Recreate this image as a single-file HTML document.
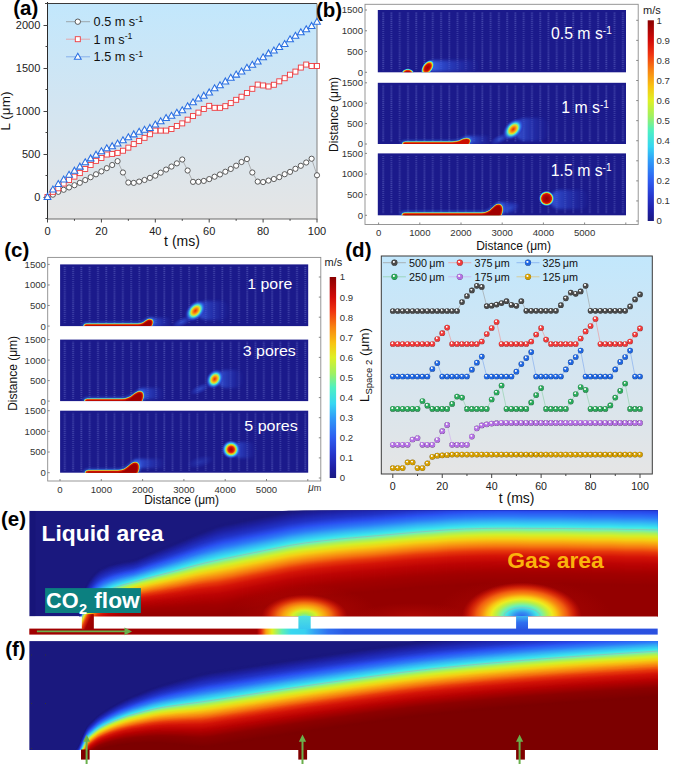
<!DOCTYPE html>
<html><head><meta charset="utf-8"><style>
html,body{margin:0;padding:0;background:#fff;width:685px;height:764px;overflow:hidden}
svg{display:block;font-family:"Liberation Sans",sans-serif}
</style></head><body>
<svg width="685" height="764" viewBox="0 0 685 764">
<defs><linearGradient id="bgA" x1="0" y1="0" x2="0" y2="1">
<stop offset="0" stop-color="#c2e7fc"/><stop offset="0.45" stop-color="#d2e5f2"/><stop offset="1" stop-color="#e5e5e5"/></linearGradient><linearGradient id="cbar" x1="0" y1="1" x2="0" y2="0"><stop offset="0" stop-color="#1a1a80"/><stop offset="0.05" stop-color="#1e1ea4"/><stop offset="0.12" stop-color="#2636cc"/><stop offset="0.2" stop-color="#2e5cf0"/><stop offset="0.3" stop-color="#2f9cf8"/><stop offset="0.37" stop-color="#36d6f2"/><stop offset="0.45" stop-color="#4ef0c2"/><stop offset="0.52" stop-color="#9ef062"/><stop offset="0.6" stop-color="#def024"/><stop offset="0.67" stop-color="#f8c412"/><stop offset="0.75" stop-color="#f88412"/><stop offset="0.83" stop-color="#f03410"/><stop offset="0.9" stop-color="#d20a08"/><stop offset="1.0" stop-color="#8a0000"/></linearGradient><radialGradient id="blobR3"><stop offset="0" stop-color="#a80000"/><stop offset="0.22" stop-color="#d00c06"/><stop offset="0.35" stop-color="#e83a0a"/><stop offset="0.45" stop-color="#f8b010"/><stop offset="0.55" stop-color="#b8f040"/><stop offset="0.65" stop-color="#40d8f0"/><stop offset="0.78" stop-color="#3a80f0" stop-opacity="0.8"/><stop offset="0.9" stop-color="#2a50d8" stop-opacity="0.35"/><stop offset="1" stop-color="#2a40d0" stop-opacity="0"/></radialGradient><radialGradient id="blobR"><stop offset="0" stop-color="#a00000"/><stop offset="0.3" stop-color="#c80804"/><stop offset="0.42" stop-color="#e83a0a"/><stop offset="0.5" stop-color="#f8b010"/><stop offset="0.58" stop-color="#b8f040"/><stop offset="0.66" stop-color="#40e0e8"/><stop offset="0.78" stop-color="#3a80f0" stop-opacity="0.8"/><stop offset="0.9" stop-color="#2a50d8" stop-opacity="0.35"/><stop offset="1" stop-color="#2a40d0" stop-opacity="0"/></radialGradient><radialGradient id="blobO"><stop offset="0" stop-color="#e83000"/><stop offset="0.2" stop-color="#f88010"/><stop offset="0.38" stop-color="#e8e020"/><stop offset="0.52" stop-color="#50e8d0"/><stop offset="0.68" stop-color="#3080f0" stop-opacity="0.8"/><stop offset="0.85" stop-color="#2a40d0" stop-opacity="0.35"/><stop offset="1" stop-color="#1c1a88" stop-opacity="0"/></radialGradient><radialGradient id="blobR2"><stop offset="0" stop-color="#a00000"/><stop offset="0.42" stop-color="#c80a04"/><stop offset="0.58" stop-color="#ec4a0a"/><stop offset="0.66" stop-color="#f8b010"/><stop offset="0.73" stop-color="#b8f040"/><stop offset="0.8" stop-color="#40e0e8"/><stop offset="0.9" stop-color="#3070f0" stop-opacity="0.6"/><stop offset="1" stop-color="#2a40d0" stop-opacity="0"/></radialGradient><radialGradient id="blobC"><stop offset="0" stop-color="#900000"/><stop offset="0.45" stop-color="#b80404"/><stop offset="0.64" stop-color="#e02008"/><stop offset="0.71" stop-color="#f8b010"/><stop offset="0.77" stop-color="#a0f060"/><stop offset="0.83" stop-color="#40d8f0"/><stop offset="0.92" stop-color="#3070f0" stop-opacity="0.5"/><stop offset="1" stop-color="#2a40d0" stop-opacity="0"/></radialGradient><radialGradient id="plume"><stop offset="0" stop-color="#3a60e0" stop-opacity="0.75"/><stop offset="0.6" stop-color="#3050d8" stop-opacity="0.35"/><stop offset="1" stop-color="#2a3ad0" stop-opacity="0"/></radialGradient><filter id="blur06" x="-20%" y="-50%" width="140%" height="200%"><feGaussianBlur stdDeviation="0.6"/></filter><filter id="blur05" x="-20%" y="-50%" width="140%" height="200%"><feGaussianBlur stdDeviation="0.5"/></filter><filter id="blur04" x="-20%" y="-50%" width="140%" height="200%"><feGaussianBlur stdDeviation="0.4"/></filter><filter id="blur1" x="-30%" y="-50%" width="160%" height="200%"><feGaussianBlur stdDeviation="1.1"/></filter><filter id="blur2" x="-30%" y="-60%" width="160%" height="220%"><feGaussianBlur stdDeviation="1.8"/></filter><linearGradient id="wakeG" x1="0" y1="0" x2="1" y2="0"><stop offset="0" stop-color="#3e6af0" stop-opacity="0.95"/><stop offset="0.35" stop-color="#3458e0" stop-opacity="0.6"/><stop offset="1" stop-color="#2a40d0" stop-opacity="0"/></linearGradient><pattern id="pb" x="382" y="0" width="8.265" height="2.05" patternUnits="userSpaceOnUse"><rect x="0.3" y="0.3" width="1.8" height="1" fill="#8890e0" fill-opacity="0.4"/></pattern><clipPath id="pbc10"><rect x="377.8" y="10.0" width="248.2" height="62.3"/></clipPath><clipPath id="pbc82"><rect x="377.8" y="82.8" width="248.2" height="61.2"/></clipPath><clipPath id="pbc153"><rect x="377.8" y="153.4" width="248.2" height="61.9"/></clipPath><pattern id="pc" x="63.6" y="0" width="8.293" height="2.05" patternUnits="userSpaceOnUse"><rect x="0.3" y="0.3" width="1.8" height="1" fill="#8890e0" fill-opacity="0.4"/></pattern><clipPath id="pcc264"><rect x="60.1" y="264.4" width="248.1" height="61.7"/></clipPath><clipPath id="pcc339"><rect x="60.1" y="339.6" width="248.1" height="61.5"/></clipPath><clipPath id="pcc410"><rect x="60.1" y="410.7" width="248.1" height="62"/></clipPath><linearGradient id="bgD" x1="0" y1="0" x2="0" y2="1"><stop offset="0" stop-color="#c2e7fc"/><stop offset="0.45" stop-color="#d2e5f2"/><stop offset="1" stop-color="#e5e5e5"/></linearGradient><radialGradient id="ballg" cx="0.5" cy="0.5" r="0.5" fx="0.36" fy="0.3"><stop offset="0" stop-color="#ffffff"/><stop offset="0.22" stop-color="#f4f4f4" stop-opacity="1"/><stop offset="0.45" stop-color="#4a4a4a"/><stop offset="0.85" stop-color="#4a4a4a"/><stop offset="1" stop-color="#2c2c2c"/></radialGradient><radialGradient id="ballr" cx="0.5" cy="0.5" r="0.5" fx="0.36" fy="0.3"><stop offset="0" stop-color="#ffffff"/><stop offset="0.22" stop-color="#f4f4f4" stop-opacity="1"/><stop offset="0.45" stop-color="#f03a3a"/><stop offset="0.85" stop-color="#f03a3a"/><stop offset="1" stop-color="#902222"/></radialGradient><radialGradient id="ballb" cx="0.5" cy="0.5" r="0.5" fx="0.36" fy="0.3"><stop offset="0" stop-color="#ffffff"/><stop offset="0.22" stop-color="#f4f4f4" stop-opacity="1"/><stop offset="0.45" stop-color="#1f66e0"/><stop offset="0.85" stop-color="#1f66e0"/><stop offset="1" stop-color="#123d86"/></radialGradient><radialGradient id="balln" cx="0.5" cy="0.5" r="0.5" fx="0.36" fy="0.3"><stop offset="0" stop-color="#ffffff"/><stop offset="0.22" stop-color="#f4f4f4" stop-opacity="1"/><stop offset="0.45" stop-color="#2aa85a"/><stop offset="0.85" stop-color="#2aa85a"/><stop offset="1" stop-color="#196436"/></radialGradient><radialGradient id="ballp" cx="0.5" cy="0.5" r="0.5" fx="0.36" fy="0.3"><stop offset="0" stop-color="#ffffff"/><stop offset="0.22" stop-color="#f4f4f4" stop-opacity="1"/><stop offset="0.45" stop-color="#b470e4"/><stop offset="0.85" stop-color="#b470e4"/><stop offset="1" stop-color="#6c4388"/></radialGradient><radialGradient id="ballo" cx="0.5" cy="0.5" r="0.5" fx="0.36" fy="0.3"><stop offset="0" stop-color="#ffffff"/><stop offset="0.22" stop-color="#f4f4f4" stop-opacity="1"/><stop offset="0.45" stop-color="#d49e00"/><stop offset="0.85" stop-color="#d49e00"/><stop offset="1" stop-color="#7f5e00"/></radialGradient><clipPath id="clipE"><rect x="29.3" y="510.8" width="628.4" height="105.7"/></clipPath><radialGradient id="poreGlow2"><stop offset="0" stop-color="#60e8d0"/><stop offset="0.14" stop-color="#a0f050"/><stop offset="0.28" stop-color="#d8f028"/><stop offset="0.36" stop-color="#f0d018"/><stop offset="0.5" stop-color="#f8a010"/><stop offset="0.64" stop-color="#f06810"/><stop offset="0.8" stop-color="#e03008" stop-opacity="0.8"/><stop offset="1" stop-color="#d01008" stop-opacity="0"/></radialGradient><radialGradient id="poreGlow3"><stop offset="0" stop-color="#2e64f0"/><stop offset="0.12" stop-color="#3490f0"/><stop offset="0.25" stop-color="#40e0e8"/><stop offset="0.33" stop-color="#70f0b0"/><stop offset="0.43" stop-color="#b8f048"/><stop offset="0.51" stop-color="#ecec20"/><stop offset="0.58" stop-color="#f8c814"/><stop offset="0.66" stop-color="#f89010"/><stop offset="0.76" stop-color="#f05a10"/><stop offset="0.88" stop-color="#e02808" stop-opacity="0.7"/><stop offset="1" stop-color="#d01008" stop-opacity="0"/></radialGradient><radialGradient id="bottomRed"><stop offset="0" stop-color="#d81408" stop-opacity="0.8"/><stop offset="1" stop-color="#d01008" stop-opacity="0"/></radialGradient><linearGradient id="stripE" x1="29.3" y1="0" x2="657.7" y2="0" gradientUnits="userSpaceOnUse"><stop offset="0" stop-color="#a00000"/><stop offset="0.3623" stop-color="#a00000"/><stop offset="0.3687" stop-color="#e02010"/><stop offset="0.3767" stop-color="#f8a010"/><stop offset="0.3862" stop-color="#e0f020"/><stop offset="0.4021" stop-color="#60f0b0"/><stop offset="0.4165" stop-color="#38d8f0"/><stop offset="0.4387" stop-color="#38d0f0"/><stop offset="0.4546" stop-color="#34a0f4"/><stop offset="0.4753" stop-color="#3070f0"/><stop offset="0.5024" stop-color="#2a58e4"/><stop offset="1" stop-color="#2a50e0"/></linearGradient><linearGradient id="plugG" x1="0" y1="0" x2="1" y2="0.6"><stop offset="0" stop-color="#40d0f0"/><stop offset="0.2" stop-color="#f0e020"/><stop offset="0.4" stop-color="#e83a0c"/><stop offset="0.65" stop-color="#a80000"/><stop offset="1" stop-color="#980000"/></linearGradient><linearGradient id="pore2G" x1="0" y1="0" x2="0" y2="1"><stop offset="0" stop-color="#50e0e0"/><stop offset="1" stop-color="#38c8f0"/></linearGradient><linearGradient id="pore3G" x1="0" y1="0" x2="0" y2="1"><stop offset="0" stop-color="#40b8f0"/><stop offset="0.5" stop-color="#3070f0"/><stop offset="1" stop-color="#2a58e4"/></linearGradient><clipPath id="clipF"><rect x="29.2" y="641.1" width="628.5" height="108.9"/></clipPath><radialGradient id="pore1F" cx="0.5" cy="1" r="1"><stop offset="0" stop-color="#40d8f0" stop-opacity="0.9"/><stop offset="0.5" stop-color="#3a90f0" stop-opacity="0.6"/><stop offset="1" stop-color="#2a40d0" stop-opacity="0"/></radialGradient></defs>
<rect x="47.5" y="3.5" width="269.5" height="215.5" fill="url(#bgA)"/><path d="M45 3.5H317.0" stroke="#3a3a3a" stroke-width="1"/><path d="M47.5 2V219.5" stroke="#2a2a2a" stroke-width="1"/><path d="M47.5 219.0H317.5" stroke="#6a6a6a" stroke-width="1.1"/><path d="M317.0 3.5V219.0" stroke="#8a8a8a" stroke-width="1.1"/><path d="M45.5 218.5H47.5M43.5 197.5H47.5M45.5 175.5H47.5M43.5 154.5H47.5M45.5 132.5H47.5M43.5 111.5H47.5M45.5 89.5H47.5M43.5 68.5H47.5M45.5 46.5H47.5M43.5 25.5H47.5M45.5 3.5H47.5M47.5 219.0V222.5M74.45 219.0V220.8M101.4 219.0V222.5M128.35 219.0V220.8M155.3 219.0V222.5M182.25 219.0V220.8M209.2 219.0V222.5M236.15 219.0V220.8M263.1 219.0V222.5M290.05 219.0V220.8M317 219.0V222.5" stroke="#444" stroke-width="1"/><polyline points="47.5,197 52.89,194.68 58.28,191.84 63.67,189.78 69.06,187.45 74.45,185.22 79.84,182.81 85.23,180.06 90.62,177.22 96.01,174.3 101.4,171.37 106.79,168.19 112.18,165.01 117.57,161.14 122.96,172.49 128.35,182.55 133.74,182.9 139.13,181.61 144.52,179.97 149.91,177.91 155.3,175.67 160.69,172.66 166.08,169.57 171.47,166.56 176.86,163.37 182.25,159.5 187.64,170.51 193.03,181.86 198.42,181.78 203.81,180.92 209.2,179.11 214.59,176.7 219.98,174.47 225.37,171.72 230.76,168.96 236.15,165.7 241.54,162 246.93,159.07 252.32,172.49 257.71,181.61 263.1,182.04 268.49,180.57 273.88,179.03 279.27,177.13 284.66,174.21 290.05,171.89 295.44,168.79 300.83,165.78 306.22,162.51 311.61,158.73 317,175.24" fill="none" stroke="#8a8a8a" stroke-width="0.6"/><polyline points="47.5,197 52.89,191.84 58.28,188.31 63.67,183.58 69.06,180.06 74.45,176.62 79.84,173.09 85.23,168.96 90.62,165.01 96.01,160.88 101.4,158.04 106.79,154.52 112.18,153.91 117.57,152.88 122.96,150.73 128.35,147.64 133.74,144.11 139.13,141.01 144.52,137.83 149.91,134.22 155.3,130.61 160.69,130.61 166.08,130.61 171.47,128.97 176.86,125.96 182.25,123.38 187.64,119.69 193.03,116.07 198.42,112.63 203.81,108.94 209.2,105.84 214.59,107.82 219.98,107.82 225.37,106.18 230.76,103.09 236.15,99.82 241.54,96.72 246.93,93.03 252.32,88.81 257.71,84.6 263.1,85.46 268.49,86.49 273.88,84.77 279.27,81.33 284.66,78.23 290.05,74.71 295.44,71.61 300.83,67.57 306.22,64.56 311.61,66.02 317,66.02" fill="none" stroke="#f08a8a" stroke-width="0.6"/><polyline points="47.5,197 52.89,189.69 58.28,184.19 63.67,179.63 69.06,174.9 74.45,170.77 79.84,166.73 85.23,162.34 90.62,158.47 96.01,154.77 101.4,151.33 106.79,148.41 112.18,146.26 117.57,143.68 122.96,140.41 128.35,137.4 133.74,134.48 139.13,131.9 144.52,129.92 149.91,128.03 155.3,124.67 160.69,121.41 166.08,118.14 171.47,115.9 176.86,112.89 182.25,110.31 187.64,106.44 193.03,102.31 198.42,98.53 203.81,95.78 209.2,92.51 214.59,88.38 219.98,85.29 225.37,81.5 230.76,77.8 236.15,74.71 241.54,71.61 246.93,67.91 252.32,64.9 257.71,61.55 263.1,57.42 268.49,53.47 273.88,50.54 279.27,47.19 284.66,44.09 290.05,39.36 295.44,35.92 300.83,32.4 306.22,29.3 311.61,26.03 317,21.82" fill="none" stroke="#6a9ae8" stroke-width="0.6"/><g fill="#fff" stroke="#4a4a4a" stroke-width="0.9"><circle cx="47.5" cy="197" r="2.6"/><circle cx="52.89" cy="194.68" r="2.6"/><circle cx="58.28" cy="191.84" r="2.6"/><circle cx="63.67" cy="189.78" r="2.6"/><circle cx="69.06" cy="187.45" r="2.6"/><circle cx="74.45" cy="185.22" r="2.6"/><circle cx="79.84" cy="182.81" r="2.6"/><circle cx="85.23" cy="180.06" r="2.6"/><circle cx="90.62" cy="177.22" r="2.6"/><circle cx="96.01" cy="174.3" r="2.6"/><circle cx="101.4" cy="171.37" r="2.6"/><circle cx="106.79" cy="168.19" r="2.6"/><circle cx="112.18" cy="165.01" r="2.6"/><circle cx="117.57" cy="161.14" r="2.6"/><circle cx="122.96" cy="172.49" r="2.6"/><circle cx="128.35" cy="182.55" r="2.6"/><circle cx="133.74" cy="182.9" r="2.6"/><circle cx="139.13" cy="181.61" r="2.6"/><circle cx="144.52" cy="179.97" r="2.6"/><circle cx="149.91" cy="177.91" r="2.6"/><circle cx="155.3" cy="175.67" r="2.6"/><circle cx="160.69" cy="172.66" r="2.6"/><circle cx="166.08" cy="169.57" r="2.6"/><circle cx="171.47" cy="166.56" r="2.6"/><circle cx="176.86" cy="163.37" r="2.6"/><circle cx="182.25" cy="159.5" r="2.6"/><circle cx="187.64" cy="170.51" r="2.6"/><circle cx="193.03" cy="181.86" r="2.6"/><circle cx="198.42" cy="181.78" r="2.6"/><circle cx="203.81" cy="180.92" r="2.6"/><circle cx="209.2" cy="179.11" r="2.6"/><circle cx="214.59" cy="176.7" r="2.6"/><circle cx="219.98" cy="174.47" r="2.6"/><circle cx="225.37" cy="171.72" r="2.6"/><circle cx="230.76" cy="168.96" r="2.6"/><circle cx="236.15" cy="165.7" r="2.6"/><circle cx="241.54" cy="162" r="2.6"/><circle cx="246.93" cy="159.07" r="2.6"/><circle cx="252.32" cy="172.49" r="2.6"/><circle cx="257.71" cy="181.61" r="2.6"/><circle cx="263.1" cy="182.04" r="2.6"/><circle cx="268.49" cy="180.57" r="2.6"/><circle cx="273.88" cy="179.03" r="2.6"/><circle cx="279.27" cy="177.13" r="2.6"/><circle cx="284.66" cy="174.21" r="2.6"/><circle cx="290.05" cy="171.89" r="2.6"/><circle cx="295.44" cy="168.79" r="2.6"/><circle cx="300.83" cy="165.78" r="2.6"/><circle cx="306.22" cy="162.51" r="2.6"/><circle cx="311.61" cy="158.73" r="2.6"/><circle cx="317" cy="175.24" r="2.6"/></g><g fill="#fff" stroke="#ee3b3f" stroke-width="0.9"><rect x="45" y="194.5" width="5" height="5"/><rect x="50.39" y="189.34" width="5" height="5"/><rect x="55.78" y="185.81" width="5" height="5"/><rect x="61.17" y="181.08" width="5" height="5"/><rect x="66.56" y="177.56" width="5" height="5"/><rect x="71.95" y="174.12" width="5" height="5"/><rect x="77.34" y="170.59" width="5" height="5"/><rect x="82.73" y="166.46" width="5" height="5"/><rect x="88.12" y="162.51" width="5" height="5"/><rect x="93.51" y="158.38" width="5" height="5"/><rect x="98.9" y="155.54" width="5" height="5"/><rect x="104.29" y="152.02" width="5" height="5"/><rect x="109.68" y="151.41" width="5" height="5"/><rect x="115.07" y="150.38" width="5" height="5"/><rect x="120.46" y="148.23" width="5" height="5"/><rect x="125.85" y="145.14" width="5" height="5"/><rect x="131.24" y="141.61" width="5" height="5"/><rect x="136.63" y="138.51" width="5" height="5"/><rect x="142.02" y="135.33" width="5" height="5"/><rect x="147.41" y="131.72" width="5" height="5"/><rect x="152.8" y="128.11" width="5" height="5"/><rect x="158.19" y="128.11" width="5" height="5"/><rect x="163.58" y="128.11" width="5" height="5"/><rect x="168.97" y="126.47" width="5" height="5"/><rect x="174.36" y="123.46" width="5" height="5"/><rect x="179.75" y="120.88" width="5" height="5"/><rect x="185.14" y="117.19" width="5" height="5"/><rect x="190.53" y="113.57" width="5" height="5"/><rect x="195.92" y="110.13" width="5" height="5"/><rect x="201.31" y="106.44" width="5" height="5"/><rect x="206.7" y="103.34" width="5" height="5"/><rect x="212.09" y="105.32" width="5" height="5"/><rect x="217.48" y="105.32" width="5" height="5"/><rect x="222.87" y="103.68" width="5" height="5"/><rect x="228.26" y="100.59" width="5" height="5"/><rect x="233.65" y="97.32" width="5" height="5"/><rect x="239.04" y="94.22" width="5" height="5"/><rect x="244.43" y="90.53" width="5" height="5"/><rect x="249.82" y="86.31" width="5" height="5"/><rect x="255.21" y="82.1" width="5" height="5"/><rect x="260.6" y="82.96" width="5" height="5"/><rect x="265.99" y="83.99" width="5" height="5"/><rect x="271.38" y="82.27" width="5" height="5"/><rect x="276.77" y="78.83" width="5" height="5"/><rect x="282.16" y="75.73" width="5" height="5"/><rect x="287.55" y="72.21" width="5" height="5"/><rect x="292.94" y="69.11" width="5" height="5"/><rect x="298.33" y="65.07" width="5" height="5"/><rect x="303.72" y="62.06" width="5" height="5"/><rect x="309.11" y="63.52" width="5" height="5"/><rect x="314.5" y="63.52" width="5" height="5"/></g><g fill="#fff" stroke="#2a6fe2" stroke-width="1.05" stroke-linejoin="miter"><path d="M47.5 193.4L50.9 199.4L44.1 199.4Z"/><path d="M52.89 186.09L56.29 192.09L49.49 192.09Z"/><path d="M58.28 180.59L61.68 186.59L54.88 186.59Z"/><path d="M63.67 176.03L67.07 182.03L60.27 182.03Z"/><path d="M69.06 171.3L72.46 177.3L65.66 177.3Z"/><path d="M74.45 167.17L77.85 173.17L71.05 173.17Z"/><path d="M79.84 163.13L83.24 169.13L76.44 169.13Z"/><path d="M85.23 158.74L88.63 164.74L81.83 164.74Z"/><path d="M90.62 154.87L94.02 160.87L87.22 160.87Z"/><path d="M96.01 151.17L99.41 157.17L92.61 157.17Z"/><path d="M101.4 147.73L104.8 153.73L98 153.73Z"/><path d="M106.79 144.81L110.19 150.81L103.39 150.81Z"/><path d="M112.18 142.66L115.58 148.66L108.78 148.66Z"/><path d="M117.57 140.08L120.97 146.08L114.17 146.08Z"/><path d="M122.96 136.81L126.36 142.81L119.56 142.81Z"/><path d="M128.35 133.8L131.75 139.8L124.95 139.8Z"/><path d="M133.74 130.88L137.14 136.88L130.34 136.88Z"/><path d="M139.13 128.3L142.53 134.3L135.73 134.3Z"/><path d="M144.52 126.32L147.92 132.32L141.12 132.32Z"/><path d="M149.91 124.43L153.31 130.43L146.51 130.43Z"/><path d="M155.3 121.07L158.7 127.07L151.9 127.07Z"/><path d="M160.69 117.81L164.09 123.81L157.29 123.81Z"/><path d="M166.08 114.54L169.48 120.54L162.68 120.54Z"/><path d="M171.47 112.3L174.87 118.3L168.07 118.3Z"/><path d="M176.86 109.29L180.26 115.29L173.46 115.29Z"/><path d="M182.25 106.71L185.65 112.71L178.85 112.71Z"/><path d="M187.64 102.84L191.04 108.84L184.24 108.84Z"/><path d="M193.03 98.71L196.43 104.71L189.63 104.71Z"/><path d="M198.42 94.93L201.82 100.93L195.02 100.93Z"/><path d="M203.81 92.18L207.21 98.18L200.41 98.18Z"/><path d="M209.2 88.91L212.6 94.91L205.8 94.91Z"/><path d="M214.59 84.78L217.99 90.78L211.19 90.78Z"/><path d="M219.98 81.69L223.38 87.69L216.58 87.69Z"/><path d="M225.37 77.9L228.77 83.9L221.97 83.9Z"/><path d="M230.76 74.2L234.16 80.2L227.36 80.2Z"/><path d="M236.15 71.11L239.55 77.11L232.75 77.11Z"/><path d="M241.54 68.01L244.94 74.01L238.14 74.01Z"/><path d="M246.93 64.31L250.33 70.31L243.53 70.31Z"/><path d="M252.32 61.3L255.72 67.3L248.92 67.3Z"/><path d="M257.71 57.95L261.11 63.95L254.31 63.95Z"/><path d="M263.1 53.82L266.5 59.82L259.7 59.82Z"/><path d="M268.49 49.87L271.89 55.87L265.09 55.87Z"/><path d="M273.88 46.94L277.28 52.94L270.48 52.94Z"/><path d="M279.27 43.59L282.67 49.59L275.87 49.59Z"/><path d="M284.66 40.49L288.06 46.49L281.26 46.49Z"/><path d="M290.05 35.76L293.45 41.76L286.65 41.76Z"/><path d="M295.44 32.32L298.84 38.32L292.04 38.32Z"/><path d="M300.83 28.8L304.23 34.8L297.43 34.8Z"/><path d="M306.22 25.7L309.62 31.7L302.82 31.7Z"/><path d="M311.61 22.43L315.01 28.43L308.21 28.43Z"/><path d="M317 18.22L320.4 24.22L313.6 24.22Z"/></g><g font-size="11" fill="#222"><text x="40.3" y="201" text-anchor="end">0</text><text x="40.3" y="158" text-anchor="end">500</text><text x="40.3" y="115" text-anchor="end">1000</text><text x="40.3" y="72" text-anchor="end">1500</text><text x="40.3" y="29" text-anchor="end">2000</text><text x="47.5" y="235" text-anchor="middle">0</text><text x="101.4" y="235" text-anchor="middle">20</text><text x="155.3" y="235" text-anchor="middle">40</text><text x="209.2" y="235" text-anchor="middle">60</text><text x="263.1" y="235" text-anchor="middle">80</text><text x="317" y="235" text-anchor="middle">100</text></g><text x="182" y="246.3" font-size="14" text-anchor="middle" fill="#111">t (ms)</text><text transform="translate(9.6 111) rotate(-90)" font-size="13.5" text-anchor="middle" fill="#111">L (μm)</text><text x="13.2" y="14.6" font-size="20.5" font-weight="bold" fill="#000">(a)</text><path d="M66 21.7H90" stroke="#8a8a8a" stroke-width="0.7"/><circle cx="77.8" cy="21.7" r="2.7" fill="#fff" stroke="#4a4a4a" stroke-width="0.9"/><text x="93.6" y="26" font-size="12.7" fill="#111">0.5 m s<tspan font-size="8.8" dy="-4.4">-1</tspan></text><path d="M66 39.2H90" stroke="#f08a8a" stroke-width="0.7"/><rect x="75.3" y="36.7" width="5" height="5" fill="#fff" stroke="#ee3b3f" stroke-width="0.9"/><text x="93.6" y="43.5" font-size="12.7" fill="#111">1 m s<tspan font-size="8.8" dy="-4.4">-1</tspan></text><path d="M66 56.8H90" stroke="#6a9ae8" stroke-width="0.7"/><path d="M77.8 53.199999999999996L81.2 59.199999999999996L74.39999999999999 59.199999999999996Z" fill="#fff" stroke="#2a6fe2" stroke-width="1.05"/><text x="93.6" y="61.1" font-size="12.7" fill="#111">1.5 m s<tspan font-size="8.8" dy="-4.4">-1</tspan></text><rect x="365.0" y="4.3" width="273.2" height="220.2" fill="none" stroke="#8c8c8c" stroke-width="0.9"/><rect x="377.8" y="10.0" width="248.2" height="62.3" fill="#1b1a8b"/><rect x="377.8" y="12" width="248.2" height="58.3" fill="url(#pb)"/><rect x="377.8" y="82.8" width="248.2" height="61.2" fill="#1b1a8b"/><rect x="377.8" y="84.8" width="248.2" height="57.2" fill="url(#pb)"/><rect x="377.8" y="153.4" width="248.2" height="61.9" fill="#1b1a8b"/><rect x="377.8" y="155.4" width="248.2" height="57.9" fill="url(#pb)"/><g clip-path="url(#pbc10)"><rect x="428" y="60.5" width="52" height="11" rx="5.5" fill="url(#wakeG)" opacity="1.0" filter="url(#blur2)"/><ellipse cx="407.8" cy="72.6" rx="6.4" ry="4" transform="rotate(0 407.8 72.6)" fill="url(#blobR2)"/><ellipse cx="427.6" cy="67.6" rx="5.4" ry="8.8" transform="rotate(36 427.6 67.6)" fill="url(#blobR2)"/></g><g clip-path="url(#pbc82)"><rect x="514" y="118" width="36" height="23" rx="11.5" fill="url(#wakeG)" opacity="0.8" filter="url(#blur2)"/><rect x="464" y="136" width="28" height="8.5" rx="4.25" fill="url(#wakeG)" opacity="1.0" filter="url(#blur2)"/><ellipse cx="500" cy="139" rx="11" ry="4.5" transform="rotate(-25 500 139)" fill="url(#plume)" opacity="1.0"/><path d="M400.18 144.5C400.18 139.9 404.8 139.9 407.3 139.9L452 139.9C459.98 139.9 462.15 136.4 466.5 136.4C473.56 136.4 473.22 141.34 470.08 144.5Z" fill="#3a78f0" opacity="0.5" filter="url(#blur1)"/><path d="M401.92 144.5C401.92 141.35 404.8 141.35 407.3 141.35L452 141.35C459.98 141.35 462.15 137.85 466.5 137.85C471.96 137.85 471.48 141.85 468.92 144.5Z" fill="#48d8e8" filter="url(#blur05)"/><path d="M402.4 144.5C402.4 141.75 404.8 141.75 407.3 141.75L452 141.75C459.98 141.75 462.15 138.25 466.5 138.25C471.52 138.25 471 141.99 468.6 144.5Z" fill="#d8e830" filter="url(#blur05)"/><path d="M402.82 144.5C402.82 142.1 404.8 142.1 407.3 142.1L452 142.1C459.98 142.1 462.15 138.6 466.5 138.6C471.14 138.6 470.58 142.11 468.32 144.5Z" fill="#f48a10" filter="url(#blur04)"/><path d="M403.3 144.5C403.3 142.5 404.8 142.5 407.3 142.5L452 142.5C459.98 142.5 462.15 139 466.5 139C470.7 139 470.1 142.25 468 144.5Z" fill="#cc0e06" filter="url(#blur04)"/><ellipse cx="513.2" cy="129.3" rx="8.8" ry="13.2" transform="rotate(42 513.2 129.3)" fill="url(#blobO)"/></g><g clip-path="url(#pbc153)"><rect x="550" y="190" width="40" height="19" rx="9.5" fill="url(#wakeG)" opacity="0.8" filter="url(#blur2)"/><rect x="497" y="202" width="23" height="11" rx="5.5" fill="url(#wakeG)" opacity="1.0" filter="url(#blur2)"/><ellipse cx="510" cy="208" rx="10" ry="5" transform="rotate(-20 510 208)" fill="url(#plume)" opacity="0.7"/><path d="M399.58 215.8C399.58 210.8 404.2 210.8 406.7 210.8L482 210.8C491.02 210.8 493.48 202.2 498.4 202.2C506.06 202.2 505.72 210.72 502.58 215.8Z" fill="#3a78f0" opacity="0.5" filter="url(#blur1)"/><path d="M401.32 215.8C401.32 212.25 404.2 212.25 406.7 212.25L482 212.25C491.02 212.25 493.48 203.65 498.4 203.65C504.46 203.65 503.98 211.22 501.42 215.8Z" fill="#48d8e8" filter="url(#blur05)"/><path d="M401.8 215.8C401.8 212.65 404.2 212.65 406.7 212.65L482 212.65C491.02 212.65 493.48 204.05 498.4 204.05C504.02 204.05 503.5 211.36 501.1 215.8Z" fill="#d8e830" filter="url(#blur05)"/><path d="M402.22 215.8C402.22 213 404.2 213 406.7 213L482 213C491.02 213 493.48 204.4 498.4 204.4C503.64 204.4 503.08 211.49 500.82 215.8Z" fill="#f48a10" filter="url(#blur04)"/><path d="M402.7 215.8C402.7 213.4 404.2 213.4 406.7 213.4L482 213.4C491.02 213.4 493.48 204.8 498.4 204.8C503.2 204.8 502.6 211.62 500.5 215.8Z" fill="#cc0e06" filter="url(#blur04)"/><path d="M404.26 215.8C404.26 214.7 404.2 214.7 406.7 214.7L482 214.7C491.02 214.7 493.48 206.1 498.4 206.1C501.77 206.1 501.04 212.08 499.46 215.8Z" fill="#a00000" filter="url(#blur05)"/><ellipse cx="546.6" cy="198.5" rx="7.8" ry="7.8" transform="rotate(0 546.6 198.5)" fill="url(#blobC)"/></g><path d="M365.0 72.3h2M365.0 51.53h2M365.0 30.77h2M365.0 10h2M365.0 144h2M365.0 123.6h2M365.0 103.2h2M365.0 82.8h2M365.0 215.3h2M365.0 194.67h2M365.0 174.03h2M365.0 153.4h2M378.6 224.5v-2M419.8 224.5v-2M461 224.5v-2M502.2 224.5v-2M543.4 224.5v-2M584.6 224.5v-2M625.8 224.5v-2M638.2 20.3h-2M638.2 40.37h-2M638.2 60.44h-2M638.2 80.51h-2M638.2 100.58h-2M638.2 120.65h-2M638.2 140.72h-2M638.2 160.79h-2M638.2 180.86h-2M638.2 200.93h-2M638.2 221h-2" stroke="#7a7a7a" stroke-width="0.9"/><rect x="647.7" y="20.3" width="6.2" height="200.7" fill="url(#cbar)"/><g font-size="9.6" fill="#333"><text x="363.0" y="75.7" text-anchor="end">0</text><text x="363.0" y="54.93" text-anchor="end">500</text><text x="363.0" y="34.17" text-anchor="end">1000</text><text x="363.0" y="13.4" text-anchor="end">1500</text><text x="363.0" y="147.4" text-anchor="end">0</text><text x="363.0" y="127" text-anchor="end">500</text><text x="363.0" y="106.6" text-anchor="end">1000</text><text x="363.0" y="86.2" text-anchor="end">1500</text><text x="363.0" y="218.7" text-anchor="end">0</text><text x="363.0" y="198.07" text-anchor="end">500</text><text x="363.0" y="177.43" text-anchor="end">1000</text><text x="363.0" y="156.8" text-anchor="end">1500</text><text x="378.6" y="236.3" text-anchor="middle">0</text><text x="419.8" y="236.3" text-anchor="middle">1000</text><text x="461" y="236.3" text-anchor="middle">2000</text><text x="502.2" y="236.3" text-anchor="middle">3000</text><text x="543.4" y="236.3" text-anchor="middle">4000</text><text x="584.6" y="236.3" text-anchor="middle">5000</text><text x="656.5" y="23.7">1</text><text x="656.5" y="43.77">0.9</text><text x="656.5" y="63.84">0.8</text><text x="656.5" y="83.91">0.7</text><text x="656.5" y="103.98">0.6</text><text x="656.5" y="124.05">0.5</text><text x="656.5" y="144.12">0.4</text><text x="656.5" y="164.19">0.3</text><text x="656.5" y="184.26">0.2</text><text x="656.5" y="204.33">0.1</text><text x="656.5" y="224.4">0</text></g><text x="643" y="13.5" font-size="11" fill="#222">m/s</text><text x="551" y="38.9" font-size="15.8" fill="#fff">0.5 m s<tspan font-size="10" dy="-4.6">-1</tspan></text><text x="561.3" y="112.9" font-size="15.8" fill="#fff">1 m s<tspan font-size="10" dy="-4.6">-1</tspan></text><text x="550.8" y="175.8" font-size="15.8" fill="#fff">1.5 m s<tspan font-size="10" dy="-4.6">-1</tspan></text><text transform="translate(338.3 114.5) rotate(-90)" font-size="12" text-anchor="middle" fill="#111">Distance (μm)</text><text x="476.2" y="250" font-size="12" fill="#111">Distance (μm)</text><text x="315.9" y="17.2" font-size="20.5" font-weight="bold" fill="#000">(b)</text><rect x="47.7" y="257.4" width="273.1" height="223.6" fill="none" stroke="#8c8c8c" stroke-width="0.9"/><rect x="60.1" y="264.4" width="248.1" height="61.7" fill="#1b1a8b"/><rect x="60.1" y="266.4" width="248.1" height="57.7" fill="url(#pc)"/><rect x="60.1" y="339.6" width="248.1" height="61.5" fill="#1b1a8b"/><rect x="60.1" y="341.6" width="248.1" height="57.5" fill="url(#pc)"/><rect x="60.1" y="410.7" width="248.1" height="62" fill="#1b1a8b"/><rect x="60.1" y="412.7" width="248.1" height="58" fill="url(#pc)"/><g clip-path="url(#pcc264)"><rect x="197" y="301" width="33" height="19" rx="9.5" fill="url(#wakeG)" opacity="0.8" filter="url(#blur2)"/><rect x="148" y="318" width="24" height="8.5" rx="4.25" fill="url(#wakeG)" opacity="1.0" filter="url(#blur2)"/><ellipse cx="182" cy="322" rx="11" ry="4.5" transform="rotate(-25 182 322)" fill="url(#plume)" opacity="1.0"/><path d="M81.38 326.6C81.38 321.8 86 321.8 88.5 321.8L138 321.8C144.32 321.8 146.05 317.1 149.5 317.1C156.36 317.1 156.02 322.95 152.88 326.6Z" fill="#3a78f0" opacity="0.5" filter="url(#blur1)"/><path d="M83.12 326.6C83.12 323.25 86 323.25 88.5 323.25L138 323.25C144.32 323.25 146.05 318.55 149.5 318.55C154.76 318.55 154.28 323.46 151.72 326.6Z" fill="#48d8e8" filter="url(#blur05)"/><path d="M83.6 326.6C83.6 323.65 86 323.65 88.5 323.65L138 323.65C144.32 323.65 146.05 318.95 149.5 318.95C154.32 318.95 153.8 323.6 151.4 326.6Z" fill="#d8e830" filter="url(#blur05)"/><path d="M84.02 326.6C84.02 324 86 324 88.5 324L138 324C144.32 324 146.05 319.3 149.5 319.3C153.94 319.3 153.38 323.72 151.12 326.6Z" fill="#f48a10" filter="url(#blur04)"/><path d="M84.5 326.6C84.5 324.4 86 324.4 88.5 324.4L138 324.4C144.32 324.4 146.05 319.7 149.5 319.7C153.5 319.7 152.9 323.86 150.8 326.6Z" fill="#cc0e06" filter="url(#blur04)"/><path d="M86.06 326.6C86.06 325.7 86 325.7 88.5 325.7L138 325.7C144.32 325.7 146.05 321 149.5 321C152.07 321 151.34 324.31 149.76 326.6Z" fill="#a00000" filter="url(#blur05)"/><ellipse cx="195.4" cy="310.8" rx="8.8" ry="13.2" transform="rotate(42 195.4 310.8)" fill="url(#blobO)"/></g><g clip-path="url(#pcc339)"><rect x="217" y="370" width="27" height="18" rx="9" fill="url(#wakeG)" opacity="0.8" filter="url(#blur2)"/><rect x="138" y="388" width="26" height="11" rx="5.5" fill="url(#wakeG)" opacity="1.0" filter="url(#blur2)"/><ellipse cx="200" cy="389" rx="11" ry="4.5" transform="rotate(-25 200 389)" fill="url(#plume)" opacity="0.9"/><path d="M82.18 401.6C82.18 396.9 86.8 396.9 89.3 396.9L122 396.9C131.79 396.9 134.46 389.4 139.8 389.4C146.86 389.4 146.52 397 143.38 401.6Z" fill="#3a78f0" opacity="0.5" filter="url(#blur1)"/><path d="M83.92 401.6C83.92 398.35 86.8 398.35 89.3 398.35L122 398.35C131.79 398.35 134.46 390.85 139.8 390.85C145.26 390.85 144.78 397.51 142.22 401.6Z" fill="#48d8e8" filter="url(#blur05)"/><path d="M84.4 401.6C84.4 398.75 86.8 398.75 89.3 398.75L122 398.75C131.79 398.75 134.46 391.25 139.8 391.25C144.82 391.25 144.3 397.65 141.9 401.6Z" fill="#d8e830" filter="url(#blur05)"/><path d="M84.82 401.6C84.82 399.1 86.8 399.1 89.3 399.1L122 399.1C131.79 399.1 134.46 391.6 139.8 391.6C144.44 391.6 143.88 397.78 141.62 401.6Z" fill="#f48a10" filter="url(#blur04)"/><path d="M85.3 401.6C85.3 399.5 86.8 399.5 89.3 399.5L122 399.5C131.79 399.5 134.46 392 139.8 392C144 392 143.4 397.92 141.3 401.6Z" fill="#cc0e06" filter="url(#blur04)"/><path d="M86.86 401.6C86.86 400.8 86.8 400.8 89.3 400.8L122 400.8C131.79 400.8 134.46 393.3 139.8 393.3C142.57 393.3 141.84 398.37 140.26 401.6Z" fill="#a00000" filter="url(#blur05)"/><ellipse cx="214.7" cy="379" rx="8.6" ry="11.2" transform="rotate(32 214.7 379)" fill="url(#blobO)"/></g><g clip-path="url(#pcc410)"><rect x="233" y="442" width="23" height="16" rx="8" fill="url(#wakeG)" opacity="0.8" filter="url(#blur2)"/><rect x="133" y="459" width="33" height="9" rx="4.5" fill="url(#wakeG)" opacity="1.0" filter="url(#blur2)"/><ellipse cx="200" cy="462" rx="14" ry="6" transform="rotate(-15 200 462)" fill="url(#plume)" opacity="0.5"/><path d="M82.78 473.5C82.78 468.4 87.4 468.4 89.9 468.4L118 468.4C127.46 468.4 130.04 460.2 135.2 460.2C142.56 460.2 142.22 468.52 139.08 473.5Z" fill="#3a78f0" opacity="0.5" filter="url(#blur1)"/><path d="M84.52 473.5C84.52 469.85 87.4 469.85 89.9 469.85L118 469.85C127.46 469.85 130.04 461.65 135.2 461.65C140.96 461.65 140.48 469.03 137.92 473.5Z" fill="#48d8e8" filter="url(#blur05)"/><path d="M85 473.5C85 470.25 87.4 470.25 89.9 470.25L118 470.25C127.46 470.25 130.04 462.05 135.2 462.05C140.52 462.05 140 469.17 137.6 473.5Z" fill="#d8e830" filter="url(#blur05)"/><path d="M85.42 473.5C85.42 470.6 87.4 470.6 89.9 470.6L118 470.6C127.46 470.6 130.04 462.4 135.2 462.4C140.14 462.4 139.58 469.29 137.32 473.5Z" fill="#f48a10" filter="url(#blur04)"/><path d="M85.9 473.5C85.9 471 87.4 471 89.9 471L118 471C127.46 471 130.04 462.8 135.2 462.8C139.7 462.8 139.1 469.43 137 473.5Z" fill="#cc0e06" filter="url(#blur04)"/><path d="M87.46 473.5C87.46 472.3 87.4 472.3 89.9 472.3L118 472.3C127.46 472.3 130.04 464.1 135.2 464.1C138.27 464.1 137.54 469.88 135.96 473.5Z" fill="#a00000" filter="url(#blur05)"/><ellipse cx="231.1" cy="449.5" rx="9.5" ry="9.5" transform="rotate(0 231.1 449.5)" fill="url(#blobR3)"/></g><path d="M47.7 326.1h2M47.7 305.53h2M47.7 284.97h2M47.7 264.4h2M47.7 401.1h2M47.7 380.6h2M47.7 360.1h2M47.7 339.6h2M47.7 472.7h2M47.7 452.03h2M47.7 431.37h2M47.7 410.7h2M60 481.0v-2M101.3 481.0v-2M142.6 481.0v-2M183.9 481.0v-2M225.2 481.0v-2M266.5 481.0v-2M307.8 481.0v-2M320.8 277h-2M320.8 297.1h-2M320.8 317.2h-2M320.8 337.3h-2M320.8 357.4h-2M320.8 377.5h-2M320.8 397.6h-2M320.8 417.7h-2M320.8 437.8h-2M320.8 457.9h-2M320.8 478h-2" stroke="#7a7a7a" stroke-width="0.9"/><rect x="329.7" y="277.0" width="6.4" height="201" fill="url(#cbar)"/><g font-size="9.6" fill="#333"><text x="45.9" y="329.5" text-anchor="end">0</text><text x="45.9" y="308.93" text-anchor="end">500</text><text x="45.9" y="288.37" text-anchor="end">1000</text><text x="45.9" y="267.8" text-anchor="end">1500</text><text x="45.9" y="404.5" text-anchor="end">0</text><text x="45.9" y="384" text-anchor="end">500</text><text x="45.9" y="363.5" text-anchor="end">1000</text><text x="45.9" y="343" text-anchor="end">1500</text><text x="45.9" y="476.1" text-anchor="end">0</text><text x="45.9" y="455.43" text-anchor="end">500</text><text x="45.9" y="434.77" text-anchor="end">1000</text><text x="45.9" y="414.1" text-anchor="end">1500</text><text x="60" y="492.8" text-anchor="middle">0</text><text x="101.3" y="492.8" text-anchor="middle">1000</text><text x="142.6" y="492.8" text-anchor="middle">2000</text><text x="183.9" y="492.8" text-anchor="middle">3000</text><text x="225.2" y="492.8" text-anchor="middle">4000</text><text x="266.5" y="492.8" text-anchor="middle">5000</text><text x="339.8" y="280.4">1</text><text x="339.8" y="300.5">0.9</text><text x="339.8" y="320.6">0.8</text><text x="339.8" y="340.7">0.7</text><text x="339.8" y="360.8">0.6</text><text x="339.8" y="380.9">0.5</text><text x="339.8" y="401">0.4</text><text x="339.8" y="421.1">0.3</text><text x="339.8" y="441.2">0.2</text><text x="339.8" y="461.3">0.1</text><text x="339.8" y="481.4">0</text></g><text x="324.6" y="266.3" font-size="11" fill="#222">m/s</text><text x="247.3" y="288.5" font-size="14.6" fill="#fff" textLength="45" lengthAdjust="spacingAndGlyphs">1 pore</text><text x="242.8" y="356.3" font-size="14.6" fill="#fff" textLength="53" lengthAdjust="spacingAndGlyphs">3 pores</text><text x="244.3" y="430.5" font-size="14.6" fill="#fff" textLength="53.5" lengthAdjust="spacingAndGlyphs">5 pores</text><text transform="translate(16.6 373.4) rotate(-90)" font-size="12" text-anchor="middle" fill="#111">Distance (μm)</text><text x="144.2" y="504.3" font-size="12" fill="#111">Distance (μm)</text><text x="308.2" y="490.5" font-size="10" fill="#333" font-style="italic">μ<tspan font-style="normal" font-size="9">m</tspan></text><text x="4.3" y="257.1" font-size="20.5" font-weight="bold" fill="#000">(c)</text><rect x="381.3" y="256.0" width="271" height="218" fill="url(#bgD)"/><polyline points="392.8,311 397.74,311 402.69,311 407.63,311 412.58,311 417.52,311 422.46,311 427.41,311 432.35,311 437.3,311 442.24,311 447.18,311 452.13,311 457.07,311 462.02,302.1 466.96,296 471.9,290.4 476.85,285.8 481.79,286.9 486.74,306.1 491.68,305.7 496.62,304.6 501.57,303.1 506.51,301.2 511.46,304.9 516.4,305.8 521.34,301.2 526.29,310.8 531.23,310.8 536.18,310.8 541.12,310.8 546.06,310.8 551.01,310.8 555.95,310.8 560.9,305.2 565.84,298.3 570.78,292.6 575.73,293.8 580.67,291.4 585.62,285.8 590.56,310.8 595.5,310.8 600.45,310.8 605.39,310.8 610.34,310.8 615.28,310.8 620.22,310.8 625.17,310.8 630.11,306.4 635.06,299.4 640,294.4" fill="none" stroke="#9a9a9a" stroke-width="0.6"/><polyline points="392.8,344 397.74,344 402.69,344 407.63,344 412.58,344 417.52,344 422.46,344 427.41,344 432.35,344 437.3,339 442.24,333.2 447.18,327.6 452.13,344 457.07,344 462.02,344 466.96,344 471.9,344 476.85,344 481.79,341.5 486.74,334 491.68,328 496.62,322 501.57,344 506.51,344 511.46,344 516.4,344 521.34,344 526.29,344 531.23,341.5 536.18,334.5 541.12,328 546.06,339.6 551.01,344 555.95,344 560.9,344 565.84,344 570.78,344 575.73,344 580.67,338.5 585.62,331.4 590.56,326 595.5,319 600.45,344 605.39,344 610.34,344 615.28,344 620.22,344 625.17,344 630.11,341.5 635.06,334.5 640,328.4" fill="none" stroke="#f09090" stroke-width="0.6"/><polyline points="392.8,376.5 397.74,376.5 402.69,376.5 407.63,376.5 412.58,376.5 417.52,376.5 422.46,376.5 427.41,376.5 432.35,369 437.3,363.1 442.24,376.5 447.18,376.5 452.13,376.5 457.07,376.5 462.02,376.5 466.96,376.5 471.9,369.7 476.85,362.7 481.79,356.6 486.74,376.5 491.68,376.5 496.62,376.5 501.57,376.5 506.51,376.5 511.46,376.5 516.4,371.7 521.34,364.1 526.29,358.1 531.23,352.1 536.18,376.5 541.12,376.5 546.06,376.5 551.01,376.5 555.95,376.5 560.9,376.5 565.84,369.4 570.78,362.2 575.73,357 580.67,350.6 585.62,376.5 590.56,376.5 595.5,376.5 600.45,376.5 605.39,376.5 610.34,376.5 615.28,369.4 620.22,361.9 625.17,357 630.11,350.6 635.06,376.5 640,376.5" fill="none" stroke="#7aa6ee" stroke-width="0.6"/><polyline points="392.8,408.9 397.74,408.9 402.69,408.9 407.63,408.9 412.58,408.9 417.52,408.9 422.46,401 427.41,405.7 432.35,408.9 437.3,408.9 442.24,408.9 447.18,408.9 452.13,403.9 457.07,396.6 462.02,397.6 466.96,408.9 471.9,408.9 476.85,408.9 481.79,408.9 486.74,408.9 491.68,399.5 496.62,392.5 501.57,385.5 506.51,408.9 511.46,408.9 516.4,408.9 521.34,408.9 526.29,408.9 531.23,402.4 536.18,395.1 541.12,388.1 546.06,408.9 551.01,408.9 555.95,408.9 560.9,408.9 565.84,408.9 570.78,401.6 575.73,394 580.67,387 585.62,389.9 590.56,408.9 595.5,408.9 600.45,408.9 605.39,408.9 610.34,405.4 615.28,397.6 620.22,390.8 625.17,383.5 630.11,408.9 635.06,408.9 640,408.9" fill="none" stroke="#8ad0a4" stroke-width="0.6"/><polyline points="392.8,444.8 397.74,444.8 402.69,444.8 407.63,444.8 412.58,439.5 417.52,438.1 422.46,444.8 427.41,444.8 432.35,444.8 437.3,440 442.24,431.2 447.18,424.9 452.13,444.8 457.07,444.8 462.02,444.8 466.96,444.8 471.9,436.6 476.85,428.3 481.79,425.4 486.74,424.3 491.68,423.6 496.62,423.2 501.57,422.9 506.51,422.9 511.46,422.9 516.4,422.9 521.34,422.9 526.29,422.9 531.23,422.9 536.18,422.9 541.12,422.9 546.06,422.9 551.01,422.9 555.95,422.9 560.9,422.9 565.84,422.9 570.78,422.9 575.73,422.9 580.67,422.9 585.62,422.9 590.56,422.9 595.5,422.9 600.45,422.9 605.39,422.9 610.34,422.9 615.28,422.9 620.22,422.9 625.17,422.9 630.11,422.9 635.06,422.9 640,422.9" fill="none" stroke="#d0a8f0" stroke-width="0.6"/><polyline points="392.8,468.1 397.74,468.1 402.69,468.1 407.63,462.3 412.58,462.3 417.52,468.1 422.46,468.1 427.41,463.3 432.35,456.8 437.3,455.7 442.24,455.3 447.18,455 452.13,454.6 457.07,454.6 462.02,454.6 466.96,454.6 471.9,454.6 476.85,454.6 481.79,454.6 486.74,454.6 491.68,454.6 496.62,454.6 501.57,454.6 506.51,454.6 511.46,454.6 516.4,454.6 521.34,454.6 526.29,454.6 531.23,454.6 536.18,454.6 541.12,454.6 546.06,454.6 551.01,454.6 555.95,454.6 560.9,454.6 565.84,454.6 570.78,454.6 575.73,454.6 580.67,454.6 585.62,454.6 590.56,454.6 595.5,454.6 600.45,454.6 605.39,454.6 610.34,454.6 615.28,454.6 620.22,454.6 625.17,454.6 630.11,454.6 635.06,454.6 640,454.6" fill="none" stroke="#e0c070" stroke-width="0.6"/><g fill="url(#ballg)"><circle cx="392.8" cy="311" r="2.85"/><circle cx="397.74" cy="311" r="2.85"/><circle cx="402.69" cy="311" r="2.85"/><circle cx="407.63" cy="311" r="2.85"/><circle cx="412.58" cy="311" r="2.85"/><circle cx="417.52" cy="311" r="2.85"/><circle cx="422.46" cy="311" r="2.85"/><circle cx="427.41" cy="311" r="2.85"/><circle cx="432.35" cy="311" r="2.85"/><circle cx="437.3" cy="311" r="2.85"/><circle cx="442.24" cy="311" r="2.85"/><circle cx="447.18" cy="311" r="2.85"/><circle cx="452.13" cy="311" r="2.85"/><circle cx="457.07" cy="311" r="2.85"/><circle cx="462.02" cy="302.1" r="2.85"/><circle cx="466.96" cy="296" r="2.85"/><circle cx="471.9" cy="290.4" r="2.85"/><circle cx="476.85" cy="285.8" r="2.85"/><circle cx="481.79" cy="286.9" r="2.85"/><circle cx="486.74" cy="306.1" r="2.85"/><circle cx="491.68" cy="305.7" r="2.85"/><circle cx="496.62" cy="304.6" r="2.85"/><circle cx="501.57" cy="303.1" r="2.85"/><circle cx="506.51" cy="301.2" r="2.85"/><circle cx="511.46" cy="304.9" r="2.85"/><circle cx="516.4" cy="305.8" r="2.85"/><circle cx="521.34" cy="301.2" r="2.85"/><circle cx="526.29" cy="310.8" r="2.85"/><circle cx="531.23" cy="310.8" r="2.85"/><circle cx="536.18" cy="310.8" r="2.85"/><circle cx="541.12" cy="310.8" r="2.85"/><circle cx="546.06" cy="310.8" r="2.85"/><circle cx="551.01" cy="310.8" r="2.85"/><circle cx="555.95" cy="310.8" r="2.85"/><circle cx="560.9" cy="305.2" r="2.85"/><circle cx="565.84" cy="298.3" r="2.85"/><circle cx="570.78" cy="292.6" r="2.85"/><circle cx="575.73" cy="293.8" r="2.85"/><circle cx="580.67" cy="291.4" r="2.85"/><circle cx="585.62" cy="285.8" r="2.85"/><circle cx="590.56" cy="310.8" r="2.85"/><circle cx="595.5" cy="310.8" r="2.85"/><circle cx="600.45" cy="310.8" r="2.85"/><circle cx="605.39" cy="310.8" r="2.85"/><circle cx="610.34" cy="310.8" r="2.85"/><circle cx="615.28" cy="310.8" r="2.85"/><circle cx="620.22" cy="310.8" r="2.85"/><circle cx="625.17" cy="310.8" r="2.85"/><circle cx="630.11" cy="306.4" r="2.85"/><circle cx="635.06" cy="299.4" r="2.85"/><circle cx="640" cy="294.4" r="2.85"/></g><g fill="url(#ballr)"><circle cx="392.8" cy="344" r="2.85"/><circle cx="397.74" cy="344" r="2.85"/><circle cx="402.69" cy="344" r="2.85"/><circle cx="407.63" cy="344" r="2.85"/><circle cx="412.58" cy="344" r="2.85"/><circle cx="417.52" cy="344" r="2.85"/><circle cx="422.46" cy="344" r="2.85"/><circle cx="427.41" cy="344" r="2.85"/><circle cx="432.35" cy="344" r="2.85"/><circle cx="437.3" cy="339" r="2.85"/><circle cx="442.24" cy="333.2" r="2.85"/><circle cx="447.18" cy="327.6" r="2.85"/><circle cx="452.13" cy="344" r="2.85"/><circle cx="457.07" cy="344" r="2.85"/><circle cx="462.02" cy="344" r="2.85"/><circle cx="466.96" cy="344" r="2.85"/><circle cx="471.9" cy="344" r="2.85"/><circle cx="476.85" cy="344" r="2.85"/><circle cx="481.79" cy="341.5" r="2.85"/><circle cx="486.74" cy="334" r="2.85"/><circle cx="491.68" cy="328" r="2.85"/><circle cx="496.62" cy="322" r="2.85"/><circle cx="501.57" cy="344" r="2.85"/><circle cx="506.51" cy="344" r="2.85"/><circle cx="511.46" cy="344" r="2.85"/><circle cx="516.4" cy="344" r="2.85"/><circle cx="521.34" cy="344" r="2.85"/><circle cx="526.29" cy="344" r="2.85"/><circle cx="531.23" cy="341.5" r="2.85"/><circle cx="536.18" cy="334.5" r="2.85"/><circle cx="541.12" cy="328" r="2.85"/><circle cx="546.06" cy="339.6" r="2.85"/><circle cx="551.01" cy="344" r="2.85"/><circle cx="555.95" cy="344" r="2.85"/><circle cx="560.9" cy="344" r="2.85"/><circle cx="565.84" cy="344" r="2.85"/><circle cx="570.78" cy="344" r="2.85"/><circle cx="575.73" cy="344" r="2.85"/><circle cx="580.67" cy="338.5" r="2.85"/><circle cx="585.62" cy="331.4" r="2.85"/><circle cx="590.56" cy="326" r="2.85"/><circle cx="595.5" cy="319" r="2.85"/><circle cx="600.45" cy="344" r="2.85"/><circle cx="605.39" cy="344" r="2.85"/><circle cx="610.34" cy="344" r="2.85"/><circle cx="615.28" cy="344" r="2.85"/><circle cx="620.22" cy="344" r="2.85"/><circle cx="625.17" cy="344" r="2.85"/><circle cx="630.11" cy="341.5" r="2.85"/><circle cx="635.06" cy="334.5" r="2.85"/><circle cx="640" cy="328.4" r="2.85"/></g><g fill="url(#ballb)"><circle cx="392.8" cy="376.5" r="2.85"/><circle cx="397.74" cy="376.5" r="2.85"/><circle cx="402.69" cy="376.5" r="2.85"/><circle cx="407.63" cy="376.5" r="2.85"/><circle cx="412.58" cy="376.5" r="2.85"/><circle cx="417.52" cy="376.5" r="2.85"/><circle cx="422.46" cy="376.5" r="2.85"/><circle cx="427.41" cy="376.5" r="2.85"/><circle cx="432.35" cy="369" r="2.85"/><circle cx="437.3" cy="363.1" r="2.85"/><circle cx="442.24" cy="376.5" r="2.85"/><circle cx="447.18" cy="376.5" r="2.85"/><circle cx="452.13" cy="376.5" r="2.85"/><circle cx="457.07" cy="376.5" r="2.85"/><circle cx="462.02" cy="376.5" r="2.85"/><circle cx="466.96" cy="376.5" r="2.85"/><circle cx="471.9" cy="369.7" r="2.85"/><circle cx="476.85" cy="362.7" r="2.85"/><circle cx="481.79" cy="356.6" r="2.85"/><circle cx="486.74" cy="376.5" r="2.85"/><circle cx="491.68" cy="376.5" r="2.85"/><circle cx="496.62" cy="376.5" r="2.85"/><circle cx="501.57" cy="376.5" r="2.85"/><circle cx="506.51" cy="376.5" r="2.85"/><circle cx="511.46" cy="376.5" r="2.85"/><circle cx="516.4" cy="371.7" r="2.85"/><circle cx="521.34" cy="364.1" r="2.85"/><circle cx="526.29" cy="358.1" r="2.85"/><circle cx="531.23" cy="352.1" r="2.85"/><circle cx="536.18" cy="376.5" r="2.85"/><circle cx="541.12" cy="376.5" r="2.85"/><circle cx="546.06" cy="376.5" r="2.85"/><circle cx="551.01" cy="376.5" r="2.85"/><circle cx="555.95" cy="376.5" r="2.85"/><circle cx="560.9" cy="376.5" r="2.85"/><circle cx="565.84" cy="369.4" r="2.85"/><circle cx="570.78" cy="362.2" r="2.85"/><circle cx="575.73" cy="357" r="2.85"/><circle cx="580.67" cy="350.6" r="2.85"/><circle cx="585.62" cy="376.5" r="2.85"/><circle cx="590.56" cy="376.5" r="2.85"/><circle cx="595.5" cy="376.5" r="2.85"/><circle cx="600.45" cy="376.5" r="2.85"/><circle cx="605.39" cy="376.5" r="2.85"/><circle cx="610.34" cy="376.5" r="2.85"/><circle cx="615.28" cy="369.4" r="2.85"/><circle cx="620.22" cy="361.9" r="2.85"/><circle cx="625.17" cy="357" r="2.85"/><circle cx="630.11" cy="350.6" r="2.85"/><circle cx="635.06" cy="376.5" r="2.85"/><circle cx="640" cy="376.5" r="2.85"/></g><g fill="url(#balln)"><circle cx="392.8" cy="408.9" r="2.85"/><circle cx="397.74" cy="408.9" r="2.85"/><circle cx="402.69" cy="408.9" r="2.85"/><circle cx="407.63" cy="408.9" r="2.85"/><circle cx="412.58" cy="408.9" r="2.85"/><circle cx="417.52" cy="408.9" r="2.85"/><circle cx="422.46" cy="401" r="2.85"/><circle cx="427.41" cy="405.7" r="2.85"/><circle cx="432.35" cy="408.9" r="2.85"/><circle cx="437.3" cy="408.9" r="2.85"/><circle cx="442.24" cy="408.9" r="2.85"/><circle cx="447.18" cy="408.9" r="2.85"/><circle cx="452.13" cy="403.9" r="2.85"/><circle cx="457.07" cy="396.6" r="2.85"/><circle cx="462.02" cy="397.6" r="2.85"/><circle cx="466.96" cy="408.9" r="2.85"/><circle cx="471.9" cy="408.9" r="2.85"/><circle cx="476.85" cy="408.9" r="2.85"/><circle cx="481.79" cy="408.9" r="2.85"/><circle cx="486.74" cy="408.9" r="2.85"/><circle cx="491.68" cy="399.5" r="2.85"/><circle cx="496.62" cy="392.5" r="2.85"/><circle cx="501.57" cy="385.5" r="2.85"/><circle cx="506.51" cy="408.9" r="2.85"/><circle cx="511.46" cy="408.9" r="2.85"/><circle cx="516.4" cy="408.9" r="2.85"/><circle cx="521.34" cy="408.9" r="2.85"/><circle cx="526.29" cy="408.9" r="2.85"/><circle cx="531.23" cy="402.4" r="2.85"/><circle cx="536.18" cy="395.1" r="2.85"/><circle cx="541.12" cy="388.1" r="2.85"/><circle cx="546.06" cy="408.9" r="2.85"/><circle cx="551.01" cy="408.9" r="2.85"/><circle cx="555.95" cy="408.9" r="2.85"/><circle cx="560.9" cy="408.9" r="2.85"/><circle cx="565.84" cy="408.9" r="2.85"/><circle cx="570.78" cy="401.6" r="2.85"/><circle cx="575.73" cy="394" r="2.85"/><circle cx="580.67" cy="387" r="2.85"/><circle cx="585.62" cy="389.9" r="2.85"/><circle cx="590.56" cy="408.9" r="2.85"/><circle cx="595.5" cy="408.9" r="2.85"/><circle cx="600.45" cy="408.9" r="2.85"/><circle cx="605.39" cy="408.9" r="2.85"/><circle cx="610.34" cy="405.4" r="2.85"/><circle cx="615.28" cy="397.6" r="2.85"/><circle cx="620.22" cy="390.8" r="2.85"/><circle cx="625.17" cy="383.5" r="2.85"/><circle cx="630.11" cy="408.9" r="2.85"/><circle cx="635.06" cy="408.9" r="2.85"/><circle cx="640" cy="408.9" r="2.85"/></g><g fill="url(#ballp)"><circle cx="392.8" cy="444.8" r="2.85"/><circle cx="397.74" cy="444.8" r="2.85"/><circle cx="402.69" cy="444.8" r="2.85"/><circle cx="407.63" cy="444.8" r="2.85"/><circle cx="412.58" cy="439.5" r="2.85"/><circle cx="417.52" cy="438.1" r="2.85"/><circle cx="422.46" cy="444.8" r="2.85"/><circle cx="427.41" cy="444.8" r="2.85"/><circle cx="432.35" cy="444.8" r="2.85"/><circle cx="437.3" cy="440" r="2.85"/><circle cx="442.24" cy="431.2" r="2.85"/><circle cx="447.18" cy="424.9" r="2.85"/><circle cx="452.13" cy="444.8" r="2.85"/><circle cx="457.07" cy="444.8" r="2.85"/><circle cx="462.02" cy="444.8" r="2.85"/><circle cx="466.96" cy="444.8" r="2.85"/><circle cx="471.9" cy="436.6" r="2.85"/><circle cx="476.85" cy="428.3" r="2.85"/><circle cx="481.79" cy="425.4" r="2.85"/><circle cx="486.74" cy="424.3" r="2.85"/><circle cx="491.68" cy="423.6" r="2.85"/><circle cx="496.62" cy="423.2" r="2.85"/><circle cx="501.57" cy="422.9" r="2.85"/><circle cx="506.51" cy="422.9" r="2.85"/><circle cx="511.46" cy="422.9" r="2.85"/><circle cx="516.4" cy="422.9" r="2.85"/><circle cx="521.34" cy="422.9" r="2.85"/><circle cx="526.29" cy="422.9" r="2.85"/><circle cx="531.23" cy="422.9" r="2.85"/><circle cx="536.18" cy="422.9" r="2.85"/><circle cx="541.12" cy="422.9" r="2.85"/><circle cx="546.06" cy="422.9" r="2.85"/><circle cx="551.01" cy="422.9" r="2.85"/><circle cx="555.95" cy="422.9" r="2.85"/><circle cx="560.9" cy="422.9" r="2.85"/><circle cx="565.84" cy="422.9" r="2.85"/><circle cx="570.78" cy="422.9" r="2.85"/><circle cx="575.73" cy="422.9" r="2.85"/><circle cx="580.67" cy="422.9" r="2.85"/><circle cx="585.62" cy="422.9" r="2.85"/><circle cx="590.56" cy="422.9" r="2.85"/><circle cx="595.5" cy="422.9" r="2.85"/><circle cx="600.45" cy="422.9" r="2.85"/><circle cx="605.39" cy="422.9" r="2.85"/><circle cx="610.34" cy="422.9" r="2.85"/><circle cx="615.28" cy="422.9" r="2.85"/><circle cx="620.22" cy="422.9" r="2.85"/><circle cx="625.17" cy="422.9" r="2.85"/><circle cx="630.11" cy="422.9" r="2.85"/><circle cx="635.06" cy="422.9" r="2.85"/><circle cx="640" cy="422.9" r="2.85"/></g><g fill="url(#ballo)"><circle cx="392.8" cy="468.1" r="2.85"/><circle cx="397.74" cy="468.1" r="2.85"/><circle cx="402.69" cy="468.1" r="2.85"/><circle cx="407.63" cy="462.3" r="2.85"/><circle cx="412.58" cy="462.3" r="2.85"/><circle cx="417.52" cy="468.1" r="2.85"/><circle cx="422.46" cy="468.1" r="2.85"/><circle cx="427.41" cy="463.3" r="2.85"/><circle cx="432.35" cy="456.8" r="2.85"/><circle cx="437.3" cy="455.7" r="2.85"/><circle cx="442.24" cy="455.3" r="2.85"/><circle cx="447.18" cy="455" r="2.85"/><circle cx="452.13" cy="454.6" r="2.85"/><circle cx="457.07" cy="454.6" r="2.85"/><circle cx="462.02" cy="454.6" r="2.85"/><circle cx="466.96" cy="454.6" r="2.85"/><circle cx="471.9" cy="454.6" r="2.85"/><circle cx="476.85" cy="454.6" r="2.85"/><circle cx="481.79" cy="454.6" r="2.85"/><circle cx="486.74" cy="454.6" r="2.85"/><circle cx="491.68" cy="454.6" r="2.85"/><circle cx="496.62" cy="454.6" r="2.85"/><circle cx="501.57" cy="454.6" r="2.85"/><circle cx="506.51" cy="454.6" r="2.85"/><circle cx="511.46" cy="454.6" r="2.85"/><circle cx="516.4" cy="454.6" r="2.85"/><circle cx="521.34" cy="454.6" r="2.85"/><circle cx="526.29" cy="454.6" r="2.85"/><circle cx="531.23" cy="454.6" r="2.85"/><circle cx="536.18" cy="454.6" r="2.85"/><circle cx="541.12" cy="454.6" r="2.85"/><circle cx="546.06" cy="454.6" r="2.85"/><circle cx="551.01" cy="454.6" r="2.85"/><circle cx="555.95" cy="454.6" r="2.85"/><circle cx="560.9" cy="454.6" r="2.85"/><circle cx="565.84" cy="454.6" r="2.85"/><circle cx="570.78" cy="454.6" r="2.85"/><circle cx="575.73" cy="454.6" r="2.85"/><circle cx="580.67" cy="454.6" r="2.85"/><circle cx="585.62" cy="454.6" r="2.85"/><circle cx="590.56" cy="454.6" r="2.85"/><circle cx="595.5" cy="454.6" r="2.85"/><circle cx="600.45" cy="454.6" r="2.85"/><circle cx="605.39" cy="454.6" r="2.85"/><circle cx="610.34" cy="454.6" r="2.85"/><circle cx="615.28" cy="454.6" r="2.85"/><circle cx="620.22" cy="454.6" r="2.85"/><circle cx="625.17" cy="454.6" r="2.85"/><circle cx="630.11" cy="454.6" r="2.85"/><circle cx="635.06" cy="454.6" r="2.85"/><circle cx="640" cy="454.6" r="2.85"/></g><path d="M382.9 262.7H405.9" stroke="#9a9a9a" stroke-width="0.7"/><circle cx="394.4" cy="262.7" r="3.1" fill="url(#ballg)"/><text x="409" y="266.6" font-size="10.8" fill="#111">500 μm</text><path d="M448.3 262.7H471.3" stroke="#f09090" stroke-width="0.7"/><circle cx="459.8" cy="262.7" r="3.1" fill="url(#ballr)"/><text x="474.4" y="266.6" font-size="10.8" fill="#111">375 μm</text><path d="M516.5 262.7H539.5" stroke="#7aa6ee" stroke-width="0.7"/><circle cx="528.0" cy="262.7" r="3.1" fill="url(#ballb)"/><text x="542.6" y="266.6" font-size="10.8" fill="#111">325 μm</text><path d="M382.9 276.8H405.9" stroke="#8ad0a4" stroke-width="0.7"/><circle cx="394.4" cy="276.8" r="3.1" fill="url(#balln)"/><text x="409" y="280.7" font-size="10.8" fill="#111">250 μm</text><path d="M448.3 276.8H471.3" stroke="#d0a8f0" stroke-width="0.7"/><circle cx="459.8" cy="276.8" r="3.1" fill="url(#ballp)"/><text x="474.4" y="280.7" font-size="10.8" fill="#111">175 μm</text><path d="M516.5 276.8H539.5" stroke="#e0c070" stroke-width="0.7"/><circle cx="528.0" cy="276.8" r="3.1" fill="url(#ballo)"/><text x="542.6" y="280.7" font-size="10.8" fill="#111">125 μm</text><rect x="381.3" y="256.0" width="271" height="218" fill="none" stroke="#3a3a3a" stroke-width="1"/><path d="M392.8 474.0v4M417.52 474.0v2M442.24 474.0v4M466.96 474.0v2M491.68 474.0v4M516.4 474.0v2M541.12 474.0v4M565.84 474.0v2M590.56 474.0v4M615.28 474.0v2M640 474.0v4" stroke="#444" stroke-width="1"/><g font-size="10.6" fill="#222" text-anchor="middle"><text x="392.8" y="489.6">0</text><text x="442.24" y="489.6">20</text><text x="491.68" y="489.6">40</text><text x="541.12" y="489.6">60</text><text x="590.56" y="489.6">80</text><text x="640" y="489.6">100</text></g><text x="516.6" y="503" font-size="14" text-anchor="middle" fill="#111">t (ms)</text><text transform="translate(368.6 365) rotate(-90)" font-size="13.5" text-anchor="middle" fill="#111">L<tspan font-size="9.5" dy="3">Space 2</tspan><tspan dy="-3"> (μm)</tspan></text><text x="345.3" y="256.9" font-size="20.5" font-weight="bold" fill="#000">(d)</text><g clip-path="url(#clipE)"><rect x="29.3" y="510.8" width="628.4" height="105.7" fill="#1a187e"/><path d="M29.3 617.5L79.3 617.5L81.3 605.4L83.3 594.1L85.3 586.8L87.3 582.7L89.3 579.4L91.3 576.7L93.3 574.3L95.3 572.1L97.3 570.1L99.3 568.5L101.3 567.3L103.3 566.3L105.3 565.5L109.3 564.0L113.3 562.8L117.3 561.8L121.3 561.0L125.3 560.4L129.3 559.8L133.3 559.2L137.3 557.9L141.3 556.2L145.3 554.5L149.3 552.8L153.3 551.1L161.3 547.8L169.3 544.4L177.3 541.1L185.3 537.6L193.3 534.2L201.3 530.8L209.3 527.7L217.3 524.7L225.3 522.5L233.3 520.9L241.3 519.2L257.3 516.0L273.3 512.7L289.3 509.8L657.7 509.8 L657.7 617.5 L29.3 617.5Z" fill="#1a187e"/><path d="M29.3 617.5L79.3 617.5L81.3 606.2L83.3 594.9L85.3 587.6L87.3 583.5L89.3 580.1L91.3 577.4L93.3 575.0L95.3 572.8L97.3 570.9L99.3 569.3L101.3 568.0L103.3 567.1L105.3 566.2L109.3 564.7L113.3 563.5L117.3 562.5L121.3 561.7L125.3 561.0L129.3 560.4L133.3 559.8L137.3 558.5L141.3 556.8L145.3 555.1L149.3 553.5L153.3 551.8L161.3 548.5L169.3 545.2L177.3 541.9L185.3 538.5L193.3 535.0L201.3 531.7L209.3 528.6L217.3 525.7L225.3 523.5L233.3 521.9L241.3 520.2L257.3 517.0L273.3 513.7L289.3 510.5L305.3 509.8L657.7 509.8 L657.7 617.5 L29.3 617.5Z" fill="#1a187e"/><path d="M29.3 617.5L79.3 617.5L81.3 606.9L83.3 595.6L85.3 588.3L87.3 584.2L89.3 580.9L91.3 578.2L93.3 575.8L95.3 573.6L97.3 571.6L99.3 570.0L101.3 568.8L103.3 567.8L105.3 566.9L109.3 565.4L113.3 564.2L117.3 563.2L121.3 562.4L125.3 561.7L129.3 561.1L133.3 560.4L137.3 559.2L141.3 557.5L145.3 555.8L149.3 554.1L153.3 552.5L161.3 549.2L169.3 546.0L177.3 542.7L185.3 539.3L193.3 535.9L201.3 532.7L209.3 529.6L217.3 526.6L225.3 524.5L233.3 522.9L241.3 521.2L257.3 518.0L273.3 514.7L289.3 511.5L305.3 509.8L657.7 509.8 L657.7 617.5 L29.3 617.5Z" fill="#1a187e"/><path d="M29.3 617.5L79.3 617.5L81.3 607.7L83.3 596.4L85.3 589.1L87.3 585.0L89.3 581.6L91.3 578.9L93.3 576.5L95.3 574.3L97.3 572.4L99.3 570.8L101.3 569.5L103.3 568.5L105.3 567.7L109.3 566.1L113.3 564.9L117.3 563.9L121.3 563.1L125.3 562.3L129.3 561.7L133.3 561.1L137.3 559.8L141.3 558.2L145.3 556.5L149.3 554.8L153.3 553.2L161.3 550.0L169.3 546.8L177.3 543.5L185.3 540.2L193.3 536.8L201.3 533.6L209.3 530.6L217.3 527.6L225.3 525.5L233.3 523.9L241.3 522.2L257.3 519.0L273.3 515.7L289.3 512.5L305.3 510.0L321.3 509.8L657.7 509.8 L657.7 617.5 L29.3 617.5Z" fill="#1b1a84"/><path d="M29.3 617.5L79.3 617.5L81.3 608.4L83.3 597.1L85.3 589.8L87.3 585.7L89.3 582.4L91.3 579.7L93.3 577.3L95.3 575.1L97.3 573.1L99.3 571.5L101.3 570.3L103.3 569.3L105.3 568.4L109.3 566.8L113.3 565.6L117.3 564.6L121.3 563.7L125.3 563.0L129.3 562.4L133.3 561.7L137.3 560.5L141.3 558.8L145.3 557.2L149.3 555.5L153.3 553.9L161.3 550.7L169.3 547.6L177.3 544.3L185.3 541.0L193.3 537.7L201.3 534.5L209.3 531.5L217.3 528.6L225.3 526.5L233.3 524.9L241.3 523.2L257.3 520.0L273.3 516.7L289.3 513.5L305.3 511.0L321.3 509.8L657.7 509.8 L657.7 617.5 L29.3 617.5Z" fill="#1b1b8b"/><path d="M29.3 617.5L79.3 617.5L81.3 609.2L83.3 597.9L85.3 590.6L87.3 586.5L89.3 583.1L91.3 580.4L93.3 578.0L95.3 575.8L97.3 573.9L99.3 572.3L101.3 571.0L103.3 570.0L105.3 569.1L109.3 567.6L113.3 566.3L117.3 565.3L121.3 564.4L125.3 563.7L129.3 563.0L133.3 562.3L137.3 561.1L141.3 559.5L145.3 557.8L149.3 556.2L153.3 554.6L161.3 551.5L169.3 548.3L177.3 545.1L185.3 541.9L193.3 538.6L201.3 535.4L209.3 532.5L217.3 529.6L225.3 527.5L233.3 525.9L241.3 524.2L257.3 521.0L273.3 517.7L289.3 514.5L305.3 512.0L321.3 510.0L337.3 509.8L657.7 509.8 L657.7 617.5 L29.3 617.5Z" fill="#1c1d91"/><path d="M29.3 617.5L79.3 617.5L81.3 609.9L83.3 598.6L85.3 591.3L87.3 587.2L89.3 583.9L91.3 581.2L93.3 578.8L95.3 576.6L97.3 574.6L99.3 573.0L101.3 571.8L103.3 570.8L105.3 569.9L109.3 568.3L113.3 567.0L117.3 566.0L121.3 565.1L125.3 564.3L129.3 563.7L133.3 563.0L137.3 561.7L141.3 560.1L145.3 558.5L149.3 556.9L153.3 555.3L161.3 552.2L169.3 549.1L177.3 546.0L185.3 542.7L193.3 539.5L201.3 536.3L209.3 533.4L217.3 530.6L225.3 528.5L233.3 526.9L241.3 525.2L257.3 522.0L273.3 518.7L289.3 515.5L305.3 513.0L321.3 511.0L337.3 509.8L657.7 509.8 L657.7 617.5 L29.3 617.5Z" fill="#1d1f97"/><path d="M29.3 617.5L79.3 617.5L81.3 610.7L83.3 599.4L85.3 592.1L87.3 588.0L89.3 584.6L91.3 581.9L93.3 579.5L95.3 577.3L97.3 575.4L99.3 573.8L101.3 572.5L103.3 571.5L105.3 570.6L109.3 569.0L113.3 567.7L117.3 566.6L121.3 565.8L125.3 565.0L129.3 564.3L133.3 563.6L137.3 562.4L141.3 560.8L145.3 559.2L149.3 557.6L153.3 556.1L161.3 553.0L169.3 549.9L177.3 546.8L185.3 543.6L193.3 540.3L201.3 537.2L209.3 534.4L217.3 531.6L225.3 529.5L233.3 527.9L241.3 526.2L257.3 523.0L273.3 519.7L289.3 516.5L305.3 514.0L321.3 512.0L337.3 510.3L353.3 509.8L657.7 509.8 L657.7 617.5 L29.3 617.5Z" fill="#1d209e"/><path d="M29.3 617.5L79.3 617.5L81.3 611.4L83.3 600.1L85.3 592.8L87.3 588.7L89.3 585.4L91.3 582.7L93.3 580.3L95.3 578.1L97.3 576.1L99.3 574.5L101.3 573.3L103.3 572.2L105.3 571.3L109.3 569.7L113.3 568.4L117.3 567.3L121.3 566.4L125.3 565.7L129.3 565.0L133.3 564.3L137.3 563.0L141.3 561.4L145.3 559.9L149.3 558.3L153.3 556.8L161.3 553.7L169.3 550.7L177.3 547.6L185.3 544.4L193.3 541.2L201.3 538.2L209.3 535.3L217.3 532.6L225.3 530.5L233.3 528.9L241.3 527.2L257.3 524.0L273.3 520.7L289.3 517.5L305.3 515.0L321.3 513.0L337.3 511.3L353.3 509.8L657.7 509.8 L657.7 617.5 L29.3 617.5Z" fill="#1e22a4"/><path d="M29.3 617.5L79.3 617.5L81.3 612.2L83.3 600.9L85.3 593.6L87.3 589.5L89.3 586.1L91.3 583.4L93.3 581.0L95.3 578.8L97.3 576.9L99.3 575.3L101.3 574.0L103.3 573.0L105.3 572.0L109.3 570.4L113.3 569.1L117.3 568.0L121.3 567.1L125.3 566.3L129.3 565.6L133.3 564.9L137.3 563.7L141.3 562.1L145.3 560.5L149.3 559.0L153.3 557.5L161.3 554.5L169.3 551.4L177.3 548.4L185.3 545.3L193.3 542.1L201.3 539.1L209.3 536.3L217.3 533.6L225.3 531.5L233.3 529.9L241.3 528.2L257.3 525.0L273.3 521.7L289.3 518.5L305.3 516.0L321.3 514.0L337.3 512.3L353.3 510.8L369.3 509.8L657.7 509.8 L657.7 617.5 L29.3 617.5Z" fill="#1f25aa"/><path d="M29.3 617.5L79.3 617.5L81.3 612.9L83.3 601.6L85.3 594.3L87.3 590.2L89.3 586.9L91.3 584.2L93.3 581.8L95.3 579.6L97.3 577.6L99.3 576.0L101.3 574.8L103.3 573.7L105.3 572.8L109.3 571.2L113.3 569.8L117.3 568.7L121.3 567.8L125.3 567.0L129.3 566.3L133.3 565.5L137.3 564.3L141.3 562.8L145.3 561.2L149.3 559.7L153.3 558.2L161.3 555.2L169.3 552.2L177.3 549.2L185.3 546.1L193.3 543.0L201.3 540.0L209.3 537.2L217.3 534.6L225.3 532.5L233.3 530.9L241.3 529.2L257.3 526.0L273.3 522.7L289.3 519.5L305.3 517.0L321.3 515.0L337.3 513.3L353.3 511.8L369.3 510.4L385.3 509.8L657.7 509.8 L657.7 617.5 L29.3 617.5Z" fill="#1f28b0"/><path d="M29.3 617.5L79.3 617.5L81.3 613.7L83.3 602.4L85.3 595.1L87.3 591.0L89.3 587.6L91.3 584.9L93.3 582.5L95.3 580.3L97.3 578.4L99.3 576.8L101.3 575.5L103.3 574.4L105.3 573.5L109.3 571.9L113.3 570.5L117.3 569.4L121.3 568.5L125.3 567.6L129.3 566.9L133.3 566.2L137.3 564.9L141.3 563.4L145.3 561.9L149.3 560.4L153.3 558.9L161.3 555.9L169.3 553.0L177.3 550.0L185.3 547.0L193.3 543.9L201.3 540.9L209.3 538.2L217.3 535.5L225.3 533.5L233.3 531.9L241.3 530.2L257.3 527.0L273.3 523.7L289.3 520.5L305.3 518.0L321.3 516.0L337.3 514.3L353.3 512.8L369.3 511.4L385.3 510.0L401.3 509.8L657.7 509.8 L657.7 617.5 L29.3 617.5Z" fill="#202bb6"/><path d="M29.3 617.5L79.3 617.5L81.3 614.4L83.3 603.1L85.3 595.8L87.3 591.7L89.3 588.4L91.3 585.7L93.3 583.3L95.3 581.1L97.3 579.1L99.3 577.5L101.3 576.2L103.3 575.2L105.3 574.2L109.3 572.6L113.3 571.2L117.3 570.1L121.3 569.1L125.3 568.3L129.3 567.5L133.3 566.8L137.3 565.6L141.3 564.1L145.3 562.6L149.3 561.1L153.3 559.6L161.3 556.7L169.3 553.8L177.3 550.8L185.3 547.8L193.3 544.8L201.3 541.8L209.3 539.1L217.3 536.5L225.3 534.5L233.3 532.9L241.3 531.2L257.3 528.0L273.3 524.7L289.3 521.5L305.3 519.0L321.3 517.0L337.3 515.3L353.3 513.8L369.3 512.4L385.3 511.0L401.3 509.8L657.7 509.8 L657.7 617.5 L29.3 617.5Z" fill="#212ebc"/><path d="M29.3 617.5L79.3 617.5L81.3 615.2L83.3 603.9L85.3 596.6L87.3 592.5L89.3 589.1L91.3 586.4L93.3 584.0L95.3 581.8L97.3 579.9L99.3 578.3L101.3 577.0L103.3 575.9L105.3 575.0L109.3 573.3L113.3 571.9L117.3 570.8L121.3 569.8L125.3 569.0L129.3 568.2L133.3 567.4L137.3 566.2L141.3 564.7L145.3 563.2L149.3 561.8L153.3 560.3L161.3 557.4L169.3 554.6L177.3 551.7L185.3 548.7L193.3 545.6L201.3 542.8L209.3 540.1L217.3 537.5L225.3 535.5L233.3 533.9L241.3 532.2L257.3 529.0L273.3 525.7L289.3 522.5L305.3 520.0L321.3 518.0L337.3 516.3L353.3 514.8L369.3 513.4L385.3 512.0L401.3 510.6L417.3 509.8L657.7 509.8 L657.7 617.5 L29.3 617.5Z" fill="#2131c2"/><path d="M29.3 617.5L79.3 617.5L81.3 615.9L83.3 604.6L85.3 597.3L87.3 593.2L89.3 589.9L91.3 587.2L93.3 584.8L95.3 582.6L97.3 580.6L99.3 579.0L101.3 577.7L103.3 576.7L105.3 575.7L109.3 574.0L113.3 572.6L117.3 571.5L121.3 570.5L125.3 569.6L129.3 568.8L133.3 568.1L137.3 566.9L141.3 565.4L145.3 563.9L149.3 562.5L153.3 561.0L161.3 558.2L169.3 555.3L177.3 552.5L185.3 549.5L193.3 546.5L201.3 543.7L209.3 541.0L217.3 538.5L225.3 536.5L233.3 534.9L241.3 533.2L257.3 530.0L273.3 526.7L289.3 523.5L305.3 521.0L321.3 519.0L337.3 517.3L353.3 515.8L369.3 514.4L385.3 513.0L401.3 511.6L417.3 510.1L433.3 509.8L657.7 509.8 L657.7 617.5 L29.3 617.5Z" fill="#2234c8"/><path d="M29.3 617.5L79.3 617.5L81.3 616.7L83.3 605.4L85.3 598.1L87.3 594.0L89.3 590.6L91.3 587.9L93.3 585.5L95.3 583.3L97.3 581.4L99.3 579.8L101.3 578.5L103.3 577.4L105.3 576.4L109.3 574.7L113.3 573.3L117.3 572.2L121.3 571.2L125.3 570.3L129.3 569.5L133.3 568.7L137.3 567.5L141.3 566.0L145.3 564.6L149.3 563.1L153.3 561.7L161.3 558.9L169.3 556.1L177.3 553.3L185.3 550.4L193.3 547.4L201.3 544.6L209.3 542.0L217.3 539.5L225.3 537.5L233.3 535.9L241.3 534.2L257.3 531.0L273.3 527.7L289.3 524.5L305.3 522.0L321.3 520.0L337.3 518.3L353.3 516.8L369.3 515.4L385.3 514.0L401.3 512.6L417.3 511.1L433.3 509.9L449.3 509.8L657.7 509.8 L657.7 617.5 L29.3 617.5Z" fill="#243ad0"/><path d="M29.3 617.5L79.3 617.5L81.3 617.4L83.3 606.1L85.3 598.8L87.3 594.7L89.3 591.4L91.3 588.7L93.3 586.3L95.3 584.1L97.3 582.1L99.3 580.5L101.3 579.2L103.3 578.1L105.3 577.2L109.3 575.5L113.3 574.0L117.3 572.9L121.3 571.9L125.3 571.0L129.3 570.1L133.3 569.3L137.3 568.1L141.3 566.7L145.3 565.3L149.3 563.8L153.3 562.4L161.3 559.7L169.3 556.9L177.3 554.1L185.3 551.2L193.3 548.3L201.3 545.5L209.3 542.9L217.3 540.5L225.3 538.5L233.3 536.9L241.3 535.2L257.3 532.0L273.3 528.7L289.3 525.5L305.3 523.0L321.3 521.0L337.3 519.3L353.3 517.8L369.3 516.4L385.3 515.0L401.3 513.6L417.3 512.1L433.3 510.9L449.3 509.8L641.3 509.8L657.3 509.9L657.7 510.0 L657.7 617.5 L29.3 617.5Z" fill="#253fd8"/><path d="M29.3 617.5L81.3 617.5L83.3 606.9L85.3 599.6L87.3 595.5L89.3 592.1L91.3 589.4L93.3 587.0L95.3 584.8L97.3 582.9L99.3 581.3L101.3 580.0L103.3 578.9L105.3 577.9L109.3 576.2L113.3 574.7L117.3 573.6L121.3 572.5L125.3 571.6L129.3 570.8L133.3 570.0L137.3 568.8L141.3 567.4L145.3 565.9L149.3 564.5L153.3 563.1L161.3 560.4L169.3 557.7L177.3 554.9L185.3 552.1L193.3 549.2L201.3 546.4L209.3 543.9L217.3 541.5L225.3 539.5L233.3 537.9L241.3 536.2L257.3 533.0L273.3 529.7L289.3 526.5L305.3 524.0L321.3 522.0L337.3 520.3L353.3 518.8L369.3 517.4L385.3 516.0L401.3 514.6L417.3 513.1L433.3 511.9L449.3 510.8L465.3 510.0L481.3 509.8L577.3 509.8L593.3 509.9L609.3 510.1L625.3 510.4L641.3 510.6L657.3 510.9L657.7 511.0 L657.7 617.5 L29.3 617.5Z" fill="#2745e0"/><path d="M29.3 617.5L81.3 617.5L83.3 607.6L85.3 600.3L87.3 596.2L89.3 592.9L91.3 590.2L93.3 587.8L95.3 585.6L97.3 583.6L99.3 582.0L101.3 580.7L103.3 579.6L105.3 578.6L109.3 576.9L113.3 575.4L117.3 574.2L121.3 573.2L125.3 572.3L129.3 571.4L133.3 570.6L137.3 569.4L141.3 568.0L145.3 566.6L149.3 565.2L153.3 563.9L161.3 561.2L169.3 558.5L177.3 555.7L185.3 552.9L193.3 550.1L201.3 547.4L209.3 544.9L217.3 542.5L225.3 540.5L233.3 538.9L241.3 537.2L257.3 534.0L273.3 530.7L289.3 527.5L305.3 525.0L321.3 523.0L337.3 521.3L353.3 519.8L369.3 518.4L385.3 517.0L401.3 515.6L417.3 514.1L433.3 512.9L449.3 511.8L465.3 511.0L481.3 510.5L497.3 510.3L513.3 510.3L529.3 510.4L545.3 510.5L561.3 510.5L577.3 510.7L593.3 510.9L609.3 511.1L625.3 511.4L641.3 511.6L657.3 511.9L657.7 512.0 L657.7 617.5 L29.3 617.5Z" fill="#284ae8"/><path d="M29.3 617.5L81.3 617.5L83.3 608.4L85.3 601.1L87.3 597.0L89.3 593.6L91.3 590.9L93.3 588.5L95.3 586.3L97.3 584.4L99.3 582.8L101.3 581.5L103.3 580.4L105.3 579.4L109.3 577.6L113.3 576.1L117.3 574.9L121.3 573.9L125.3 573.0L129.3 572.1L133.3 571.2L137.3 570.1L141.3 568.7L145.3 567.3L149.3 565.9L153.3 564.6L161.3 561.9L169.3 559.2L177.3 556.5L185.3 553.8L193.3 551.0L201.3 548.3L209.3 545.8L217.3 543.4L225.3 541.5L233.3 539.9L241.3 538.2L257.3 535.0L273.3 531.7L289.3 528.5L305.3 526.0L321.3 524.0L337.3 522.3L353.3 520.8L369.3 519.4L385.3 518.0L401.3 516.6L417.3 515.1L433.3 513.9L449.3 512.8L465.3 512.0L481.3 511.5L497.3 511.3L513.3 511.3L529.3 511.4L545.3 511.5L561.3 511.5L577.3 511.7L593.3 511.9L609.3 512.1L625.3 512.4L641.3 512.6L657.3 512.9L657.7 513.0 L657.7 617.5 L29.3 617.5Z" fill="#2a50f0"/><path d="M29.3 617.5L81.3 617.5L83.3 609.1L85.3 601.8L87.3 597.7L89.3 594.4L91.3 591.7L93.3 589.3L95.3 587.1L97.3 585.1L99.3 583.5L101.3 582.2L103.3 581.1L105.3 580.1L109.3 578.3L113.3 576.8L117.3 575.6L121.3 574.6L125.3 573.6L129.3 572.7L133.3 571.9L137.3 570.7L141.3 569.3L145.3 568.0L149.3 566.6L153.3 565.3L161.3 562.6L169.3 560.0L177.3 557.4L185.3 554.6L193.3 551.8L201.3 549.2L209.3 546.8L217.3 544.4L225.3 542.5L233.3 540.9L241.3 539.2L257.3 536.0L273.3 532.7L289.3 529.5L305.3 527.0L321.3 525.0L337.3 523.3L353.3 521.8L369.3 520.4L385.3 519.0L401.3 517.6L417.3 516.1L433.3 514.9L449.3 513.8L465.3 513.0L481.3 512.5L497.3 512.3L513.3 512.3L529.3 512.4L545.3 512.5L561.3 512.5L577.3 512.7L593.3 512.9L609.3 513.1L625.3 513.4L641.3 513.6L657.3 513.9L657.7 514.0 L657.7 617.5 L29.3 617.5Z" fill="#2b59f2"/><path d="M29.3 617.5L81.3 617.5L83.3 609.9L85.3 602.6L87.3 598.5L89.3 595.1L91.3 592.4L93.3 590.0L95.3 587.8L97.3 585.9L99.3 584.3L101.3 583.0L103.3 581.8L105.3 580.8L109.3 579.1L113.3 577.5L117.3 576.3L121.3 575.2L125.3 574.3L129.3 573.4L133.3 572.5L137.3 571.3L141.3 570.0L145.3 568.6L149.3 567.3L153.3 566.0L161.3 563.4L169.3 560.8L177.3 558.2L185.3 555.5L193.3 552.7L201.3 550.1L209.3 547.7L217.3 545.4L225.3 543.5L233.3 541.9L241.3 540.2L257.3 537.0L273.3 533.7L289.3 530.5L305.3 528.0L321.3 526.0L337.3 524.3L353.3 522.8L369.3 521.4L385.3 520.0L401.3 518.6L417.3 517.1L433.3 515.9L449.3 514.8L465.3 514.0L481.3 513.5L497.3 513.3L513.3 513.3L529.3 513.4L545.3 513.5L561.3 513.5L577.3 513.7L593.3 513.9L609.3 514.1L625.3 514.4L641.3 514.6L657.3 514.9L657.7 515.0 L657.7 617.5 L29.3 617.5Z" fill="#2c62f3"/><path d="M29.3 617.5L81.3 617.5L83.3 610.6L85.3 603.3L87.3 599.2L89.3 595.9L91.3 593.2L93.3 590.8L95.3 588.6L97.3 586.6L99.3 585.0L101.3 583.7L103.3 582.6L105.3 581.6L109.3 579.8L113.3 578.2L117.3 577.0L121.3 575.9L125.3 574.9L129.3 574.0L133.3 573.2L137.3 572.0L141.3 570.6L145.3 569.3L149.3 568.0L153.3 566.7L161.3 564.1L169.3 561.6L177.3 559.0L185.3 556.3L193.3 553.6L201.3 551.0L209.3 548.7L217.3 546.4L225.3 544.5L233.3 542.9L241.3 541.2L257.3 538.0L273.3 534.7L289.3 531.5L305.3 529.0L321.3 527.0L337.3 525.3L353.3 523.8L369.3 522.4L385.3 521.0L401.3 519.6L417.3 518.1L433.3 516.9L449.3 515.8L465.3 515.0L481.3 514.5L497.3 514.3L513.3 514.3L529.3 514.4L545.3 514.5L561.3 514.5L577.3 514.7L593.3 514.9L609.3 515.1L625.3 515.4L641.3 515.6L657.3 515.9L657.7 516.0 L657.7 617.5 L29.3 617.5Z" fill="#2c6af5"/><path d="M29.3 617.5L81.3 617.5L83.3 611.4L85.3 604.1L87.3 600.0L89.3 596.6L91.3 593.9L93.3 591.5L95.3 589.3L97.3 587.4L99.3 585.8L101.3 584.4L103.3 583.3L105.3 582.3L109.3 580.5L113.3 579.0L117.3 577.7L121.3 576.6L125.3 575.6L129.3 574.7L133.3 573.8L137.3 572.6L141.3 571.3L145.3 570.0L149.3 568.7L153.3 567.4L161.3 564.9L169.3 562.4L177.3 559.8L185.3 557.1L193.3 554.5L201.3 551.9L209.3 549.6L217.3 547.4L225.3 545.5L233.3 543.9L241.3 542.2L257.3 539.0L273.3 535.7L289.3 532.5L305.3 530.0L321.3 528.0L337.3 526.3L353.3 524.8L369.3 523.4L385.3 522.0L401.3 520.6L417.3 519.1L433.3 517.9L449.3 516.8L465.3 516.0L481.3 515.5L497.3 515.3L513.3 515.3L529.3 515.4L545.3 515.5L561.3 515.5L577.3 515.7L593.3 515.9L609.3 516.1L625.3 516.4L641.3 516.6L657.3 516.9L657.7 517.0 L657.7 617.5 L29.3 617.5Z" fill="#2d73f6"/><path d="M29.3 617.5L81.3 617.5L83.3 612.1L85.3 604.8L87.3 600.7L89.3 597.4L91.3 594.7L93.3 592.3L95.3 590.1L97.3 588.1L99.3 586.5L101.3 585.2L103.3 584.1L105.3 583.0L109.3 581.2L113.3 579.7L117.3 578.4L121.3 577.3L125.3 576.3L129.3 575.3L133.3 574.4L137.3 573.3L141.3 572.0L145.3 570.7L149.3 569.4L153.3 568.1L161.3 565.6L169.3 563.1L177.3 560.6L185.3 558.0L193.3 555.4L201.3 552.9L209.3 550.6L217.3 548.4L225.3 546.5L233.3 544.9L241.3 543.2L257.3 540.0L273.3 536.7L289.3 533.5L305.3 531.0L321.3 529.0L337.3 527.3L353.3 525.8L369.3 524.4L385.3 523.0L401.3 521.6L417.3 520.1L433.3 518.9L449.3 517.8L465.3 517.0L481.3 516.5L497.3 516.3L513.3 516.3L529.3 516.4L545.3 516.5L561.3 516.5L577.3 516.7L593.3 516.9L609.3 517.1L625.3 517.4L641.3 517.6L657.3 517.9L657.7 518.0 L657.7 617.5 L29.3 617.5Z" fill="#2e7cf8"/><path d="M29.3 617.5L81.3 617.5L83.3 612.9L85.3 605.6L87.3 601.5L89.3 598.1L91.3 595.4L93.3 593.0L95.3 590.8L97.3 588.9L99.3 587.3L101.3 585.9L103.3 584.8L105.3 583.8L109.3 581.9L113.3 580.4L117.3 579.1L121.3 577.9L125.3 576.9L129.3 576.0L133.3 575.1L137.3 573.9L141.3 572.6L145.3 571.3L149.3 570.1L153.3 568.8L161.3 566.4L169.3 563.9L177.3 561.4L185.3 558.8L193.3 556.3L201.3 553.8L209.3 551.5L217.3 549.4L225.3 547.5L233.3 545.9L241.3 544.2L257.3 541.0L273.3 537.7L289.3 534.5L305.3 532.0L321.3 530.0L337.3 528.3L353.3 526.8L369.3 525.4L385.3 524.0L401.3 522.6L417.3 521.1L433.3 519.9L449.3 518.8L465.3 518.0L481.3 517.5L497.3 517.3L513.3 517.3L529.3 517.4L545.3 517.5L561.3 517.5L577.3 517.7L593.3 517.9L609.3 518.1L625.3 518.4L641.3 518.6L657.3 518.9L657.7 519.0 L657.7 617.5 L29.3 617.5Z" fill="#2f88f7"/><path d="M29.3 617.5L81.3 617.5L83.3 613.6L85.3 606.3L87.3 602.2L89.3 598.9L91.3 596.2L93.3 593.8L95.3 591.6L97.3 589.6L99.3 588.0L101.3 586.7L103.3 585.5L105.3 584.5L109.3 582.6L113.3 581.1L117.3 579.8L121.3 578.6L125.3 577.6L129.3 576.6L133.3 575.7L137.3 574.5L141.3 573.3L145.3 572.0L149.3 570.8L153.3 569.5L161.3 567.1L169.3 564.7L177.3 562.2L185.3 559.7L193.3 557.1L201.3 554.7L209.3 552.5L217.3 550.4L225.3 548.5L233.3 546.9L241.3 545.2L257.3 542.0L273.3 538.7L289.3 535.5L305.3 533.0L321.3 531.0L337.3 529.3L353.3 527.8L369.3 526.4L385.3 525.0L401.3 523.6L417.3 522.1L433.3 520.9L449.3 519.8L465.3 519.0L481.3 518.5L497.3 518.3L513.3 518.3L529.3 518.4L545.3 518.5L561.3 518.5L577.3 518.7L593.3 518.9L609.3 519.1L625.3 519.4L641.3 519.6L657.3 519.9L657.7 520.0 L657.7 617.5 L29.3 617.5Z" fill="#3094f6"/><path d="M29.3 617.5L81.3 617.5L83.3 614.4L85.3 607.1L87.3 603.0L89.3 599.6L91.3 596.9L93.3 594.5L95.3 592.3L97.3 590.4L99.3 588.8L101.3 587.4L103.3 586.3L105.3 585.2L109.3 583.4L113.3 581.8L117.3 580.5L121.3 579.3L125.3 578.3L129.3 577.3L133.3 576.3L137.3 575.2L141.3 573.9L145.3 572.7L149.3 571.5L153.3 570.2L161.3 567.9L169.3 565.5L177.3 563.1L185.3 560.5L193.3 558.0L201.3 555.6L209.3 553.4L217.3 551.4L225.3 549.5L233.3 547.9L241.3 546.2L257.3 543.0L273.3 539.7L289.3 536.5L305.3 534.0L321.3 532.0L337.3 530.3L353.3 528.8L369.3 527.4L385.3 526.0L401.3 524.6L417.3 523.1L433.3 521.9L449.3 520.8L465.3 520.0L481.3 519.5L497.3 519.3L513.3 519.3L529.3 519.4L545.3 519.5L561.3 519.5L577.3 519.7L593.3 519.9L609.3 520.1L625.3 520.4L641.3 520.6L657.3 520.9L657.7 521.0 L657.7 617.5 L29.3 617.5Z" fill="#32a0f6"/><path d="M29.3 617.5L81.3 617.5L83.3 615.1L85.3 607.8L87.3 603.7L89.3 600.4L91.3 597.7L93.3 595.3L95.3 593.1L97.3 591.1L99.3 589.5L101.3 588.2L103.3 587.0L105.3 586.0L109.3 584.1L113.3 582.5L117.3 581.2L121.3 580.0L125.3 578.9L129.3 577.9L133.3 577.0L137.3 575.8L141.3 574.6L145.3 573.4L149.3 572.1L153.3 571.0L161.3 568.6L169.3 566.3L177.3 563.9L185.3 561.4L193.3 558.9L201.3 556.5L209.3 554.4L217.3 552.3L225.3 550.5L233.3 548.9L241.3 547.2L257.3 544.0L273.3 540.7L289.3 537.5L305.3 535.0L321.3 533.0L337.3 531.3L353.3 529.8L369.3 528.4L385.3 527.0L401.3 525.6L417.3 524.1L433.3 522.9L449.3 521.8L465.3 521.0L481.3 520.5L497.3 520.3L513.3 520.3L529.3 520.4L545.3 520.5L561.3 520.5L577.3 520.7L593.3 520.9L609.3 521.1L625.3 521.4L641.3 521.6L657.3 521.9L657.7 522.0 L657.7 617.5 L29.3 617.5Z" fill="#33acf5"/><path d="M29.3 617.5L81.3 617.5L83.3 615.9L85.3 608.6L87.3 604.5L89.3 601.1L91.3 598.4L93.3 596.0L95.3 593.8L97.3 591.9L99.3 590.3L101.3 588.9L103.3 587.7L105.3 586.7L109.3 584.8L113.3 583.2L117.3 581.8L121.3 580.7L125.3 579.6L129.3 578.6L133.3 577.6L137.3 576.5L141.3 575.2L145.3 574.0L149.3 572.8L153.3 571.7L161.3 569.3L169.3 567.0L177.3 564.7L185.3 562.2L193.3 559.8L201.3 557.5L209.3 555.3L217.3 553.3L225.3 551.5L233.3 549.9L241.3 548.2L257.3 545.0L273.3 541.7L289.3 538.5L305.3 536.0L321.3 534.0L337.3 532.3L353.3 530.8L369.3 529.4L385.3 528.0L401.3 526.6L417.3 525.1L433.3 523.9L449.3 522.8L465.3 522.0L481.3 521.5L497.3 521.3L513.3 521.3L529.3 521.4L545.3 521.5L561.3 521.5L577.3 521.7L593.3 521.9L609.3 522.1L625.3 522.4L641.3 522.6L657.3 522.9L657.7 523.0 L657.7 617.5 L29.3 617.5Z" fill="#34b8f4"/><path d="M29.3 617.5L81.3 617.5L83.3 616.6L85.3 609.3L87.3 605.2L89.3 601.9L91.3 599.2L93.3 596.8L95.3 594.6L97.3 592.6L99.3 591.0L101.3 589.7L103.3 588.5L105.3 587.4L109.3 585.5L113.3 583.9L117.3 582.5L121.3 581.3L125.3 580.2L129.3 579.2L133.3 578.2L137.3 577.1L141.3 575.9L145.3 574.7L149.3 573.5L153.3 572.4L161.3 570.1L169.3 567.8L177.3 565.5L185.3 563.1L193.3 560.7L201.3 558.4L209.3 556.3L217.3 554.3L225.3 552.5L233.3 550.9L241.3 549.2L257.3 546.0L273.3 542.7L289.3 539.5L305.3 537.0L321.3 535.0L337.3 533.3L353.3 531.8L369.3 530.4L385.3 529.0L401.3 527.6L417.3 526.1L433.3 524.9L449.3 523.8L465.3 523.0L481.3 522.5L497.3 522.3L513.3 522.3L529.3 522.4L545.3 522.5L561.3 522.5L577.3 522.7L593.3 522.9L609.3 523.1L625.3 523.4L641.3 523.6L657.3 523.9L657.7 524.0 L657.7 617.5 L29.3 617.5Z" fill="#36c3f2"/><path d="M29.3 617.5L81.3 617.5L83.3 617.4L85.3 610.1L87.3 606.0L89.3 602.6L91.3 599.9L93.3 597.5L95.3 595.3L97.3 593.4L99.3 591.8L101.3 590.4L103.3 589.2L105.3 588.1L109.3 586.2L113.3 584.6L117.3 583.2L121.3 582.0L125.3 580.9L129.3 579.9L133.3 578.9L137.3 577.7L141.3 576.6L145.3 575.4L149.3 574.2L153.3 573.1L161.3 570.8L169.3 568.6L177.3 566.3L185.3 563.9L193.3 561.6L201.3 559.3L209.3 557.3L217.3 555.3L225.3 553.5L233.3 551.9L241.3 550.2L257.3 547.0L273.3 543.7L289.3 540.5L305.3 538.0L321.3 536.0L337.3 534.3L353.3 532.8L369.3 531.4L385.3 530.0L401.3 528.6L417.3 527.1L433.3 525.9L449.3 524.8L465.3 524.0L481.3 523.5L497.3 523.3L513.3 523.3L529.3 523.4L545.3 523.5L561.3 523.5L577.3 523.7L593.3 523.9L609.3 524.1L625.3 524.4L641.3 524.6L657.3 524.9L657.7 525.0 L657.7 617.5 L29.3 617.5Z" fill="#37cef1"/><path d="M29.3 617.5L83.3 617.5L85.3 610.8L87.3 606.7L89.3 603.4L91.3 600.7L93.3 598.3L95.3 596.1L97.3 594.1L99.3 592.5L101.3 591.2L103.3 590.0L105.3 588.9L109.3 587.0L113.3 585.3L117.3 583.9L121.3 582.7L125.3 581.6L129.3 580.5L133.3 579.5L137.3 578.4L141.3 577.2L145.3 576.1L149.3 574.9L153.3 573.8L161.3 571.6L169.3 569.4L177.3 567.1L185.3 564.8L193.3 562.4L201.3 560.2L209.3 558.2L217.3 556.3L225.3 554.5L233.3 552.9L241.3 551.2L257.3 548.0L273.3 544.7L289.3 541.5L305.3 539.0L321.3 537.0L337.3 535.3L353.3 533.8L369.3 532.4L385.3 531.0L401.3 529.6L417.3 528.1L433.3 526.9L449.3 525.8L465.3 525.0L481.3 524.5L497.3 524.3L513.3 524.3L529.3 524.4L545.3 524.5L561.3 524.5L577.3 524.7L593.3 524.9L609.3 525.1L625.3 525.4L641.3 525.6L657.3 525.9L657.7 526.0 L657.7 617.5 L29.3 617.5Z" fill="#38d9f0"/><path d="M29.3 617.5L83.3 617.5L85.3 611.6L87.3 607.5L89.3 604.1L91.3 601.4L93.3 599.0L95.3 596.8L97.3 594.9L99.3 593.3L101.3 591.9L103.3 590.7L105.3 589.6L109.3 587.7L113.3 586.0L117.3 584.6L121.3 583.4L125.3 582.2L129.3 581.2L133.3 580.1L137.3 579.0L141.3 577.9L145.3 576.7L149.3 575.6L153.3 574.5L161.3 572.3L169.3 570.2L177.3 567.9L185.3 565.6L193.3 563.3L201.3 561.1L209.3 559.2L217.3 557.3L225.3 555.5L233.3 553.9L241.3 552.2L257.3 549.0L273.3 545.7L289.3 542.5L305.3 540.0L321.3 538.0L337.3 536.3L353.3 534.8L369.3 533.4L385.3 532.0L401.3 530.6L417.3 529.1L433.3 527.9L449.3 526.8L465.3 526.0L481.3 525.5L497.3 525.3L513.3 525.3L529.3 525.4L545.3 525.5L561.3 525.5L577.3 525.7L593.3 525.9L609.3 526.1L625.3 526.4L641.3 526.6L657.3 526.9L657.7 527.0 L657.7 617.5 L29.3 617.5Z" fill="#3ae4ee"/><path d="M29.3 617.5L83.3 617.5L85.3 612.3L87.3 608.2L89.3 604.9L91.3 602.2L93.3 599.8L95.3 597.6L97.3 595.6L99.3 594.0L101.3 592.6L103.3 591.4L105.3 590.3L109.3 588.4L113.3 586.7L117.3 585.3L121.3 584.0L125.3 582.9L129.3 581.8L133.3 580.8L137.3 579.7L141.3 578.5L145.3 577.4L149.3 576.3L153.3 575.2L161.3 573.1L169.3 570.9L177.3 568.8L185.3 566.5L193.3 564.2L201.3 562.0L209.3 560.1L217.3 558.3L225.3 556.5L233.3 554.9L241.3 553.2L257.3 550.0L273.3 546.7L289.3 543.5L305.3 541.0L321.3 539.0L337.3 537.3L353.3 535.8L369.3 534.4L385.3 533.0L401.3 531.6L417.3 530.1L433.3 528.9L449.3 527.8L465.3 527.0L481.3 526.5L497.3 526.3L513.3 526.3L529.3 526.4L545.3 526.5L561.3 526.5L577.3 526.7L593.3 526.9L609.3 527.1L625.3 527.4L641.3 527.6L657.3 527.9L657.7 528.0 L657.7 617.5 L29.3 617.5Z" fill="#4ae8df"/><path d="M29.3 617.5L83.3 617.5L85.3 613.1L87.3 609.0L89.3 605.6L91.3 602.9L93.3 600.5L95.3 598.3L97.3 596.4L99.3 594.8L101.3 593.4L103.3 592.2L105.3 591.1L109.3 589.1L113.3 587.4L117.3 586.0L121.3 584.7L125.3 583.6L129.3 582.5L133.3 581.4L137.3 580.3L141.3 579.2L145.3 578.1L149.3 577.0L153.3 575.9L161.3 573.8L169.3 571.7L177.3 569.6L185.3 567.3L193.3 565.1L201.3 563.0L209.3 561.1L217.3 559.3L225.3 557.5L233.3 555.9L241.3 554.2L257.3 551.0L273.3 547.7L289.3 544.5L305.3 542.0L321.3 540.0L337.3 538.3L353.3 536.8L369.3 535.4L385.3 534.0L401.3 532.6L417.3 531.1L433.3 529.9L449.3 528.8L465.3 528.0L481.3 527.5L497.3 527.3L513.3 527.3L529.3 527.4L545.3 527.5L561.3 527.5L577.3 527.7L593.3 527.9L609.3 528.1L625.3 528.4L641.3 528.6L657.3 528.9L657.7 529.0 L657.7 617.5 L29.3 617.5Z" fill="#5aeccf"/><path d="M29.3 617.5L83.3 617.5L85.3 613.8L87.3 609.7L89.3 606.4L91.3 603.7L93.3 601.3L95.3 599.1L97.3 597.1L99.3 595.5L101.3 594.1L103.3 592.9L105.3 591.8L109.3 589.8L113.3 588.1L117.3 586.7L121.3 585.4L125.3 584.2L129.3 583.1L133.3 582.1L137.3 580.9L141.3 579.8L145.3 578.8L149.3 577.7L153.3 576.6L161.3 574.6L169.3 572.5L177.3 570.4L185.3 568.2L193.3 566.0L201.3 563.9L209.3 562.0L217.3 560.2L225.3 558.5L233.3 556.9L241.3 555.2L257.3 552.0L273.3 548.7L289.3 545.5L305.3 543.0L321.3 541.0L337.3 539.3L353.3 537.8L369.3 536.4L385.3 535.0L401.3 533.6L417.3 532.1L433.3 530.9L449.3 529.8L465.3 529.0L481.3 528.5L497.3 528.3L513.3 528.3L529.3 528.4L545.3 528.5L561.3 528.5L577.3 528.7L593.3 528.9L609.3 529.1L625.3 529.4L641.3 529.6L657.3 529.9L657.7 530.0 L657.7 617.5 L29.3 617.5Z" fill="#6af0c0"/><path d="M29.3 617.5L83.3 617.5L85.3 614.6L87.3 610.5L89.3 607.1L91.3 604.4L93.3 602.0L95.3 599.8L97.3 597.9L99.3 596.3L101.3 594.9L103.3 593.7L105.3 592.5L109.3 590.5L113.3 588.8L117.3 587.4L121.3 586.1L125.3 584.9L129.3 583.8L133.3 582.7L137.3 581.6L141.3 580.5L145.3 579.4L149.3 578.4L153.3 577.3L161.3 575.3L169.3 573.3L177.3 571.2L185.3 569.0L193.3 566.9L201.3 564.8L209.3 563.0L217.3 561.2L225.3 559.5L233.3 557.9L241.3 556.2L257.3 553.0L273.3 549.7L289.3 546.5L305.3 544.0L321.3 542.0L337.3 540.3L353.3 538.8L369.3 537.4L385.3 536.0L401.3 534.6L417.3 533.1L433.3 531.9L449.3 530.8L465.3 530.0L481.3 529.5L497.3 529.3L513.3 529.3L529.3 529.4L545.3 529.5L561.3 529.5L577.3 529.7L593.3 529.9L609.3 530.1L625.3 530.4L641.3 530.6L657.3 530.9L657.7 531.0 L657.7 617.5 L29.3 617.5Z" fill="#7ff0a0"/><path d="M29.3 617.5L83.3 617.5L85.3 615.3L87.3 611.2L89.3 607.9L91.3 605.2L93.3 602.8L95.3 600.6L97.3 598.6L99.3 597.0L101.3 595.6L103.3 594.4L105.3 593.3L109.3 591.3L113.3 589.5L117.3 588.1L121.3 586.7L125.3 585.6L129.3 584.4L133.3 583.3L137.3 582.2L141.3 581.2L145.3 580.1L149.3 579.1L153.3 578.1L161.3 576.0L169.3 574.0L177.3 572.0L185.3 569.9L193.3 567.7L201.3 565.7L209.3 563.9L217.3 562.2L225.3 560.5L233.3 558.9L241.3 557.2L257.3 554.0L273.3 550.7L289.3 547.5L305.3 545.0L321.3 543.0L337.3 541.3L353.3 539.8L369.3 538.4L385.3 537.0L401.3 535.6L417.3 534.1L433.3 532.9L449.3 531.8L465.3 531.0L481.3 530.5L497.3 530.3L513.3 530.3L529.3 530.4L545.3 530.5L561.3 530.5L577.3 530.7L593.3 530.9L609.3 531.1L625.3 531.4L641.3 531.6L657.3 531.9L657.7 532.0 L657.7 617.5 L29.3 617.5Z" fill="#93f080"/><path d="M29.3 617.5L83.3 617.5L85.3 616.1L87.3 612.0L89.3 608.6L91.3 605.9L93.3 603.5L95.3 601.3L97.3 599.4L99.3 597.8L101.3 596.4L103.3 595.1L105.3 594.0L109.3 592.0L113.3 590.2L117.3 588.7L121.3 587.4L125.3 586.2L129.3 585.1L133.3 584.0L137.3 582.9L141.3 581.8L145.3 580.8L149.3 579.8L153.3 578.8L161.3 576.8L169.3 574.8L177.3 572.8L185.3 570.7L193.3 568.6L201.3 566.6L209.3 564.9L217.3 563.2L225.3 561.5L233.3 559.9L241.3 558.2L257.3 555.0L273.3 551.7L289.3 548.5L305.3 546.0L321.3 544.0L337.3 542.3L353.3 540.8L369.3 539.4L385.3 538.0L401.3 536.6L417.3 535.1L433.3 533.9L449.3 532.8L465.3 532.0L481.3 531.5L497.3 531.3L513.3 531.3L529.3 531.4L545.3 531.5L561.3 531.5L577.3 531.7L593.3 531.9L609.3 532.1L625.3 532.4L641.3 532.6L657.3 532.9L657.7 533.0 L657.7 617.5 L29.3 617.5Z" fill="#a8f060"/><path d="M29.3 617.5L83.3 617.5L85.3 616.8L87.3 612.7L89.3 609.4L91.3 606.7L93.3 604.3L95.3 602.1L97.3 600.1L99.3 598.5L101.3 597.1L103.3 595.9L105.3 594.7L109.3 592.7L113.3 590.9L117.3 589.4L121.3 588.1L125.3 586.9L129.3 585.7L133.3 584.6L137.3 583.5L141.3 582.5L145.3 581.5L149.3 580.5L153.3 579.5L161.3 577.5L169.3 575.6L177.3 573.6L185.3 571.6L193.3 569.5L201.3 567.6L209.3 565.8L217.3 564.2L225.3 562.5L233.3 560.9L241.3 559.2L257.3 556.0L273.3 552.7L289.3 549.5L305.3 547.0L321.3 545.0L337.3 543.3L353.3 541.8L369.3 540.4L385.3 539.0L401.3 537.6L417.3 536.1L433.3 534.9L449.3 533.8L465.3 533.0L481.3 532.5L497.3 532.3L513.3 532.3L529.3 532.4L545.3 532.5L561.3 532.5L577.3 532.7L593.3 532.9L609.3 533.1L625.3 533.4L641.3 533.6L657.3 533.9L657.7 534.0 L657.7 617.5 L29.3 617.5Z" fill="#b7f04d"/><path d="M29.3 617.5L85.3 617.5L87.3 613.5L89.3 610.1L91.3 607.4L93.3 605.0L95.3 602.8L97.3 600.9L99.3 599.3L101.3 597.9L103.3 596.6L105.3 595.5L109.3 593.4L113.3 591.6L117.3 590.1L121.3 588.8L125.3 587.5L129.3 586.4L133.3 585.2L137.3 584.1L141.3 583.1L145.3 582.1L149.3 581.1L153.3 580.2L161.3 578.3L169.3 576.4L177.3 574.5L185.3 572.4L193.3 570.4L201.3 568.5L209.3 566.8L217.3 565.2L225.3 563.5L233.3 561.9L241.3 560.2L257.3 557.0L273.3 553.7L289.3 550.5L305.3 548.0L321.3 546.0L337.3 544.3L353.3 542.8L369.3 541.4L385.3 540.0L401.3 538.6L417.3 537.1L433.3 535.9L449.3 534.8L465.3 534.0L481.3 533.5L497.3 533.3L513.3 533.3L529.3 533.4L545.3 533.5L561.3 533.5L577.3 533.7L593.3 533.9L609.3 534.1L625.3 534.4L641.3 534.6L657.3 534.9L657.7 535.0 L657.7 617.5 L29.3 617.5Z" fill="#c5f03b"/><path d="M29.3 617.5L85.3 617.5L87.3 614.2L89.3 610.9L91.3 608.2L93.3 605.8L95.3 603.6L97.3 601.6L99.3 600.0L101.3 598.6L103.3 597.3L105.3 596.2L109.3 594.1L113.3 592.3L117.3 590.8L121.3 589.5L125.3 588.2L129.3 587.0L133.3 585.9L137.3 584.8L141.3 583.8L145.3 582.8L149.3 581.8L153.3 580.9L161.3 579.0L169.3 577.2L177.3 575.3L185.3 573.3L193.3 571.3L201.3 569.4L209.3 567.7L217.3 566.2L225.3 564.5L233.3 562.9L241.3 561.2L257.3 558.0L273.3 554.7L289.3 551.5L305.3 549.0L321.3 547.0L337.3 545.3L353.3 543.8L369.3 542.4L385.3 541.0L401.3 539.6L417.3 538.1L433.3 536.9L449.3 535.8L465.3 535.0L481.3 534.5L497.3 534.3L513.3 534.3L529.3 534.4L545.3 534.5L561.3 534.5L577.3 534.7L593.3 534.9L609.3 535.1L625.3 535.4L641.3 535.6L657.3 535.9L657.7 536.0 L657.7 617.5 L29.3 617.5Z" fill="#d4f028"/><path d="M29.3 617.5L85.3 617.5L87.3 615.0L89.3 611.6L91.3 608.9L93.3 606.5L95.3 604.3L97.3 602.4L99.3 600.8L101.3 599.4L103.3 598.1L105.3 596.9L109.3 594.9L113.3 593.0L117.3 591.5L121.3 590.1L125.3 588.9L129.3 587.7L133.3 586.5L137.3 585.4L141.3 584.5L145.3 583.5L149.3 582.5L153.3 581.6L161.3 579.8L169.3 577.9L177.3 576.1L185.3 574.1L193.3 572.2L201.3 570.3L209.3 568.7L217.3 567.2L225.3 565.5L233.3 563.9L241.3 562.2L257.3 559.0L273.3 555.7L289.3 552.5L305.3 550.0L321.3 548.0L337.3 546.3L353.3 544.8L369.3 543.4L385.3 542.0L401.3 540.6L417.3 539.1L433.3 537.9L449.3 536.8L465.3 536.0L481.3 535.5L497.3 535.3L513.3 535.3L529.3 535.4L545.3 535.5L561.3 535.5L577.3 535.7L593.3 535.9L609.3 536.1L625.3 536.4L641.3 536.6L657.3 536.9L657.7 537.0 L657.7 617.5 L29.3 617.5Z" fill="#dce823"/><path d="M29.3 617.5L85.3 617.5L87.3 615.7L89.3 612.4L91.3 609.7L93.3 607.3L95.3 605.1L97.3 603.1L99.3 601.5L101.3 600.1L103.3 598.8L105.3 597.7L109.3 595.6L113.3 593.7L117.3 592.2L121.3 590.8L125.3 589.5L129.3 588.3L133.3 587.1L137.3 586.1L141.3 585.1L145.3 584.2L149.3 583.2L153.3 582.3L161.3 580.5L169.3 578.7L177.3 576.9L185.3 575.0L193.3 573.0L201.3 571.2L209.3 569.6L217.3 568.2L225.3 566.5L233.3 564.9L241.3 563.2L257.3 560.0L273.3 556.7L289.3 553.5L305.3 551.0L321.3 549.0L337.3 547.3L353.3 545.8L369.3 544.4L385.3 543.0L401.3 541.6L417.3 540.1L433.3 538.9L449.3 537.8L465.3 537.0L481.3 536.5L497.3 536.3L513.3 536.3L529.3 536.4L545.3 536.5L561.3 536.5L577.3 536.7L593.3 536.9L609.3 537.1L625.3 537.4L641.3 537.6L657.3 537.9L657.7 538.0 L657.7 617.5 L29.3 617.5Z" fill="#e4e01e"/><path d="M29.3 617.5L85.3 617.5L87.3 616.5L89.3 613.1L91.3 610.4L93.3 608.0L95.3 605.8L97.3 603.9L99.3 602.3L101.3 600.8L103.3 599.6L105.3 598.4L109.3 596.3L113.3 594.4L117.3 592.9L121.3 591.5L125.3 590.2L129.3 589.0L133.3 587.8L137.3 586.7L141.3 585.8L145.3 584.8L149.3 583.9L153.3 583.0L161.3 581.3L169.3 579.5L177.3 577.7L185.3 575.8L193.3 573.9L201.3 572.2L209.3 570.6L217.3 569.1L225.3 567.5L233.3 565.9L241.3 564.2L257.3 561.0L273.3 557.7L289.3 554.5L305.3 552.0L321.3 550.0L337.3 548.3L353.3 546.8L369.3 545.4L385.3 544.0L401.3 542.6L417.3 541.1L433.3 539.9L449.3 538.8L465.3 538.0L481.3 537.5L497.3 537.3L513.3 537.3L529.3 537.4L545.3 537.5L561.3 537.5L577.3 537.7L593.3 537.9L609.3 538.1L625.3 538.4L641.3 538.6L657.3 538.9L657.7 539.0 L657.7 617.5 L29.3 617.5Z" fill="#ecd819"/><path d="M29.3 617.5L85.3 617.5L87.3 617.2L89.3 613.9L91.3 611.2L93.3 608.8L95.3 606.6L97.3 604.6L99.3 603.0L101.3 601.6L103.3 600.3L105.3 599.1L109.3 597.0L113.3 595.2L117.3 593.6L121.3 592.2L125.3 590.9L129.3 589.6L133.3 588.4L137.3 587.3L141.3 586.4L145.3 585.5L149.3 584.6L153.3 583.7L161.3 582.0L169.3 580.3L177.3 578.5L185.3 576.7L193.3 574.8L201.3 573.1L209.3 571.6L217.3 570.1L225.3 568.5L233.3 566.9L241.3 565.2L257.3 562.0L273.3 558.7L289.3 555.5L305.3 553.0L321.3 551.0L337.3 549.3L353.3 547.8L369.3 546.4L385.3 545.0L401.3 543.6L417.3 542.1L433.3 540.9L449.3 539.8L465.3 539.0L481.3 538.5L497.3 538.3L513.3 538.3L529.3 538.4L545.3 538.5L561.3 538.5L577.3 538.7L593.3 538.9L609.3 539.1L625.3 539.4L641.3 539.6L657.3 539.9L657.7 540.0 L657.7 617.5 L29.3 617.5Z" fill="#f4d014"/><path d="M29.3 617.5L87.3 617.5L89.3 614.6L91.3 611.9L93.3 609.5L95.3 607.3L97.3 605.4L99.3 603.8L101.3 602.3L103.3 601.0L105.3 599.9L109.3 597.7L113.3 595.9L117.3 594.3L121.3 592.8L125.3 591.5L129.3 590.3L133.3 589.0L137.3 588.0L141.3 587.1L145.3 586.2L149.3 585.3L153.3 584.4L161.3 582.7L169.3 581.1L177.3 579.3L185.3 577.5L193.3 575.7L201.3 574.0L209.3 572.5L217.3 571.1L225.3 569.5L233.3 567.9L241.3 566.2L257.3 563.0L273.3 559.7L289.3 556.5L305.3 554.0L321.3 552.0L337.3 550.3L353.3 548.8L369.3 547.4L385.3 546.0L401.3 544.6L417.3 543.1L433.3 541.9L449.3 540.8L465.3 540.0L481.3 539.5L497.3 539.3L513.3 539.3L529.3 539.4L545.3 539.5L561.3 539.5L577.3 539.7L593.3 539.9L609.3 540.1L625.3 540.4L641.3 540.6L657.3 540.9L657.7 541.0 L657.7 617.5 L29.3 617.5Z" fill="#f5c414"/><path d="M29.3 617.5L87.3 617.5L89.3 615.4L91.3 612.7L93.3 610.3L95.3 608.1L97.3 606.1L99.3 604.5L101.3 603.1L103.3 601.8L105.3 600.6L109.3 598.4L113.3 596.6L117.3 595.0L121.3 593.5L125.3 592.2L129.3 590.9L133.3 589.7L137.3 588.6L141.3 587.7L145.3 586.9L149.3 586.0L153.3 585.1L161.3 583.5L169.3 581.8L177.3 580.2L185.3 578.4L193.3 576.6L201.3 574.9L209.3 573.5L217.3 572.1L225.3 570.5L233.3 568.9L241.3 567.2L257.3 564.0L273.3 560.7L289.3 557.5L305.3 555.0L321.3 553.0L337.3 551.3L353.3 549.8L369.3 548.4L385.3 547.0L401.3 545.6L417.3 544.1L433.3 542.9L449.3 541.8L465.3 541.0L481.3 540.5L497.3 540.3L513.3 540.3L529.3 540.4L545.3 540.5L561.3 540.5L577.3 540.7L593.3 540.9L609.3 541.1L625.3 541.4L641.3 541.6L657.3 541.9L657.7 542.0 L657.7 617.5 L29.3 617.5Z" fill="#f6b813"/><path d="M29.3 617.5L87.3 617.5L89.3 616.1L91.3 613.4L93.3 611.0L95.3 608.8L97.3 606.9L99.3 605.3L101.3 603.8L103.3 602.5L105.3 601.3L109.3 599.2L113.3 597.3L117.3 595.7L121.3 594.2L125.3 592.9L129.3 591.6L133.3 590.3L137.3 589.3L141.3 588.4L145.3 587.5L149.3 586.7L153.3 585.9L161.3 584.2L169.3 582.6L177.3 581.0L185.3 579.2L193.3 577.5L201.3 575.8L209.3 574.4L217.3 573.1L225.3 571.5L233.3 569.9L241.3 568.2L257.3 565.0L273.3 561.7L289.3 558.5L305.3 556.0L321.3 554.0L337.3 552.3L353.3 550.8L369.3 549.4L385.3 548.0L401.3 546.6L417.3 545.1L433.3 543.9L449.3 542.8L465.3 542.0L481.3 541.5L497.3 541.3L513.3 541.3L529.3 541.4L545.3 541.5L561.3 541.5L577.3 541.7L593.3 541.9L609.3 542.1L625.3 542.4L641.3 542.6L657.3 542.9L657.7 543.0 L657.7 617.5 L29.3 617.5Z" fill="#f7ac12"/><path d="M29.3 617.5L87.3 617.5L89.3 616.9L91.3 614.2L93.3 611.8L95.3 609.6L97.3 607.6L99.3 606.0L101.3 604.6L103.3 603.3L105.3 602.1L109.3 599.9L113.3 598.0L117.3 596.3L121.3 594.9L125.3 593.5L129.3 592.2L133.3 591.0L137.3 589.9L141.3 589.1L145.3 588.2L149.3 587.4L153.3 586.6L161.3 585.0L169.3 583.4L177.3 581.8L185.3 580.1L193.3 578.3L201.3 576.7L209.3 575.4L217.3 574.1L225.3 572.5L233.3 570.9L241.3 569.2L257.3 566.0L273.3 562.7L289.3 559.5L305.3 557.0L321.3 555.0L337.3 553.3L353.3 551.8L369.3 550.4L385.3 549.0L401.3 547.6L417.3 546.1L433.3 544.9L449.3 543.8L465.3 543.0L481.3 542.5L497.3 542.3L513.3 542.3L529.3 542.4L545.3 542.5L561.3 542.5L577.3 542.7L593.3 542.9L609.3 543.1L625.3 543.4L641.3 543.6L657.3 543.9L657.7 544.0 L657.7 617.5 L29.3 617.5Z" fill="#f8a012"/><path d="M29.3 617.5L89.3 617.5L91.3 614.9L93.3 612.5L95.3 610.3L97.3 608.4L99.3 606.8L101.3 605.3L103.3 604.0L105.3 602.8L109.3 600.6L113.3 598.7L117.3 597.0L121.3 595.5L125.3 594.2L129.3 592.9L133.3 591.6L137.3 590.5L141.3 589.7L145.3 588.9L149.3 588.1L153.3 587.3L161.3 585.7L169.3 584.2L177.3 582.6L185.3 580.9L193.3 579.2L201.3 577.7L209.3 576.3L217.3 575.1L225.3 573.5L233.3 571.9L241.3 570.2L257.3 567.0L273.3 563.7L289.3 560.5L305.3 558.0L321.3 556.0L337.3 554.3L353.3 552.8L369.3 551.4L385.3 550.0L401.3 548.6L417.3 547.1L433.3 545.9L449.3 544.8L465.3 544.0L481.3 543.5L497.3 543.3L513.3 543.3L529.3 543.4L545.3 543.5L561.3 543.5L577.3 543.7L593.3 543.9L609.3 544.1L625.3 544.4L641.3 544.6L657.3 544.9L657.7 545.0 L657.7 617.5 L29.3 617.5Z" fill="#f79412"/><path d="M29.3 617.5L89.3 617.5L91.3 615.7L93.3 613.3L95.3 611.1L97.3 609.1L99.3 607.5L101.3 606.1L103.3 604.7L105.3 603.5L109.3 601.3L113.3 599.4L117.3 597.7L121.3 596.2L125.3 594.8L129.3 593.5L133.3 592.2L137.3 591.2L141.3 590.4L145.3 589.6L149.3 588.8L153.3 588.0L161.3 586.5L169.3 585.0L177.3 583.4L185.3 581.8L193.3 580.1L201.3 578.6L209.3 577.3L217.3 576.1L225.3 574.5L233.3 572.9L241.3 571.2L257.3 568.0L273.3 564.7L289.3 561.5L305.3 559.0L321.3 557.0L337.3 555.3L353.3 553.8L369.3 552.4L385.3 551.0L401.3 549.6L417.3 548.1L433.3 546.9L449.3 545.8L465.3 545.0L481.3 544.5L497.3 544.3L513.3 544.3L529.3 544.4L545.3 544.5L561.3 544.5L577.3 544.7L593.3 544.9L609.3 545.1L625.3 545.4L641.3 545.6L657.3 545.9L657.7 546.0 L657.7 617.5 L29.3 617.5Z" fill="#f68811"/><path d="M29.3 617.5L89.3 617.5L91.3 616.4L93.3 614.0L95.3 611.8L97.3 609.9L99.3 608.3L101.3 606.8L103.3 605.5L105.3 604.2L109.3 602.0L113.3 600.1L117.3 598.4L121.3 596.9L125.3 595.5L129.3 594.2L133.3 592.9L137.3 591.8L141.3 591.0L145.3 590.2L149.3 589.5L153.3 588.7L161.3 587.2L169.3 585.7L177.3 584.2L185.3 582.6L193.3 581.0L201.3 579.5L209.3 578.2L217.3 577.0L225.3 575.5L233.3 573.9L241.3 572.2L257.3 569.0L273.3 565.7L289.3 562.5L305.3 560.0L321.3 558.0L337.3 556.3L353.3 554.8L369.3 553.4L385.3 552.0L401.3 550.6L417.3 549.1L433.3 547.9L449.3 546.8L465.3 546.0L481.3 545.5L497.3 545.3L513.3 545.3L529.3 545.4L545.3 545.5L561.3 545.5L577.3 545.7L593.3 545.9L609.3 546.1L625.3 546.4L641.3 546.6L657.3 546.9L657.7 547.0 L657.7 617.5 L29.3 617.5Z" fill="#f57c10"/><path d="M29.3 617.5L89.3 617.5L91.3 617.2L93.3 614.8L95.3 612.6L97.3 610.6L99.3 609.0L101.3 607.6L103.3 606.2L105.3 605.0L109.3 602.8L113.3 600.8L117.3 599.1L121.3 597.6L125.3 596.2L129.3 594.8L133.3 593.5L137.3 592.5L141.3 591.7L145.3 590.9L149.3 590.1L153.3 589.4L161.3 588.0L169.3 586.5L177.3 585.0L185.3 583.5L193.3 581.9L201.3 580.4L209.3 579.2L217.3 578.0L225.3 576.5L233.3 574.9L241.3 573.2L257.3 570.0L273.3 566.7L289.3 563.5L305.3 561.0L321.3 559.0L337.3 557.3L353.3 555.8L369.3 554.4L385.3 553.0L401.3 551.6L417.3 550.1L433.3 548.9L449.3 547.8L465.3 547.0L481.3 546.5L497.3 546.3L513.3 546.3L529.3 546.4L545.3 546.5L561.3 546.5L577.3 546.7L593.3 546.9L609.3 547.1L625.3 547.4L641.3 547.6L657.3 547.9L657.7 548.0 L657.7 617.5 L29.3 617.5Z" fill="#f47010"/><path d="M29.3 617.5L91.3 617.5L93.3 615.5L95.3 613.3L97.3 611.4L99.3 609.8L101.3 608.3L103.3 607.0L105.3 605.7L109.3 603.5L113.3 601.5L117.3 599.8L121.3 598.3L125.3 596.8L129.3 595.5L133.3 594.1L137.3 593.1L141.3 592.3L145.3 591.6L149.3 590.8L153.3 590.1L161.3 588.7L169.3 587.3L177.3 585.9L185.3 584.3L193.3 582.8L201.3 581.3L209.3 580.1L217.3 579.0L225.3 577.5L233.3 575.9L241.3 574.2L257.3 571.0L273.3 567.7L289.3 564.5L305.3 562.0L321.3 560.0L337.3 558.3L353.3 556.8L369.3 555.4L385.3 554.0L401.3 552.6L417.3 551.1L433.3 549.9L449.3 548.8L465.3 548.0L481.3 547.5L497.3 547.3L513.3 547.3L529.3 547.4L545.3 547.5L561.3 547.5L577.3 547.7L593.3 547.9L609.3 548.1L625.3 548.4L641.3 548.6L657.3 548.9L657.7 549.0 L657.7 617.5 L29.3 617.5Z" fill="#f1620f"/><path d="M29.3 617.5L91.3 617.5L93.3 616.3L95.3 614.1L97.3 612.1L99.3 610.5L101.3 609.0L103.3 607.7L105.3 606.4L109.3 604.2L113.3 602.2L117.3 600.5L121.3 598.9L125.3 597.5L129.3 596.1L133.3 594.8L137.3 593.7L141.3 593.0L145.3 592.3L149.3 591.5L153.3 590.8L161.3 589.4L169.3 588.1L177.3 586.7L185.3 585.2L193.3 583.6L201.3 582.3L209.3 581.1L217.3 580.0L225.3 578.5L233.3 576.9L241.3 575.2L257.3 572.0L273.3 568.7L289.3 565.5L305.3 563.0L321.3 561.0L337.3 559.3L353.3 557.8L369.3 556.4L385.3 555.0L401.3 553.6L417.3 552.1L433.3 550.9L449.3 549.8L465.3 549.0L481.3 548.5L497.3 548.3L513.3 548.3L529.3 548.4L545.3 548.5L561.3 548.5L577.3 548.7L593.3 548.9L609.3 549.1L625.3 549.4L641.3 549.6L657.3 549.9L657.7 550.0 L657.7 617.5 L29.3 617.5Z" fill="#ee550e"/><path d="M29.3 617.5L91.3 617.5L93.3 617.0L95.3 614.8L97.3 612.9L99.3 611.3L101.3 609.8L103.3 608.4L105.3 607.2L109.3 604.9L113.3 602.9L117.3 601.2L121.3 599.6L125.3 598.2L129.3 596.8L133.3 595.4L137.3 594.4L141.3 593.7L145.3 592.9L149.3 592.2L153.3 591.5L161.3 590.2L169.3 588.9L177.3 587.5L185.3 586.0L193.3 584.5L201.3 583.2L209.3 582.0L217.3 581.0L225.3 579.5L233.3 577.9L241.3 576.2L257.3 573.0L273.3 569.7L289.3 566.5L305.3 564.0L321.3 562.0L337.3 560.3L353.3 558.8L369.3 557.4L385.3 556.0L401.3 554.6L417.3 553.1L433.3 551.9L449.3 550.8L465.3 550.0L481.3 549.5L497.3 549.3L513.3 549.3L529.3 549.4L545.3 549.5L561.3 549.5L577.3 549.7L593.3 549.9L609.3 550.1L625.3 550.4L641.3 550.6L657.3 550.9L657.7 551.0 L657.7 617.5 L29.3 617.5Z" fill="#eb480d"/><path d="M29.3 617.5L93.3 617.5L95.3 615.6L97.3 613.6L99.3 612.0L101.3 610.5L103.3 609.2L105.3 607.9L109.3 605.6L113.3 603.6L117.3 601.9L121.3 600.3L125.3 598.8L129.3 597.4L133.3 596.0L137.3 595.0L141.3 594.3L145.3 593.6L149.3 592.9L153.3 592.2L161.3 590.9L169.3 589.6L177.3 588.3L185.3 586.9L193.3 585.4L201.3 584.1L209.3 583.0L217.3 582.0L225.3 580.5L233.3 578.9L241.3 577.2L257.3 574.0L273.3 570.7L289.3 567.5L305.3 565.0L321.3 563.0L337.3 561.3L353.3 559.8L369.3 558.4L385.3 557.0L401.3 555.6L417.3 554.1L433.3 552.9L449.3 551.8L465.3 551.0L481.3 550.5L497.3 550.3L513.3 550.3L529.3 550.4L545.3 550.5L561.3 550.5L577.3 550.7L593.3 550.9L609.3 551.1L625.3 551.4L641.3 551.6L657.3 551.9L657.7 552.0 L657.7 617.5 L29.3 617.5Z" fill="#e83a0c"/><path d="M29.3 617.5L93.3 617.5L95.3 616.3L97.3 614.4L99.3 612.8L101.3 611.3L103.3 609.9L105.3 608.6L109.3 606.3L113.3 604.3L117.3 602.6L121.3 601.0L125.3 599.5L129.3 598.1L133.3 596.7L137.3 595.7L141.3 595.0L145.3 594.3L149.3 593.6L153.3 593.0L161.3 591.7L169.3 590.4L177.3 589.1L185.3 587.7L193.3 586.3L201.3 585.0L209.3 583.9L217.3 583.0L225.3 581.5L233.3 579.9L241.3 578.2L257.3 575.0L273.3 571.7L289.3 568.5L305.3 566.0L321.3 564.0L337.3 562.3L353.3 560.8L369.3 559.4L385.3 558.0L401.3 556.6L417.3 555.1L433.3 553.9L449.3 552.8L465.3 552.0L481.3 551.5L497.3 551.3L513.3 551.3L529.3 551.4L545.3 551.5L561.3 551.5L577.3 551.7L593.3 551.9L609.3 552.1L625.3 552.4L641.3 552.6L657.3 552.9L657.7 553.0 L657.7 617.5 L29.3 617.5Z" fill="#e4320b"/><path d="M29.3 617.5L93.3 617.5L95.3 617.1L97.3 615.1L99.3 613.5L101.3 612.0L103.3 610.6L105.3 609.4L109.3 607.1L113.3 605.0L117.3 603.3L121.3 601.6L125.3 600.1L129.3 598.7L133.3 597.3L137.3 596.3L141.3 595.6L145.3 595.0L149.3 594.3L153.3 593.7L161.3 592.4L169.3 591.2L177.3 589.9L185.3 588.6L193.3 587.2L201.3 585.9L209.3 584.9L217.3 584.0L225.3 582.5L233.3 580.9L241.3 579.2L257.3 576.0L273.3 572.7L289.3 569.5L305.3 567.0L321.3 565.0L337.3 563.3L353.3 561.8L369.3 560.4L385.3 559.0L401.3 557.6L417.3 556.1L433.3 554.9L449.3 553.8L465.3 553.0L481.3 552.5L497.3 552.3L513.3 552.3L529.3 552.4L545.3 552.5L561.3 552.5L577.3 552.7L593.3 552.9L609.3 553.1L625.3 553.4L641.3 553.6L657.3 553.9L657.7 554.0 L657.7 617.5 L29.3 617.5Z" fill="#e02b0a"/><path d="M29.3 617.5L95.3 617.5L97.3 615.9L99.3 614.3L101.3 612.8L103.3 611.4L105.3 610.1L109.3 607.8L113.3 605.7L117.3 603.9L121.3 602.3L125.3 600.8L129.3 599.4L133.3 598.0L137.3 596.9L141.3 596.3L145.3 595.6L149.3 595.0L153.3 594.4L161.3 593.2L169.3 592.0L177.3 590.7L185.3 589.4L193.3 588.1L201.3 586.9L209.3 585.9L217.3 585.0L225.3 583.5L233.3 581.9L241.3 580.2L257.3 577.0L273.3 573.7L289.3 570.5L305.3 568.0L321.3 566.0L337.3 564.3L353.3 562.8L369.3 561.4L385.3 560.0L401.3 558.6L417.3 557.1L433.3 555.9L449.3 554.8L465.3 554.0L481.3 553.5L497.3 553.3L513.3 553.3L529.3 553.4L545.3 553.5L561.3 553.5L577.3 553.7L593.3 553.9L609.3 554.1L625.3 554.4L641.3 554.6L657.3 554.9L657.7 555.0 L657.7 617.5 L29.3 617.5Z" fill="#dc230a"/><path d="M29.3 617.5L95.3 617.5L97.3 616.6L99.3 615.0L101.3 613.5L103.3 612.1L105.3 610.8L109.3 608.5L113.3 606.4L117.3 604.6L121.3 603.0L125.3 601.5L129.3 600.0L133.3 598.6L137.3 597.6L141.3 596.9L145.3 596.3L149.3 595.7L153.3 595.1L161.3 593.9L169.3 592.8L177.3 591.6L185.3 590.3L193.3 589.0L201.3 587.8L209.3 586.8L217.3 585.9L225.3 584.5L233.3 582.9L241.3 581.2L257.3 578.0L273.3 574.7L289.3 571.5L305.3 569.0L321.3 567.0L337.3 565.3L353.3 563.8L369.3 562.4L385.3 561.0L401.3 559.6L417.3 558.1L433.3 556.9L449.3 555.8L465.3 555.0L481.3 554.5L497.3 554.3L513.3 554.3L529.3 554.4L545.3 554.5L561.3 554.5L577.3 554.7L593.3 554.9L609.3 555.1L625.3 555.4L641.3 555.6L657.3 555.9L657.7 556.0 L657.7 617.5 L29.3 617.5Z" fill="#d81c09"/><path d="M29.3 617.5L95.3 617.5L97.3 617.4L99.3 615.8L101.3 614.3L103.3 612.9L105.3 611.6L109.3 609.2L113.3 607.1L117.3 605.3L121.3 603.7L125.3 602.1L129.3 600.7L133.3 599.2L137.3 598.2L141.3 597.6L145.3 597.0L149.3 596.4L153.3 595.8L161.3 594.7L169.3 593.5L177.3 592.4L185.3 591.1L193.3 589.8L201.3 588.7L209.3 587.8L217.3 586.9L225.3 585.5L233.3 583.9L241.3 582.2L257.3 579.0L273.3 575.7L289.3 572.5L305.3 570.0L321.3 568.0L337.3 566.3L353.3 564.8L369.3 563.4L385.3 562.0L401.3 560.6L417.3 559.1L433.3 557.9L449.3 556.8L465.3 556.0L481.3 555.5L497.3 555.3L513.3 555.3L529.3 555.4L545.3 555.5L561.3 555.5L577.3 555.7L593.3 555.9L609.3 556.1L625.3 556.4L641.3 556.6L657.3 556.9L657.7 557.0 L657.7 617.5 L29.3 617.5Z" fill="#d41408"/><path d="M29.3 617.5L97.3 617.5L99.3 616.5L101.3 615.0L103.3 613.6L105.3 612.3L109.3 609.9L113.3 607.8L117.3 606.0L121.3 604.3L125.3 602.8L129.3 601.3L133.3 599.9L137.3 598.9L141.3 598.3L145.3 597.7L149.3 597.1L153.3 596.5L161.3 595.4L169.3 594.3L177.3 593.2L185.3 592.0L193.3 590.7L201.3 589.6L209.3 588.7L217.3 587.9L225.3 586.5L233.3 584.9L241.3 583.2L257.3 580.0L273.3 576.7L289.3 573.5L305.3 571.0L321.3 569.0L337.3 567.3L353.3 565.8L369.3 564.4L385.3 563.0L401.3 561.6L417.3 560.1L433.3 558.9L449.3 557.8L465.3 557.0L481.3 556.5L497.3 556.3L513.3 556.3L529.3 556.4L545.3 556.5L561.3 556.5L577.3 556.7L593.3 556.9L609.3 557.1L625.3 557.4L641.3 557.6L657.3 557.9L657.7 558.0 L657.7 617.5 L29.3 617.5Z" fill="#d11207"/><path d="M29.3 617.5L97.3 617.5L99.3 617.3L101.3 615.8L103.3 614.3L105.3 613.0L109.3 610.6L113.3 608.5L117.3 606.7L121.3 605.0L125.3 603.5L129.3 602.0L133.3 600.5L137.3 599.5L141.3 598.9L145.3 598.3L149.3 597.8L153.3 597.2L161.3 596.1L169.3 595.1L177.3 594.0L185.3 592.8L193.3 591.6L201.3 590.5L209.3 589.7L217.3 588.9L225.3 587.5L233.3 585.9L241.3 584.2L257.3 581.0L273.3 577.7L289.3 574.5L305.3 572.0L321.3 570.0L337.3 568.3L353.3 566.8L369.3 565.4L385.3 564.0L401.3 562.6L417.3 561.1L433.3 559.9L449.3 558.8L465.3 558.0L481.3 557.5L497.3 557.3L513.3 557.3L529.3 557.4L545.3 557.5L561.3 557.5L577.3 557.7L593.3 557.9L609.3 558.1L625.3 558.4L641.3 558.6L657.3 558.9L657.7 559.0 L657.7 617.5 L29.3 617.5Z" fill="#cd0f07"/><path d="M29.3 617.5L99.3 617.5L101.3 616.5L103.3 615.1L105.3 613.8L109.3 611.4L113.3 609.2L117.3 607.4L121.3 605.7L125.3 604.1L129.3 602.6L133.3 601.1L137.3 600.1L141.3 599.6L145.3 599.0L149.3 598.5L153.3 597.9L161.3 596.9L169.3 595.9L177.3 594.8L185.3 593.7L193.3 592.5L201.3 591.4L209.3 590.6L217.3 589.9L225.3 588.5L233.3 586.9L241.3 585.2L257.3 582.0L273.3 578.7L289.3 575.5L305.3 573.0L321.3 571.0L337.3 569.3L353.3 567.8L369.3 566.4L385.3 565.0L401.3 563.6L417.3 562.1L433.3 560.9L449.3 559.8L465.3 559.0L481.3 558.5L497.3 558.3L513.3 558.3L529.3 558.4L545.3 558.5L561.3 558.5L577.3 558.7L593.3 558.9L609.3 559.1L625.3 559.4L641.3 559.6L657.3 559.9L657.7 560.0 L657.7 617.5 L29.3 617.5Z" fill="#ca0d06"/><path d="M29.3 617.5L99.3 617.5L101.3 617.2L103.3 615.8L105.3 614.5L109.3 612.1L113.3 609.9L117.3 608.1L121.3 606.4L125.3 604.8L129.3 603.3L133.3 601.8L137.3 600.8L141.3 600.2L145.3 599.7L149.3 599.1L153.3 598.6L161.3 597.6L169.3 596.6L177.3 595.6L185.3 594.5L193.3 593.4L201.3 592.4L209.3 591.6L217.3 590.9L225.3 589.5L233.3 587.9L241.3 586.2L257.3 583.0L273.3 579.7L289.3 576.5L305.3 574.0L321.3 572.0L337.3 570.3L353.3 568.8L369.3 567.4L385.3 566.0L401.3 564.6L417.3 563.1L433.3 561.9L449.3 560.8L465.3 560.0L481.3 559.5L497.3 559.3L513.3 559.3L529.3 559.4L545.3 559.5L561.3 559.5L577.3 559.7L593.3 559.9L609.3 560.1L625.3 560.4L641.3 560.6L657.3 560.9L657.7 561.0 L657.7 617.5 L29.3 617.5Z" fill="#c60b06"/><path d="M29.3 617.5L101.3 617.5L103.3 616.6L105.3 615.2L109.3 612.8L113.3 610.6L117.3 608.8L121.3 607.1L125.3 605.5L129.3 603.9L133.3 602.4L137.3 601.4L141.3 600.9L145.3 600.4L149.3 599.8L153.3 599.3L161.3 598.4L169.3 597.4L177.3 596.4L185.3 595.4L193.3 594.3L201.3 593.3L209.3 592.5L217.3 591.9L225.3 590.5L233.3 588.9L241.3 587.2L257.3 584.0L273.3 580.7L289.3 577.5L305.3 575.0L321.3 573.0L337.3 571.3L353.3 569.8L369.3 568.4L385.3 567.0L401.3 565.6L417.3 564.1L433.3 562.9L449.3 561.8L465.3 561.0L481.3 560.5L497.3 560.3L513.3 560.3L529.3 560.4L545.3 560.5L561.3 560.5L577.3 560.7L593.3 560.9L609.3 561.1L625.3 561.4L641.3 561.6L657.3 561.9L657.7 562.0 L657.7 617.5 L29.3 617.5Z" fill="#c30905"/><path d="M29.3 617.5L101.3 617.5L103.3 617.3L105.3 616.0L109.3 613.5L113.3 611.4L117.3 609.5L121.3 607.7L125.3 606.1L129.3 604.6L133.3 603.0L137.3 602.1L141.3 601.5L145.3 601.0L149.3 600.5L153.3 600.0L161.3 599.1L169.3 598.2L177.3 597.3L185.3 596.2L193.3 595.1L201.3 594.2L209.3 593.5L217.3 592.9L225.3 591.5L233.3 589.9L241.3 588.2L257.3 585.0L273.3 581.7L289.3 578.5L305.3 576.0L321.3 574.0L337.3 572.3L353.3 570.8L369.3 569.4L385.3 568.0L401.3 566.6L417.3 565.1L433.3 563.9L449.3 562.8L465.3 562.0L481.3 561.5L497.3 561.3L513.3 561.3L529.3 561.4L545.3 561.5L561.3 561.5L577.3 561.7L593.3 561.9L609.3 562.1L625.3 562.4L641.3 562.6L657.3 562.9L657.7 563.0 L657.7 617.5 L29.3 617.5Z" fill="#bf0605"/><path d="M29.3 617.5L103.3 617.5L105.3 616.7L109.3 614.2L113.3 612.1L117.3 610.2L121.3 608.4L125.3 606.8L129.3 605.2L133.3 603.7L137.3 602.7L141.3 602.2L145.3 601.7L149.3 601.2L153.3 600.8L161.3 599.9L169.3 599.0L177.3 598.1L185.3 597.0L193.3 596.0L201.3 595.1L209.3 594.4L217.3 593.8L225.3 592.5L233.3 590.9L241.3 589.2L257.3 586.0L273.3 582.7L289.3 579.5L305.3 577.0L321.3 575.0L337.3 573.3L353.3 571.8L369.3 570.4L385.3 569.0L401.3 567.6L417.3 566.1L433.3 564.9L449.3 563.8L465.3 563.0L481.3 562.5L497.3 562.3L513.3 562.3L529.3 562.4L545.3 562.5L561.3 562.5L577.3 562.7L593.3 562.9L609.3 563.1L625.3 563.4L641.3 563.6L657.3 563.9L657.7 564.0 L657.7 617.5 L29.3 617.5Z" fill="#bc0404"/><path d="M29.3 617.5L103.3 617.5L105.3 617.4L109.3 615.0L113.3 612.8L117.3 610.9L121.3 609.1L125.3 607.4L129.3 605.9L133.3 604.3L137.3 603.4L141.3 602.9L145.3 602.4L149.3 601.9L153.3 601.5L161.3 600.6L169.3 599.8L177.3 598.9L185.3 597.9L193.3 596.9L201.3 596.0L209.3 595.4L217.3 594.8L225.3 593.5L233.3 591.9L241.3 590.2L257.3 587.0L273.3 583.7L289.3 580.5L305.3 578.0L321.3 576.0L337.3 574.3L353.3 572.8L369.3 571.4L385.3 570.0L401.3 568.6L417.3 567.1L433.3 565.9L449.3 564.8L465.3 564.0L481.3 563.5L497.3 563.3L513.3 563.3L529.3 563.4L545.3 563.5L561.3 563.5L577.3 563.7L593.3 563.9L609.3 564.1L625.3 564.4L641.3 564.6L657.3 564.9L657.7 565.0 L657.7 617.5 L29.3 617.5Z" fill="#b90404"/><path d="M29.3 617.5L105.3 617.5L109.3 615.7L113.3 613.5L117.3 611.5L121.3 609.8L125.3 608.1L129.3 606.5L133.3 604.9L137.3 604.0L141.3 603.5L145.3 603.1L149.3 602.6L153.3 602.2L161.3 601.4L169.3 600.5L177.3 599.7L185.3 598.7L193.3 597.8L201.3 597.0L209.3 596.3L217.3 595.8L225.3 594.5L233.3 592.9L241.3 591.2L257.3 588.0L273.3 584.7L289.3 581.5L305.3 579.0L321.3 577.0L337.3 575.3L353.3 573.8L369.3 572.4L385.3 571.0L401.3 569.6L417.3 568.1L433.3 566.9L449.3 565.8L465.3 565.0L481.3 564.5L497.3 564.3L513.3 564.3L529.3 564.4L545.3 564.5L561.3 564.5L577.3 564.7L593.3 564.9L609.3 565.1L625.3 565.4L641.3 565.6L657.3 565.9L657.7 566.0 L657.7 617.5 L29.3 617.5Z" fill="#b70303"/><path d="M29.3 617.5L105.3 617.5L109.3 616.4L113.3 614.2L117.3 612.2L121.3 610.4L125.3 608.8L129.3 607.2L133.3 605.6L137.3 604.6L141.3 604.2L145.3 603.7L149.3 603.3L153.3 602.9L161.3 602.1L169.3 601.3L177.3 600.5L185.3 599.6L193.3 598.7L201.3 597.9L209.3 597.3L217.3 596.8L225.3 595.5L233.3 593.9L241.3 592.2L257.3 589.0L273.3 585.7L289.3 582.5L305.3 580.0L321.3 578.0L337.3 576.3L353.3 574.8L369.3 573.4L385.3 572.0L401.3 570.6L417.3 569.1L433.3 567.9L449.3 566.8L465.3 566.0L481.3 565.5L497.3 565.3L513.3 565.3L529.3 565.4L545.3 565.5L561.3 565.5L577.3 565.7L593.3 565.9L609.3 566.1L625.3 566.4L641.3 566.6L657.3 566.9L657.7 567.0 L657.7 617.5 L29.3 617.5Z" fill="#b40303"/><path d="M29.3 617.5L105.3 617.5L109.3 617.1L113.3 614.9L117.3 612.9L121.3 611.1L125.3 609.4L129.3 607.8L133.3 606.2L137.3 605.3L141.3 604.8L145.3 604.4L149.3 604.0L153.3 603.6L161.3 602.8L169.3 602.1L177.3 601.3L185.3 600.4L193.3 599.6L201.3 598.8L209.3 598.2L217.3 597.8L225.3 596.5L233.3 594.9L241.3 593.2L257.3 590.0L273.3 586.7L289.3 583.5L305.3 581.0L321.3 579.0L337.3 577.3L353.3 575.8L369.3 574.4L385.3 573.0L401.3 571.6L417.3 570.1L433.3 568.9L449.3 567.8L465.3 567.0L481.3 566.5L497.3 566.3L513.3 566.3L529.3 566.4L545.3 566.5L561.3 566.5L577.3 566.7L593.3 566.9L609.3 567.1L625.3 567.4L641.3 567.6L657.3 567.9L657.7 568.0 L657.7 617.5 L29.3 617.5Z" fill="#b20202"/><path d="M29.3 617.5L109.3 617.5L113.3 615.6L117.3 613.6L121.3 611.8L125.3 610.1L129.3 608.5L133.3 606.9L137.3 605.9L141.3 605.5L145.3 605.1L149.3 604.7L153.3 604.3L161.3 603.6L169.3 602.9L177.3 602.1L185.3 601.3L193.3 600.4L201.3 599.7L209.3 599.2L217.3 598.8L225.3 597.5L233.3 595.9L241.3 594.2L257.3 591.0L273.3 587.7L289.3 584.5L305.3 582.0L321.3 580.0L337.3 578.3L353.3 576.8L369.3 575.4L385.3 574.0L401.3 572.6L417.3 571.1L433.3 569.9L449.3 568.8L465.3 568.0L481.3 567.5L497.3 567.3L513.3 567.3L529.3 567.4L545.3 567.5L561.3 567.5L577.3 567.7L593.3 567.9L609.3 568.1L625.3 568.4L641.3 568.6L657.3 568.9L657.7 569.0 L657.7 617.5 L29.3 617.5Z" fill="#af0202"/><path d="M29.3 617.5L109.3 617.5L113.3 616.3L117.3 614.3L121.3 612.5L125.3 610.8L129.3 609.1L133.3 607.5L137.3 606.6L141.3 606.1L145.3 605.8L149.3 605.4L153.3 605.0L161.3 604.3L169.3 603.7L177.3 603.0L185.3 602.1L193.3 601.3L201.3 600.6L209.3 600.2L217.3 599.8L225.3 598.5L233.3 596.9L241.3 595.2L257.3 592.0L273.3 588.7L289.3 585.5L305.3 583.0L321.3 581.0L337.3 579.3L353.3 577.8L369.3 576.4L385.3 575.0L401.3 573.6L417.3 572.1L433.3 570.9L449.3 569.8L465.3 569.0L481.3 568.5L497.3 568.3L513.3 568.3L529.3 568.4L545.3 568.5L561.3 568.5L577.3 568.7L593.3 568.9L609.3 569.1L625.3 569.4L641.3 569.6L657.3 569.9L657.7 570.0 L657.7 617.5 L29.3 617.5Z" fill="#ac0202"/><path d="M29.3 617.5L109.3 617.5L113.3 617.0L117.3 615.0L121.3 613.1L125.3 611.4L129.3 609.8L133.3 608.1L137.3 607.2L141.3 606.8L145.3 606.4L149.3 606.1L153.3 605.7L161.3 605.1L169.3 604.4L177.3 603.8L185.3 603.0L193.3 602.2L201.3 601.5L209.3 601.1L217.3 600.8L225.3 599.5L233.3 597.9L241.3 596.2L257.3 593.0L273.3 589.7L289.3 586.5L305.3 584.0L321.3 582.0L337.3 580.3L353.3 578.8L369.3 577.4L385.3 576.0L401.3 574.6L417.3 573.1L433.3 571.9L449.3 570.8L465.3 570.0L481.3 569.5L497.3 569.3L513.3 569.3L529.3 569.4L545.3 569.5L561.3 569.5L577.3 569.7L593.3 569.9L609.3 570.1L625.3 570.4L641.3 570.6L657.3 570.9L657.7 571.0 L657.7 617.5 L29.3 617.5Z" fill="#aa0101"/><path d="M29.3 617.5L113.3 617.5L117.3 615.7L121.3 613.8L125.3 612.1L129.3 610.4L133.3 608.8L137.3 607.8L141.3 607.5L145.3 607.1L149.3 606.8L153.3 606.4L161.3 605.8L169.3 605.2L177.3 604.6L185.3 603.8L193.3 603.1L201.3 602.5L209.3 602.1L217.3 601.8L225.3 600.5L233.3 598.9L241.3 597.2L257.3 594.0L273.3 590.7L289.3 587.5L305.3 585.0L321.3 583.0L337.3 581.3L353.3 579.8L369.3 578.4L385.3 577.0L401.3 575.6L417.3 574.1L433.3 572.9L449.3 571.8L465.3 571.0L481.3 570.5L497.3 570.3L513.3 570.3L529.3 570.4L545.3 570.5L561.3 570.5L577.3 570.7L593.3 570.9L609.3 571.1L625.3 571.4L641.3 571.6L657.3 571.9L657.7 572.0 L657.7 617.5 L29.3 617.5Z" fill="#a70101"/><path d="M29.3 617.5L113.3 617.5L117.3 616.4L121.3 614.5L125.3 612.7L129.3 611.1L133.3 609.4L137.3 608.5L141.3 608.1L145.3 607.8L149.3 607.5L153.3 607.1L161.3 606.6L169.3 606.0L177.3 605.4L185.3 604.7L193.3 604.0L201.3 603.4L209.3 603.0L217.3 602.7L225.3 601.5L233.3 599.9L241.3 598.2L257.3 595.0L273.3 591.7L289.3 588.5L305.3 586.0L321.3 584.0L337.3 582.3L353.3 580.8L369.3 579.4L385.3 578.0L401.3 576.6L417.3 575.1L433.3 573.9L449.3 572.8L465.3 572.0L481.3 571.5L497.3 571.3L513.3 571.3L529.3 571.4L545.3 571.5L561.3 571.5L577.3 571.7L593.3 571.9L609.3 572.1L625.3 572.4L641.3 572.6L657.3 572.9L657.7 573.0 L657.7 617.5 L29.3 617.5Z" fill="#a50000"/><path d="M29.3 617.5L113.3 617.5L117.3 617.1L121.3 615.2L125.3 613.4L129.3 611.7L133.3 610.0L137.3 609.1L141.3 608.8L145.3 608.5L149.3 608.1L153.3 607.9L161.3 607.3L169.3 606.8L177.3 606.2L185.3 605.5L193.3 604.9L201.3 604.3L209.3 604.0L217.3 603.7L225.3 602.5L233.3 600.9L241.3 599.2L257.3 596.0L273.3 592.7L289.3 589.5L305.3 587.0L321.3 585.0L337.3 583.3L353.3 581.8L369.3 580.4L385.3 579.0L401.3 577.6L417.3 576.1L433.3 574.9L449.3 573.8L465.3 573.0L481.3 572.5L497.3 572.3L513.3 572.3L529.3 572.4L545.3 572.5L561.3 572.5L577.3 572.7L593.3 572.9L609.3 573.1L625.3 573.4L641.3 573.6L657.3 573.9L657.7 574.0 L657.7 617.5 L29.3 617.5Z" fill="#a20000"/><path d="M29.3 617.5L117.3 617.5L121.3 615.9L125.3 614.1L129.3 612.4L133.3 610.7L137.3 609.8L141.3 609.4L145.3 609.1L149.3 608.8L153.3 608.6L161.3 608.1L169.3 607.6L177.3 607.0L185.3 606.4L193.3 605.7L201.3 605.2L209.3 604.9L217.3 604.7L225.3 603.5L233.3 601.9L241.3 600.2L257.3 597.0L273.3 593.7L289.3 590.5L305.3 588.0L321.3 586.0L337.3 584.3L353.3 582.8L369.3 581.4L385.3 580.0L401.3 578.6L417.3 577.1L433.3 575.9L449.3 574.8L465.3 574.0L481.3 573.5L497.3 573.3L513.3 573.3L529.3 573.4L545.3 573.5L561.3 573.5L577.3 573.7L593.3 573.9L609.3 574.1L625.3 574.4L641.3 574.6L657.3 574.9L657.7 575.0 L657.7 617.5 L29.3 617.5Z" fill="#a10000"/><path d="M29.3 617.5L117.3 617.5L121.3 616.5L125.3 614.7L129.3 613.0L133.3 611.3L137.3 610.4L141.3 610.1L145.3 609.8L149.3 609.5L153.3 609.3L161.3 608.8L169.3 608.3L177.3 607.8L185.3 607.2L193.3 606.6L201.3 606.1L209.3 605.9L217.3 605.7L225.3 604.5L233.3 602.9L241.3 601.2L257.3 598.0L273.3 594.7L289.3 591.5L305.3 589.0L321.3 587.0L337.3 585.3L353.3 583.8L369.3 582.4L385.3 581.0L401.3 579.6L417.3 578.1L433.3 576.9L449.3 575.8L465.3 575.0L481.3 574.5L497.3 574.3L513.3 574.3L529.3 574.4L545.3 574.5L561.3 574.5L577.3 574.7L593.3 574.9L609.3 575.1L625.3 575.4L641.3 575.6L657.3 575.9L657.7 576.0 L657.7 617.5 L29.3 617.5Z" fill="#9f0000"/><path d="M29.3 617.5L117.3 617.5L121.3 617.2L125.3 615.4L129.3 613.7L133.3 611.9L137.3 611.0L141.3 610.7L145.3 610.5L149.3 610.2L153.3 610.0L161.3 609.5L169.3 609.1L177.3 608.7L185.3 608.1L193.3 607.5L201.3 607.1L209.3 606.8L217.3 606.7L225.3 605.5L233.3 603.9L241.3 602.2L257.3 599.0L273.3 595.7L289.3 592.5L305.3 590.0L321.3 588.0L337.3 586.3L353.3 584.8L369.3 583.4L385.3 582.0L401.3 580.6L417.3 579.1L433.3 577.9L449.3 576.8L465.3 576.0L481.3 575.5L497.3 575.3L513.3 575.3L529.3 575.4L545.3 575.5L561.3 575.5L577.3 575.7L593.3 575.9L609.3 576.1L625.3 576.4L641.3 576.6L657.3 576.9L657.7 577.0 L657.7 617.5 L29.3 617.5Z" fill="#9e0000"/><path d="M29.3 617.5L121.3 617.5L125.3 616.1L129.3 614.3L133.3 612.6L137.3 611.7L141.3 611.4L145.3 611.2L149.3 610.9L153.3 610.7L161.3 610.3L169.3 609.9L177.3 609.5L185.3 608.9L193.3 608.4L201.3 608.0L209.3 607.8L217.3 607.7L225.3 606.5L233.3 604.9L241.3 603.2L257.3 600.0L273.3 596.7L289.3 593.5L305.3 591.0L321.3 589.0L337.3 587.3L353.3 585.8L369.3 584.4L385.3 583.0L401.3 581.6L417.3 580.1L433.3 578.9L449.3 577.8L465.3 577.0L481.3 576.5L497.3 576.3L513.3 576.3L529.3 576.4L545.3 576.5L561.3 576.5L577.3 576.7L593.3 576.9L609.3 577.1L625.3 577.4L641.3 577.6L657.3 577.9L657.7 578.0 L657.7 617.5 L29.3 617.5Z" fill="#9d0000"/><path d="M29.3 617.5L121.3 617.5L125.3 616.7L129.3 615.0L133.3 613.2L137.3 612.3L141.3 612.1L145.3 611.8L149.3 611.6L153.3 611.4L161.3 611.0L169.3 610.7L177.3 610.3L185.3 609.8L193.3 609.3L201.3 608.9L209.3 608.7L217.3 608.7L225.3 607.5L233.3 605.9L241.3 604.2L257.3 601.0L273.3 597.7L289.3 594.5L305.3 592.0L321.3 590.0L337.3 588.3L353.3 586.8L369.3 585.4L385.3 584.0L401.3 582.6L417.3 581.1L433.3 579.9L449.3 578.8L465.3 578.0L481.3 577.5L497.3 577.3L513.3 577.3L529.3 577.4L545.3 577.5L561.3 577.5L577.3 577.7L593.3 577.9L609.3 578.1L625.3 578.4L641.3 578.6L657.3 578.9L657.7 579.0 L657.7 617.5 L29.3 617.5Z" fill="#9c0000"/><path d="M29.3 617.5L121.3 617.5L125.3 617.4L129.3 615.6L133.3 613.8L137.3 613.0L141.3 612.7L145.3 612.5L149.3 612.3L153.3 612.1L161.3 611.8L169.3 611.5L177.3 611.1L185.3 610.6L193.3 610.2L201.3 609.8L209.3 609.7L217.3 609.7L225.3 608.5L233.3 606.9L241.3 605.2L257.3 602.0L273.3 598.7L289.3 595.5L305.3 593.0L321.3 591.0L337.3 589.3L353.3 587.8L369.3 586.4L385.3 585.0L401.3 583.6L417.3 582.1L433.3 580.9L449.3 579.8L465.3 579.0L481.3 578.5L497.3 578.3L513.3 578.3L529.3 578.4L545.3 578.5L561.3 578.5L577.3 578.7L593.3 578.9L609.3 579.1L625.3 579.4L641.3 579.6L657.3 579.9L657.7 580.0 L657.7 617.5 L29.3 617.5Z" fill="#9a0000"/><path d="M29.3 617.5L125.3 617.5L129.3 616.3L133.3 614.5L137.3 613.6L141.3 613.4L145.3 613.2L149.3 613.0L153.3 612.8L161.3 612.5L169.3 612.2L177.3 611.9L185.3 611.5L193.3 611.0L201.3 610.7L209.3 610.6L217.3 610.6L225.3 609.5L233.3 607.9L241.3 606.2L257.3 603.0L273.3 599.7L289.3 596.5L305.3 594.0L321.3 592.0L337.3 590.3L353.3 588.8L369.3 587.4L385.3 586.0L401.3 584.6L417.3 583.1L433.3 581.9L449.3 580.8L465.3 580.0L481.3 579.5L497.3 579.3L513.3 579.3L529.3 579.4L545.3 579.5L561.3 579.5L577.3 579.7L593.3 579.9L609.3 580.1L625.3 580.4L641.3 580.6L657.3 580.9L657.7 581.0 L657.7 617.5 L29.3 617.5Z" fill="#990000"/><path d="M29.3 617.5L125.3 617.5L129.3 616.9L133.3 615.1L137.3 614.2L141.3 614.0L145.3 613.9L149.3 613.7L153.3 613.5L161.3 613.3L169.3 613.0L177.3 612.7L185.3 612.3L193.3 611.9L201.3 611.7L209.3 611.6L217.3 611.6L225.3 610.5L233.3 608.9L241.3 607.2L257.3 604.0L273.3 600.7L289.3 597.5L305.3 595.0L321.3 593.0L337.3 591.3L353.3 589.8L369.3 588.4L385.3 587.0L401.3 585.6L417.3 584.1L433.3 582.9L449.3 581.8L465.3 581.0L481.3 580.5L497.3 580.3L513.3 580.3L529.3 580.4L545.3 580.5L561.3 580.5L577.3 580.7L593.3 580.9L609.3 581.1L625.3 581.4L641.3 581.6L657.3 581.9L657.7 582.0 L657.7 617.5 L29.3 617.5Z" fill="#980000"/><path d="M29.3 617.5L129.3 617.5L133.3 615.8L137.3 614.9L141.3 614.7L145.3 614.5L149.3 614.4L153.3 614.2L161.3 614.0L169.3 613.8L177.3 613.5L185.3 613.2L193.3 612.8L201.3 612.6L209.3 612.5L217.3 612.6L225.3 611.5L233.3 609.9L241.3 608.2L257.3 605.0L273.3 601.7L289.3 598.5L305.3 596.0L321.3 594.0L337.3 592.3L353.3 590.8L369.3 589.4L385.3 588.0L401.3 586.6L417.3 585.1L433.3 583.9L449.3 582.8L465.3 582.0L481.3 581.5L497.3 581.3L513.3 581.3L529.3 581.4L545.3 581.5L561.3 581.5L577.3 581.7L593.3 581.9L609.3 582.1L625.3 582.4L641.3 582.6L657.3 582.9L657.7 583.0 L657.7 617.5 L29.3 617.5Z" fill="#970000"/><path d="M29.3 617.5L129.3 617.5L133.3 616.4L137.3 615.5L141.3 615.4L145.3 615.2L149.3 615.1L153.3 615.0L161.3 614.8L169.3 614.6L177.3 614.3L185.3 614.0L193.3 613.7L201.3 613.5L209.3 613.5L217.3 613.6L225.3 612.5L233.3 610.9L241.3 609.2L257.3 606.0L273.3 602.7L289.3 599.5L305.3 597.0L321.3 595.0L337.3 593.3L353.3 591.8L369.3 590.4L385.3 589.0L401.3 587.6L417.3 586.1L433.3 584.9L449.3 583.8L465.3 583.0L481.3 582.5L497.3 582.3L513.3 582.3L529.3 582.4L545.3 582.5L561.3 582.5L577.3 582.7L593.3 582.9L609.3 583.1L625.3 583.4L641.3 583.6L657.3 583.9L657.7 584.0 L657.7 617.5 L29.3 617.5Z" fill="#950000"/><path d="M29.3 617.5L129.3 617.5L133.3 617.0L137.3 616.2L141.3 616.0L145.3 615.9L149.3 615.8L153.3 615.7L161.3 615.5L169.3 615.4L177.3 615.2L185.3 614.9L193.3 614.6L201.3 614.4L209.3 614.5L217.3 614.6L225.3 613.5L233.3 611.9L241.3 610.2L257.3 607.0L273.3 603.7L289.3 600.5L305.3 598.0L321.3 596.0L337.3 594.3L353.3 592.8L369.3 591.4L385.3 590.0L401.3 588.6L417.3 587.1L433.3 585.9L449.3 584.8L465.3 584.0L481.3 583.5L497.3 583.3L513.3 583.3L529.3 583.4L545.3 583.5L561.3 583.5L577.3 583.7L593.3 583.9L609.3 584.1L625.3 584.4L641.3 584.6L657.3 584.9L657.7 585.0 L657.7 617.5 L29.3 617.5Z" fill="#940000"/><path d="M29.3 617.5L133.3 617.5L137.3 616.8L141.3 616.7L145.3 616.6L149.3 616.5L153.3 616.4L161.3 616.2L169.3 616.1L177.3 616.0L185.3 615.7L193.3 615.5L201.3 615.3L209.3 615.4L217.3 615.6L225.3 614.5L233.3 612.9L241.3 611.2L257.3 608.0L273.3 604.7L289.3 601.5L305.3 599.0L321.3 597.0L337.3 595.3L353.3 593.8L369.3 592.4L385.3 591.0L401.3 589.6L417.3 588.1L433.3 586.9L449.3 585.8L465.3 585.0L481.3 584.5L497.3 584.3L513.3 584.3L529.3 584.4L545.3 584.5L561.3 584.5L577.3 584.7L593.3 584.9L609.3 585.1L625.3 585.4L641.3 585.6L657.3 585.9L657.7 586.0 L657.7 617.5 L29.3 617.5Z" fill="#940000"/><path d="M29.3 617.5L133.3 617.5L137.3 617.4L141.3 617.3L145.3 617.2L149.3 617.1L153.3 617.1L161.3 617.0L169.3 616.9L177.3 616.8L185.3 616.6L193.3 616.3L201.3 616.2L209.3 616.4L217.3 616.6L225.3 615.5L233.3 613.9L241.3 612.2L257.3 609.0L273.3 605.7L289.3 602.5L305.3 600.0L321.3 598.0L337.3 596.3L353.3 594.8L369.3 593.4L385.3 592.0L401.3 590.6L417.3 589.1L433.3 587.9L449.3 586.8L465.3 586.0L481.3 585.5L497.3 585.3L513.3 585.3L529.3 585.4L545.3 585.5L561.3 585.5L577.3 585.7L593.3 585.9L609.3 586.1L625.3 586.4L641.3 586.6L657.3 586.9L657.7 587.0 L657.7 617.5 L29.3 617.5Z" fill="#940000"/><path d="M85.3 613.81 L87.3 609.71 L89.3 606.39 L91.3 603.65 L93.3 601.29 L95.3 599.09 L97.3 597.15 L99.3 595.5 L101.3 594.14 L103.3 592.92 L105.3 591.81 L109.3 589.82 L113.3 588.11 L117.3 586.68 L121.3 585.39 L125.3 584.23 L129.3 583.14 L133.3 582.06 L137.3 580.95 L141.3 579.85 L145.3 578.76 L149.3 577.69 L153.3 576.63 L161.3 574.56 L169.3 572.49 L177.3 570.39 L185.3 568.18 L193.3 565.97 L201.3 563.89 L209.3 562.02 L217.3 560.25 L225.3 558.54 L233.3 556.87 L241.3 555.25 L257.3 552.04 L273.3 548.71 L289.3 545.54 L305.3 542.96 L321.3 540.98 L337.3 539.28 L353.3 537.76 L369.3 536.36 L385.3 534.97 L401.3 533.55 L417.3 532.15 L433.3 530.86 L449.3 529.77 L465.3 528.99 L481.3 528.53 L497.3 528.32 L513.3 528.29 L529.3 528.36 L545.3 528.46 L561.3 528.53 L577.3 528.66 L593.3 528.86 L609.3 529.1 L625.3 529.36 L641.3 529.61 L657.3 529.94 L657.7 529.95" fill="none" stroke="#9ab8b0" stroke-width="0.8" stroke-opacity="0.8"/><rect x="29.3" y="510.8" width="6" height="105.7" fill="#141270" opacity="0.35"/><ellipse cx="304.5" cy="616.5" rx="75" ry="32" fill="url(#bottomRed)" opacity="0.55"/><ellipse cx="304.5" cy="616.5" rx="43" ry="22" fill="url(#poreGlow2)"/><ellipse cx="521.8" cy="616.5" rx="90" ry="38" fill="url(#bottomRed)" opacity="0.55"/><ellipse cx="521.8" cy="616.5" rx="60" ry="34" fill="url(#poreGlow3)"/><path d="M503.5 616.5 A18.5 8.8 0 0 1 540.5 616.5" fill="none" stroke="#9ab8b0" stroke-width="0.7" stroke-opacity="0.8"/><ellipse cx="413" cy="617" rx="60" ry="14" fill="url(#bottomRed)" opacity="0.5"/></g><rect x="29.3" y="616.5" width="628.4" height="12.2" fill="#fff"/><rect x="29.3" y="628.6" width="628.4" height="6" fill="url(#stripE)"/><rect x="81.9" y="614.3" width="11.7" height="15" fill="url(#plugG)"/><path d="M81.9 629 V620 Q81.9 614.3 88 614.3 H93.6 V629Z" fill="url(#plugG)"/><rect x="298.4" y="616" width="12.3" height="13" fill="url(#pore2G)"/><rect x="516.1" y="616" width="11.9" height="13" fill="url(#pore3G)"/><path d="M36.9 631.4H126" stroke="#6ab04c" stroke-width="1.8"/><path d="M124.5 627.6L132 631.4L124.5 635.2Z" fill="#6ab04c"/><text x="41.5" y="540.9" font-size="21.7" font-weight="bold" fill="#fff" textLength="122" lengthAdjust="spacingAndGlyphs">Liquid area</text><text x="507.2" y="567.5" font-size="21.7" font-weight="bold" fill="#fbb20c" textLength="96.6" lengthAdjust="spacingAndGlyphs">Gas area</text><rect x="45.1" y="588.1" width="95.8" height="24.9" fill="#0c8080"/><text x="46" y="608.2" font-size="21.7" font-weight="bold" fill="#fff">CO</text><text x="79" y="613.9" font-size="14.6" font-weight="bold" fill="#fff">2</text><text x="94.3" y="608.2" font-size="21.7" font-weight="bold" fill="#fff" textLength="45.3" lengthAdjust="spacingAndGlyphs">flow</text><text x="1" y="525.7" font-size="20.5" font-weight="bold" fill="#000">(e)</text><g clip-path="url(#clipF)"><rect x="29.2" y="641.1" width="628.5" height="108.9" fill="#1a187e"/><path d="M29.2 751.0L75.2 751.0L77.2 747.4L79.2 744.2L81.2 738.9L83.2 734.2L85.2 729.8L87.2 726.1L89.2 723.7L91.2 721.8L93.2 719.8L95.2 717.9L97.2 716.1L99.2 714.5L101.2 713.0L103.2 711.6L105.2 710.3L109.2 707.8L113.2 705.4L117.2 703.2L121.2 701.0L125.2 699.0L129.2 697.2L133.2 695.4L137.2 693.7L141.2 692.1L145.2 690.5L149.2 688.9L153.2 687.3L161.2 684.5L169.2 682.0L177.2 679.7L185.2 677.5L193.2 675.3L201.2 673.0L209.2 671.2L217.2 670.0L225.2 668.8L233.2 667.6L241.2 666.3L257.2 663.8L273.2 661.3L289.2 658.8L305.2 656.5L321.2 654.1L337.2 651.8L353.2 649.5L369.2 647.2L385.2 645.1L401.2 643.0L417.2 641.0L433.2 640.1L657.7 640.1 L657.7 751 L29.2 751Z" fill="#1a187e"/><path d="M29.2 751.0L75.2 751.0L77.2 747.8L79.2 744.5L81.2 739.3L83.2 734.5L85.2 730.1L87.2 726.5L89.2 724.1L91.2 722.2L93.2 720.2L95.2 718.3L97.2 716.5L99.2 714.8L101.2 713.4L103.2 712.0L105.2 710.7L109.2 708.2L113.2 705.9L117.2 703.6L121.2 701.5L125.2 699.5L129.2 697.7L133.2 696.0L137.2 694.3L141.2 692.7L145.2 691.0L149.2 689.5L153.2 687.9L161.2 685.1L169.2 682.7L177.2 680.4L185.2 678.2L193.2 676.0L201.2 673.8L209.2 672.1L217.2 670.9L225.2 669.6L233.2 668.4L241.2 667.1L257.2 664.6L273.2 662.1L289.2 659.7L305.2 657.3L321.2 654.9L337.2 652.6L353.2 650.3L369.2 648.1L385.2 645.9L401.2 643.8L417.2 641.8L433.2 640.1L657.7 640.1 L657.7 751 L29.2 751Z" fill="#1a187e"/><path d="M29.2 751.0L75.2 751.0L77.2 748.1L79.2 744.9L81.2 739.6L83.2 734.9L85.2 730.5L87.2 726.8L89.2 724.4L91.2 722.5L93.2 720.6L95.2 718.7L97.2 716.9L99.2 715.2L101.2 713.8L103.2 712.4L105.2 711.1L109.2 708.7L113.2 706.3L117.2 704.1L121.2 702.0L125.2 700.0L129.2 698.2L133.2 696.5L137.2 694.8L141.2 693.2L145.2 691.6L149.2 690.0L153.2 688.5L161.2 685.8L169.2 683.4L177.2 681.1L185.2 679.0L193.2 676.8L201.2 674.6L209.2 672.9L217.2 671.7L225.2 670.4L233.2 669.2L241.2 667.9L257.2 665.4L273.2 662.9L289.2 660.5L305.2 658.1L321.2 655.7L337.2 653.4L353.2 651.1L369.2 648.9L385.2 646.7L401.2 644.6L417.2 642.6L433.2 640.8L449.2 640.1L657.7 640.1 L657.7 751 L29.2 751Z" fill="#1a187e"/><path d="M29.2 751.0L75.2 751.0L77.2 748.5L79.2 745.2L81.2 740.0L83.2 735.2L85.2 730.8L87.2 727.2L89.2 724.8L91.2 722.9L93.2 720.9L95.2 719.1L97.2 717.3L99.2 715.6L101.2 714.2L103.2 712.8L105.2 711.5L109.2 709.1L113.2 706.8L117.2 704.6L121.2 702.5L125.2 700.5L129.2 698.7L133.2 697.0L137.2 695.4L141.2 693.8L145.2 692.2L149.2 690.6L153.2 689.1L161.2 686.4L169.2 684.1L177.2 681.8L185.2 679.7L193.2 677.6L201.2 675.4L209.2 673.7L217.2 672.5L225.2 671.3L233.2 670.0L241.2 668.8L257.2 666.3L273.2 663.8L289.2 661.3L305.2 658.9L321.2 656.6L337.2 654.2L353.2 651.9L369.2 649.7L385.2 647.5L401.2 645.4L417.2 643.4L433.2 641.6L449.2 640.1L657.7 640.1 L657.7 751 L29.2 751Z" fill="#1b1a84"/><path d="M29.2 751.0L75.2 751.0L77.2 748.8L79.2 745.6L81.2 740.3L83.2 735.6L85.2 731.2L87.2 727.5L89.2 725.1L91.2 723.2L93.2 721.3L95.2 719.4L97.2 717.6L99.2 716.0L101.2 714.6L103.2 713.2L105.2 712.0L109.2 709.5L113.2 707.2L117.2 705.0L121.2 703.0L125.2 701.0L129.2 699.2L133.2 697.5L137.2 695.9L141.2 694.3L145.2 692.8L149.2 691.2L153.2 689.8L161.2 687.1L169.2 684.7L177.2 682.5L185.2 680.4L193.2 678.3L201.2 676.2L209.2 674.5L217.2 673.3L225.2 672.1L233.2 670.8L241.2 669.6L257.2 667.1L273.2 664.6L289.2 662.1L305.2 659.7L321.2 657.4L337.2 655.1L353.2 652.8L369.2 650.5L385.2 648.3L401.2 646.2L417.2 644.3L433.2 642.4L449.2 640.8L465.2 640.1L657.7 640.1 L657.7 751 L29.2 751Z" fill="#1b1b8b"/><path d="M29.2 751.0L75.2 751.0L77.2 749.1L79.2 745.9L81.2 740.7L83.2 735.9L85.2 731.5L87.2 727.9L89.2 725.5L91.2 723.6L93.2 721.7L95.2 719.8L97.2 718.0L99.2 716.4L101.2 715.0L103.2 713.6L105.2 712.4L109.2 709.9L113.2 707.6L117.2 705.5L121.2 703.4L125.2 701.5L129.2 699.7L133.2 698.1L137.2 696.5L141.2 694.9L145.2 693.3L149.2 691.8L153.2 690.4L161.2 687.7L169.2 685.4L177.2 683.2L185.2 681.2L193.2 679.1L201.2 677.0L209.2 675.3L217.2 674.1L225.2 672.9L233.2 671.7L241.2 670.4L257.2 667.9L273.2 665.4L289.2 662.9L305.2 660.6L321.2 658.2L337.2 655.9L353.2 653.6L369.2 651.3L385.2 649.2L401.2 647.1L417.2 645.1L433.2 643.3L449.2 641.6L465.2 640.1L657.7 640.1 L657.7 751 L29.2 751Z" fill="#1c1d91"/><path d="M29.2 751.0L75.2 751.0L77.2 749.5L79.2 746.3L81.2 741.0L83.2 736.3L85.2 731.9L87.2 728.2L89.2 725.8L91.2 723.9L93.2 722.0L95.2 720.2L97.2 718.4L99.2 716.8L101.2 715.4L103.2 714.0L105.2 712.8L109.2 710.4L113.2 708.1L117.2 706.0L121.2 703.9L125.2 702.0L129.2 700.2L133.2 698.6L137.2 697.0L141.2 695.5L145.2 693.9L149.2 692.4L153.2 691.0L161.2 688.3L169.2 686.1L177.2 684.0L185.2 681.9L193.2 679.9L201.2 677.8L209.2 676.2L217.2 675.0L225.2 673.7L233.2 672.5L241.2 671.2L257.2 668.7L273.2 666.2L289.2 663.8L305.2 661.4L321.2 659.0L337.2 656.7L353.2 654.4L369.2 652.2L385.2 650.0L401.2 647.9L417.2 645.9L433.2 644.1L449.2 642.4L465.2 640.9L481.2 640.1L657.7 640.1 L657.7 751 L29.2 751Z" fill="#1d1f97"/><path d="M29.2 751.0L75.2 751.0L77.2 749.9L79.2 746.6L81.2 741.4L83.2 736.6L85.2 732.2L87.2 728.6L89.2 726.2L91.2 724.3L93.2 722.4L95.2 720.5L97.2 718.8L99.2 717.2L101.2 715.8L103.2 714.5L105.2 713.2L109.2 710.8L113.2 708.5L117.2 706.4L121.2 704.4L125.2 702.5L129.2 700.8L133.2 699.1L137.2 697.5L141.2 696.0L145.2 694.5L149.2 693.0L153.2 691.6L161.2 689.0L169.2 686.7L177.2 684.7L185.2 682.7L193.2 680.7L201.2 678.6L209.2 677.0L217.2 675.8L225.2 674.5L233.2 673.3L241.2 672.0L257.2 669.5L273.2 667.0L289.2 664.6L305.2 662.2L321.2 659.8L337.2 657.5L353.2 655.2L369.2 653.0L385.2 650.8L401.2 648.7L417.2 646.7L433.2 644.9L449.2 643.2L465.2 641.7L481.2 640.2L497.2 640.1L657.7 640.1 L657.7 751 L29.2 751Z" fill="#1d209e"/><path d="M29.2 751.0L75.2 751.0L77.2 750.2L79.2 747.0L81.2 741.7L83.2 737.0L85.2 732.6L87.2 728.9L89.2 726.5L91.2 724.6L93.2 722.8L95.2 720.9L97.2 719.2L99.2 717.6L101.2 716.2L103.2 714.9L105.2 713.6L109.2 711.2L113.2 709.0L117.2 706.9L121.2 704.9L125.2 703.0L129.2 701.3L133.2 699.6L137.2 698.1L141.2 696.6L145.2 695.1L149.2 693.6L153.2 692.2L161.2 689.6L169.2 687.4L177.2 685.4L185.2 683.4L193.2 681.4L201.2 679.4L209.2 677.8L217.2 676.6L225.2 675.4L233.2 674.1L241.2 672.9L257.2 670.4L273.2 667.9L289.2 665.4L305.2 663.0L321.2 660.7L337.2 658.3L353.2 656.0L369.2 653.8L385.2 651.6L401.2 649.5L417.2 647.5L433.2 645.7L449.2 644.1L465.2 642.5L481.2 641.0L497.2 640.1L657.7 640.1 L657.7 751 L29.2 751Z" fill="#1e22a4"/><path d="M29.2 751.0L75.2 751.0L77.2 750.5L79.2 747.3L81.2 742.1L83.2 737.3L85.2 732.9L87.2 729.3L89.2 726.9L91.2 725.0L93.2 723.1L95.2 721.3L97.2 719.5L99.2 717.9L101.2 716.5L103.2 715.3L105.2 714.0L109.2 711.6L113.2 709.4L117.2 707.3L121.2 705.3L125.2 703.5L129.2 701.8L133.2 700.2L137.2 698.6L141.2 697.1L145.2 695.6L149.2 694.2L153.2 692.8L161.2 690.3L169.2 688.1L177.2 686.1L185.2 684.1L193.2 682.2L201.2 680.2L209.2 678.6L217.2 677.4L225.2 676.2L233.2 674.9L241.2 673.7L257.2 671.2L273.2 668.7L289.2 666.2L305.2 663.8L321.2 661.5L337.2 659.2L353.2 656.9L369.2 654.6L385.2 652.4L401.2 650.3L417.2 648.4L433.2 646.5L449.2 644.9L465.2 643.3L481.2 641.8L497.2 640.4L513.2 640.1L657.7 640.1 L657.7 751 L29.2 751Z" fill="#1f25aa"/><path d="M29.2 751.0L75.2 751.0L77.2 750.9L79.2 747.7L81.2 742.4L83.2 737.7L85.2 733.3L87.2 729.6L89.2 727.2L91.2 725.4L93.2 723.5L95.2 721.7L97.2 719.9L99.2 718.3L101.2 716.9L103.2 715.7L105.2 714.4L109.2 712.1L113.2 709.9L117.2 707.8L121.2 705.8L125.2 704.0L129.2 702.3L133.2 700.7L137.2 699.2L141.2 697.7L145.2 696.2L149.2 694.8L153.2 693.4L161.2 690.9L169.2 688.8L177.2 686.8L185.2 684.9L193.2 683.0L201.2 681.0L209.2 679.4L217.2 678.2L225.2 677.0L233.2 675.8L241.2 674.5L257.2 672.0L273.2 669.5L289.2 667.0L305.2 664.7L321.2 662.3L337.2 660.0L353.2 657.7L369.2 655.4L385.2 653.3L401.2 651.2L417.2 649.2L433.2 647.4L449.2 645.7L465.2 644.1L481.2 642.6L497.2 641.2L513.2 640.1L657.7 640.1 L657.7 751 L29.2 751Z" fill="#1f28b0"/><path d="M29.2 751.0L77.2 751.0L79.2 748.0L81.2 742.8L83.2 738.0L85.2 733.6L87.2 730.0L89.2 727.6L91.2 725.7L93.2 723.8L95.2 722.0L97.2 720.3L99.2 718.7L101.2 717.3L103.2 716.1L105.2 714.8L109.2 712.5L113.2 710.3L117.2 708.3L121.2 706.3L125.2 704.5L129.2 702.8L133.2 701.2L137.2 699.7L141.2 698.3L145.2 696.8L149.2 695.4L153.2 694.0L161.2 691.5L169.2 689.4L177.2 687.5L185.2 685.6L193.2 683.8L201.2 681.8L209.2 680.3L217.2 679.1L225.2 677.8L233.2 676.6L241.2 675.3L257.2 672.8L273.2 670.3L289.2 667.9L305.2 665.5L321.2 663.1L337.2 660.8L353.2 658.5L369.2 656.3L385.2 654.1L401.2 652.0L417.2 650.0L433.2 648.2L449.2 646.5L465.2 645.0L481.2 643.5L497.2 642.0L513.2 640.7L529.2 640.1L657.7 640.1 L657.7 751 L29.2 751Z" fill="#202bb6"/><path d="M29.2 751.0L77.2 751.0L79.2 748.4L81.2 743.1L83.2 738.4L85.2 734.0L87.2 730.3L89.2 727.9L91.2 726.1L93.2 724.2L95.2 722.4L97.2 720.7L99.2 719.1L101.2 717.7L103.2 716.5L105.2 715.3L109.2 712.9L113.2 710.8L117.2 708.7L121.2 706.8L125.2 705.0L129.2 703.3L133.2 701.7L137.2 700.3L141.2 698.8L145.2 697.4L149.2 696.0L153.2 694.6L161.2 692.2L169.2 690.1L177.2 688.2L185.2 686.4L193.2 684.5L201.2 682.6L209.2 681.1L217.2 679.9L225.2 678.6L233.2 677.4L241.2 676.1L257.2 673.6L273.2 671.1L289.2 668.7L305.2 666.3L321.2 663.9L337.2 661.6L353.2 659.3L369.2 657.1L385.2 654.9L401.2 652.8L417.2 650.8L433.2 649.0L449.2 647.3L465.2 645.8L481.2 644.3L497.2 642.9L513.2 641.5L529.2 640.2L545.2 640.1L657.7 640.1 L657.7 751 L29.2 751Z" fill="#212ebc"/><path d="M29.2 751.0L77.2 751.0L79.2 748.7L81.2 743.5L83.2 738.7L85.2 734.3L87.2 730.7L89.2 728.3L91.2 726.4L93.2 724.6L95.2 722.8L97.2 721.1L99.2 719.5L101.2 718.1L103.2 716.9L105.2 715.7L109.2 713.4L113.2 711.2L117.2 709.2L121.2 707.3L125.2 705.5L129.2 703.8L133.2 702.3L137.2 700.8L141.2 699.4L145.2 697.9L149.2 696.6L153.2 695.2L161.2 692.8L169.2 690.8L177.2 688.9L185.2 687.1L193.2 685.3L201.2 683.5L209.2 681.9L217.2 680.7L225.2 679.5L233.2 678.2L241.2 677.0L257.2 674.5L273.2 672.0L289.2 669.5L305.2 667.1L321.2 664.8L337.2 662.4L353.2 660.1L369.2 657.9L385.2 655.7L401.2 653.6L417.2 651.6L433.2 649.8L449.2 648.2L465.2 646.6L481.2 645.1L497.2 643.7L513.2 642.3L529.2 641.0L545.2 640.1L657.7 640.1 L657.7 751 L29.2 751Z" fill="#2131c2"/><path d="M29.2 751.0L77.2 751.0L79.2 749.1L81.2 743.8L83.2 739.1L85.2 734.7L87.2 731.0L89.2 728.6L91.2 726.8L93.2 724.9L95.2 723.1L97.2 721.4L99.2 719.9L101.2 718.5L103.2 717.3L105.2 716.1L109.2 713.8L113.2 711.7L117.2 709.6L121.2 707.7L125.2 706.0L129.2 704.3L133.2 702.8L137.2 701.3L141.2 699.9L145.2 698.5L149.2 697.1L153.2 695.8L161.2 693.5L169.2 691.5L177.2 689.6L185.2 687.8L193.2 686.1L201.2 684.3L209.2 682.7L217.2 681.5L225.2 680.3L233.2 679.0L241.2 677.8L257.2 675.3L273.2 672.8L289.2 670.3L305.2 667.9L321.2 665.6L337.2 663.3L353.2 661.0L369.2 658.7L385.2 656.5L401.2 654.4L417.2 652.5L433.2 650.6L449.2 649.0L465.2 647.4L481.2 645.9L497.2 644.5L513.2 643.1L529.2 641.8L545.2 640.6L561.2 640.1L657.7 640.1 L657.7 751 L29.2 751Z" fill="#2234c8"/><path d="M29.2 751.0L77.2 751.0L79.2 749.4L81.2 744.2L83.2 739.4L85.2 735.0L87.2 731.4L89.2 729.0L91.2 727.1L93.2 725.3L95.2 723.5L97.2 721.8L99.2 720.3L101.2 718.9L103.2 717.7L105.2 716.5L109.2 714.2L113.2 712.1L117.2 710.1L121.2 708.2L125.2 706.4L129.2 704.8L133.2 703.3L137.2 701.9L141.2 700.5L145.2 699.1L149.2 697.7L153.2 696.4L161.2 694.1L169.2 692.1L177.2 690.3L185.2 688.6L193.2 686.8L201.2 685.1L209.2 683.5L217.2 682.3L225.2 681.1L233.2 679.9L241.2 678.6L257.2 676.1L273.2 673.6L289.2 671.1L305.2 668.8L321.2 666.4L337.2 664.1L353.2 661.8L369.2 659.5L385.2 657.4L401.2 655.3L417.2 653.3L433.2 651.5L449.2 649.8L465.2 648.2L481.2 646.7L497.2 645.3L513.2 644.0L529.2 642.6L545.2 641.4L561.2 640.2L577.2 640.1L657.7 640.1 L657.7 751 L29.2 751Z" fill="#243ad0"/><path d="M29.2 751.0L77.2 751.0L79.2 749.8L81.2 744.5L83.2 739.8L85.2 735.4L87.2 731.7L89.2 729.3L91.2 727.5L93.2 725.7L95.2 723.9L97.2 722.2L99.2 720.7L101.2 719.3L103.2 718.1L105.2 716.9L109.2 714.6L113.2 712.5L117.2 710.6L121.2 708.7L125.2 706.9L129.2 705.3L133.2 703.9L137.2 702.4L141.2 701.0L145.2 699.7L149.2 698.3L153.2 697.0L161.2 694.8L169.2 692.8L177.2 691.0L185.2 689.3L193.2 687.6L201.2 685.9L209.2 684.4L217.2 683.2L225.2 681.9L233.2 680.7L241.2 679.4L257.2 676.9L273.2 674.4L289.2 672.0L305.2 669.6L321.2 667.2L337.2 664.9L353.2 662.6L369.2 660.4L385.2 658.2L401.2 656.1L417.2 654.1L433.2 652.3L449.2 650.6L465.2 649.1L481.2 647.6L497.2 646.1L513.2 644.8L529.2 643.5L545.2 642.2L561.2 641.0L577.2 640.1L657.7 640.1 L657.7 751 L29.2 751Z" fill="#253fd8"/><path d="M29.2 751.0L77.2 751.0L79.2 750.1L81.2 744.9L83.2 740.1L85.2 735.7L87.2 732.1L89.2 729.7L91.2 727.8L93.2 726.0L95.2 724.3L97.2 722.6L99.2 721.0L101.2 719.7L103.2 718.5L105.2 717.3L109.2 715.1L113.2 713.0L117.2 711.0L121.2 709.2L125.2 707.4L129.2 705.9L133.2 704.4L137.2 703.0L141.2 701.6L145.2 700.2L149.2 698.9L153.2 697.7L161.2 695.4L169.2 693.5L177.2 691.7L185.2 690.0L193.2 688.4L201.2 686.7L209.2 685.2L217.2 684.0L225.2 682.7L233.2 681.5L241.2 680.2L257.2 677.7L273.2 675.2L289.2 672.8L305.2 670.4L321.2 668.0L337.2 665.7L353.2 663.4L369.2 661.2L385.2 659.0L401.2 656.9L417.2 654.9L433.2 653.1L449.2 651.4L465.2 649.9L481.2 648.4L497.2 647.0L513.2 645.6L529.2 644.3L545.2 643.0L561.2 641.8L577.2 640.7L593.2 640.1L657.7 640.1 L657.7 751 L29.2 751Z" fill="#2745e0"/><path d="M29.2 751.0L77.2 751.0L79.2 750.5L81.2 745.2L83.2 740.5L85.2 736.1L87.2 732.4L89.2 730.0L91.2 728.2L93.2 726.4L95.2 724.6L97.2 723.0L99.2 721.4L101.2 720.1L103.2 718.9L105.2 717.7L109.2 715.5L113.2 713.4L117.2 711.5L121.2 709.6L125.2 707.9L129.2 706.4L133.2 704.9L137.2 703.5L141.2 702.2L145.2 700.8L149.2 699.5L153.2 698.3L161.2 696.0L169.2 694.2L177.2 692.4L185.2 690.8L193.2 689.2L201.2 687.5L209.2 686.0L217.2 684.8L225.2 683.6L233.2 682.3L241.2 681.1L257.2 678.6L273.2 676.1L289.2 673.6L305.2 671.2L321.2 668.9L337.2 666.5L353.2 664.2L369.2 662.0L385.2 659.8L401.2 657.7L417.2 655.7L433.2 653.9L449.2 652.3L465.2 650.7L481.2 649.2L497.2 647.8L513.2 646.4L529.2 645.1L545.2 643.9L561.2 642.7L577.2 641.5L593.2 640.5L609.2 640.1L657.7 640.1 L657.7 751 L29.2 751Z" fill="#284ae8"/><path d="M29.2 751.0L77.2 751.0L79.2 750.8L81.2 745.6L83.2 740.8L85.2 736.4L87.2 732.8L89.2 730.4L91.2 728.5L93.2 726.7L95.2 725.0L97.2 723.3L99.2 721.8L101.2 720.5L103.2 719.3L105.2 718.1L109.2 715.9L113.2 713.9L117.2 711.9L121.2 710.1L125.2 708.4L129.2 706.9L133.2 705.4L137.2 704.1L141.2 702.7L145.2 701.4L149.2 700.1L153.2 698.9L161.2 696.7L169.2 694.8L177.2 693.1L185.2 691.5L193.2 689.9L201.2 688.3L209.2 686.8L217.2 685.6L225.2 684.4L233.2 683.1L241.2 681.9L257.2 679.4L273.2 676.9L289.2 674.4L305.2 672.0L321.2 669.7L337.2 667.4L353.2 665.1L369.2 662.8L385.2 660.6L401.2 658.5L417.2 656.6L433.2 654.7L449.2 653.1L465.2 651.5L481.2 650.0L497.2 648.6L513.2 647.2L529.2 645.9L545.2 644.7L561.2 643.5L577.2 642.3L593.2 641.3L609.2 640.3L625.2 640.1L657.7 640.1 L657.7 751 L29.2 751Z" fill="#2a50f0"/><path d="M29.2 751.0L79.2 751.0L81.2 745.9L83.2 741.2L85.2 736.8L87.2 733.1L89.2 730.7L91.2 728.9L93.2 727.1L95.2 725.4L97.2 723.7L99.2 722.2L101.2 720.9L103.2 719.7L105.2 718.5L109.2 716.4L113.2 714.3L117.2 712.4L121.2 710.6L125.2 708.9L129.2 707.4L133.2 706.0L137.2 704.6L141.2 703.3L145.2 702.0L149.2 700.7L153.2 699.5L161.2 697.3L169.2 695.5L177.2 693.8L185.2 692.3L193.2 690.7L201.2 689.1L209.2 687.6L217.2 686.4L225.2 685.2L233.2 684.0L241.2 682.7L257.2 680.2L273.2 677.7L289.2 675.2L305.2 672.9L321.2 670.5L337.2 668.2L353.2 665.9L369.2 663.6L385.2 661.5L401.2 659.4L417.2 657.4L433.2 655.6L449.2 653.9L465.2 652.3L481.2 650.8L497.2 649.4L513.2 648.1L529.2 646.7L545.2 645.5L561.2 644.3L577.2 643.2L593.2 642.1L609.2 641.1L625.2 640.1L657.7 640.1 L657.7 751 L29.2 751Z" fill="#2b59f2"/><path d="M29.2 751.0L79.2 751.0L81.2 746.3L83.2 741.5L85.2 737.1L87.2 733.5L89.2 731.1L91.2 729.3L93.2 727.5L95.2 725.7L97.2 724.1L99.2 722.6L101.2 721.3L103.2 720.1L105.2 719.0L109.2 716.8L113.2 714.8L117.2 712.9L121.2 711.1L125.2 709.4L129.2 707.9L133.2 706.5L137.2 705.1L141.2 703.8L145.2 702.5L149.2 701.3L153.2 700.1L161.2 698.0L169.2 696.2L177.2 694.6L185.2 693.0L193.2 691.5L201.2 689.9L209.2 688.5L217.2 687.3L225.2 686.0L233.2 684.8L241.2 683.5L257.2 681.0L273.2 678.5L289.2 676.1L305.2 673.7L321.2 671.3L337.2 669.0L353.2 666.7L369.2 664.5L385.2 662.3L401.2 660.2L417.2 658.2L433.2 656.4L449.2 654.7L465.2 653.2L481.2 651.7L497.2 650.2L513.2 648.9L529.2 647.6L545.2 646.3L561.2 645.1L577.2 644.0L593.2 642.9L609.2 641.9L625.2 640.9L641.2 640.1L657.7 640.1 L657.7 751 L29.2 751Z" fill="#2c62f3"/><path d="M29.2 751.0L79.2 751.0L81.2 746.6L83.2 741.9L85.2 737.5L87.2 733.8L89.2 731.4L91.2 729.6L93.2 727.8L95.2 726.1L97.2 724.5L99.2 723.0L101.2 721.7L103.2 720.5L105.2 719.4L109.2 717.2L113.2 715.2L117.2 713.3L121.2 711.6L125.2 709.9L129.2 708.4L133.2 707.0L137.2 705.7L141.2 704.4L145.2 703.1L149.2 701.9L153.2 700.7L161.2 698.6L169.2 696.9L177.2 695.3L185.2 693.7L193.2 692.2L201.2 690.7L209.2 689.3L217.2 688.1L225.2 686.8L233.2 685.6L241.2 684.3L257.2 681.8L273.2 679.3L289.2 676.9L305.2 674.5L321.2 672.1L337.2 669.8L353.2 667.5L369.2 665.3L385.2 663.1L401.2 661.0L417.2 659.0L433.2 657.2L449.2 655.5L465.2 654.0L481.2 652.5L497.2 651.1L513.2 649.7L529.2 648.4L545.2 647.1L561.2 645.9L577.2 644.8L593.2 643.7L609.2 642.7L625.2 641.7L641.2 640.7L657.2 640.1L657.7 640.1 L657.7 751 L29.2 751Z" fill="#2c6af5"/><path d="M29.2 751.0L79.2 751.0L81.2 747.0L83.2 742.2L85.2 737.8L87.2 734.2L89.2 731.8L91.2 730.0L93.2 728.2L95.2 726.5L97.2 724.9L99.2 723.4L101.2 722.1L103.2 720.9L105.2 719.8L109.2 717.6L113.2 715.7L117.2 713.8L121.2 712.0L125.2 710.4L129.2 708.9L133.2 707.5L137.2 706.2L141.2 705.0L145.2 703.7L149.2 702.5L153.2 701.3L161.2 699.2L169.2 697.5L177.2 696.0L185.2 694.5L193.2 693.0L201.2 691.5L209.2 690.1L217.2 688.9L225.2 687.7L233.2 686.4L241.2 685.2L257.2 682.7L273.2 680.2L289.2 677.7L305.2 675.3L321.2 673.0L337.2 670.6L353.2 668.3L369.2 666.1L385.2 663.9L401.2 661.8L417.2 659.8L433.2 658.0L449.2 656.4L465.2 654.8L481.2 653.3L497.2 651.9L513.2 650.5L529.2 649.2L545.2 648.0L561.2 646.8L577.2 645.6L593.2 644.6L609.2 643.5L625.2 642.5L641.2 641.5L657.2 640.5L657.7 640.5 L657.7 751 L29.2 751Z" fill="#2d73f6"/><path d="M29.2 751.0L79.2 751.0L81.2 747.3L83.2 742.6L85.2 738.2L87.2 734.5L89.2 732.1L91.2 730.3L93.2 728.6L95.2 726.8L97.2 725.2L99.2 723.8L101.2 722.5L103.2 721.3L105.2 720.2L109.2 718.1L113.2 716.1L117.2 714.3L121.2 712.5L125.2 710.9L129.2 709.4L133.2 708.1L137.2 706.8L141.2 705.5L145.2 704.3L149.2 703.1L153.2 701.9L161.2 699.9L169.2 698.2L177.2 696.7L185.2 695.2L193.2 693.8L201.2 692.3L209.2 690.9L217.2 689.7L225.2 688.5L233.2 687.2L241.2 686.0L257.2 683.5L273.2 681.0L289.2 678.5L305.2 676.1L321.2 673.8L337.2 671.5L353.2 669.2L369.2 666.9L385.2 664.7L401.2 662.6L417.2 660.7L433.2 658.8L449.2 657.2L465.2 655.6L481.2 654.1L497.2 652.7L513.2 651.3L529.2 650.0L545.2 648.8L561.2 647.6L577.2 646.4L593.2 645.4L609.2 644.4L625.2 643.4L641.2 642.4L657.2 641.3L657.7 641.3 L657.7 751 L29.2 751Z" fill="#2e7cf8"/><path d="M29.2 751.0L79.2 751.0L81.2 747.7L83.2 742.9L85.2 738.5L87.2 734.9L89.2 732.5L91.2 730.7L93.2 728.9L95.2 727.2L97.2 725.6L99.2 724.2L101.2 722.9L103.2 721.7L105.2 720.6L109.2 718.5L113.2 716.5L117.2 714.7L121.2 713.0L125.2 711.4L129.2 709.9L133.2 708.6L137.2 707.3L141.2 706.1L145.2 704.9L149.2 703.7L153.2 702.5L161.2 700.5L169.2 698.9L177.2 697.4L185.2 696.0L193.2 694.6L201.2 693.1L209.2 691.7L217.2 690.5L225.2 689.3L233.2 688.1L241.2 686.8L257.2 684.3L273.2 681.8L289.2 679.3L305.2 677.0L321.2 674.6L337.2 672.3L353.2 670.0L369.2 667.7L385.2 665.6L401.2 663.5L417.2 661.5L433.2 659.7L449.2 658.0L465.2 656.4L481.2 654.9L497.2 653.5L513.2 652.2L529.2 650.8L545.2 649.6L561.2 648.4L577.2 647.3L593.2 646.2L609.2 645.2L625.2 644.2L641.2 643.2L657.2 642.2L657.7 642.1 L657.7 751 L29.2 751Z" fill="#2f88f7"/><path d="M29.2 751.0L79.2 751.0L81.2 748.0L83.2 743.3L85.2 738.9L87.2 735.2L89.2 732.8L91.2 731.0L93.2 729.3L95.2 727.6L97.2 726.0L99.2 724.5L101.2 723.3L103.2 722.1L105.2 721.0L109.2 718.9L113.2 717.0L117.2 715.2L121.2 713.5L125.2 711.9L129.2 710.4L133.2 709.1L137.2 707.9L141.2 706.6L145.2 705.4L149.2 704.3L153.2 703.1L161.2 701.2L169.2 699.5L177.2 698.1L185.2 696.7L193.2 695.3L201.2 693.9L209.2 692.6L217.2 691.4L225.2 690.1L233.2 688.9L241.2 687.6L257.2 685.1L273.2 682.6L289.2 680.2L305.2 677.8L321.2 675.4L337.2 673.1L353.2 670.8L369.2 668.6L385.2 666.4L401.2 664.3L417.2 662.3L433.2 660.5L449.2 658.8L465.2 657.3L481.2 655.8L497.2 654.3L513.2 653.0L529.2 651.7L545.2 650.4L561.2 649.2L577.2 648.1L593.2 647.0L609.2 646.0L625.2 645.0L641.2 644.0L657.2 643.0L657.7 642.9 L657.7 751 L29.2 751Z" fill="#3094f6"/><path d="M29.2 751.0L79.2 751.0L81.2 748.4L83.2 743.6L85.2 739.2L87.2 735.6L89.2 733.2L91.2 731.4L93.2 729.7L95.2 728.0L97.2 726.4L99.2 724.9L101.2 723.7L103.2 722.5L105.2 721.4L109.2 719.4L113.2 717.4L117.2 715.6L121.2 713.9L125.2 712.4L129.2 711.0L133.2 709.6L137.2 708.4L141.2 707.2L145.2 706.0L149.2 704.8L153.2 703.7L161.2 701.8L169.2 700.2L177.2 698.8L185.2 697.4L193.2 696.1L201.2 694.7L209.2 693.4L217.2 692.2L225.2 690.9L233.2 689.7L241.2 688.4L257.2 685.9L273.2 683.4L289.2 681.0L305.2 678.6L321.2 676.2L337.2 673.9L353.2 671.6L369.2 669.4L385.2 667.2L401.2 665.1L417.2 663.1L433.2 661.3L449.2 659.6L465.2 658.1L481.2 656.6L497.2 655.2L513.2 653.8L529.2 652.5L545.2 651.2L561.2 650.0L577.2 648.9L593.2 647.8L609.2 646.8L625.2 645.8L641.2 644.8L657.2 643.8L657.7 643.8 L657.7 751 L29.2 751Z" fill="#32a0f6"/><path d="M29.2 751.0L79.2 751.0L81.2 748.7L83.2 744.0L85.2 739.6L87.2 735.9L89.2 733.5L91.2 731.7L93.2 730.0L95.2 728.3L97.2 726.8L99.2 725.3L101.2 724.1L103.2 722.9L105.2 721.8L109.2 719.8L113.2 717.9L117.2 716.1L121.2 714.4L125.2 712.9L129.2 711.5L133.2 710.2L137.2 708.9L141.2 707.8L145.2 706.6L149.2 705.4L153.2 704.3L161.2 702.4L169.2 700.9L177.2 699.5L185.2 698.2L193.2 696.9L201.2 695.5L209.2 694.2L217.2 693.0L225.2 691.8L233.2 690.5L241.2 689.3L257.2 686.8L273.2 684.3L289.2 681.8L305.2 679.4L321.2 677.1L337.2 674.7L353.2 672.4L369.2 670.2L385.2 668.0L401.2 665.9L417.2 663.9L433.2 662.1L449.2 660.5L465.2 658.9L481.2 657.4L497.2 656.0L513.2 654.6L529.2 653.3L545.2 652.1L561.2 650.9L577.2 649.7L593.2 648.7L609.2 647.6L625.2 646.6L641.2 645.6L657.2 644.6L657.7 644.6 L657.7 751 L29.2 751Z" fill="#33acf5"/><path d="M29.2 751.0L79.2 751.0L81.2 749.1L83.2 744.3L85.2 739.9L87.2 736.3L89.2 733.9L91.2 732.1L93.2 730.4L95.2 728.7L97.2 727.1L99.2 725.7L101.2 724.5L103.2 723.3L105.2 722.3L109.2 720.2L113.2 718.3L117.2 716.6L121.2 714.9L125.2 713.4L129.2 712.0L133.2 710.7L137.2 709.5L141.2 708.3L145.2 707.2L149.2 706.0L153.2 705.0L161.2 703.1L169.2 701.6L177.2 700.2L185.2 698.9L193.2 697.6L201.2 696.3L209.2 695.0L217.2 693.8L225.2 692.6L233.2 691.3L241.2 690.1L257.2 687.6L273.2 685.1L289.2 682.6L305.2 680.2L321.2 677.9L337.2 675.6L353.2 673.3L369.2 671.0L385.2 668.8L401.2 666.7L417.2 664.8L433.2 662.9L449.2 661.3L465.2 659.7L481.2 658.2L497.2 656.8L513.2 655.4L529.2 654.1L545.2 652.9L561.2 651.7L577.2 650.5L593.2 649.5L609.2 648.5L625.2 647.5L641.2 646.5L657.2 645.4L657.7 645.4 L657.7 751 L29.2 751Z" fill="#34b8f4"/><path d="M29.2 751.0L79.2 751.0L81.2 749.4L83.2 744.7L85.2 740.3L87.2 736.6L89.2 734.2L91.2 732.5L93.2 730.7L95.2 729.1L97.2 727.5L99.2 726.1L101.2 724.9L103.2 723.7L105.2 722.7L109.2 720.6L113.2 718.8L117.2 717.0L121.2 715.4L125.2 713.9L129.2 712.5L133.2 711.2L137.2 710.0L141.2 708.9L145.2 707.7L149.2 706.6L153.2 705.6L161.2 703.7L169.2 702.2L177.2 700.9L185.2 699.7L193.2 698.4L201.2 697.1L209.2 695.8L217.2 694.6L225.2 693.4L233.2 692.2L241.2 690.9L257.2 688.4L273.2 685.9L289.2 683.4L305.2 681.1L321.2 678.7L337.2 676.4L353.2 674.1L369.2 671.8L385.2 669.7L401.2 667.6L417.2 665.6L433.2 663.8L449.2 662.1L465.2 660.5L481.2 659.0L497.2 657.6L513.2 656.3L529.2 654.9L545.2 653.7L561.2 652.5L577.2 651.4L593.2 650.3L609.2 649.3L625.2 648.3L641.2 647.3L657.2 646.3L657.7 646.2 L657.7 751 L29.2 751Z" fill="#36c3f2"/><path d="M29.2 751.0L79.2 751.0L81.2 749.8L83.2 745.0L85.2 740.6L87.2 737.0L89.2 734.6L91.2 732.8L93.2 731.1L95.2 729.4L97.2 727.9L99.2 726.5L101.2 725.3L103.2 724.1L105.2 723.1L109.2 721.1L113.2 719.2L117.2 717.5L121.2 715.8L125.2 714.3L129.2 713.0L133.2 711.8L137.2 710.6L141.2 709.4L145.2 708.3L149.2 707.2L153.2 706.2L161.2 704.4L169.2 702.9L177.2 701.6L185.2 700.4L193.2 699.2L201.2 697.9L209.2 696.7L217.2 695.5L225.2 694.2L233.2 693.0L241.2 691.7L257.2 689.2L273.2 686.7L289.2 684.3L305.2 681.9L321.2 679.5L337.2 677.2L353.2 674.9L369.2 672.7L385.2 670.5L401.2 668.4L417.2 666.4L433.2 664.6L449.2 662.9L465.2 661.4L481.2 659.9L497.2 658.4L513.2 657.1L529.2 655.8L545.2 654.5L561.2 653.3L577.2 652.2L593.2 651.1L609.2 650.1L625.2 649.1L641.2 648.1L657.2 647.1L657.7 647.0 L657.7 751 L29.2 751Z" fill="#37cef1"/><path d="M29.2 751.0L79.2 751.0L81.2 750.1L83.2 745.4L85.2 741.0L87.2 737.3L89.2 734.9L91.2 733.2L93.2 731.5L95.2 729.8L97.2 728.3L99.2 726.9L101.2 725.7L103.2 724.6L105.2 723.5L109.2 721.5L113.2 719.7L117.2 717.9L121.2 716.3L125.2 714.8L129.2 713.5L133.2 712.3L137.2 711.1L141.2 710.0L145.2 708.9L149.2 707.8L153.2 706.8L161.2 705.0L169.2 703.6L177.2 702.3L185.2 701.1L193.2 700.0L201.2 698.7L209.2 697.5L217.2 696.3L225.2 695.0L233.2 693.8L241.2 692.5L257.2 690.0L273.2 687.5L289.2 685.1L305.2 682.7L321.2 680.3L337.2 678.0L353.2 675.7L369.2 673.5L385.2 671.3L401.2 669.2L417.2 667.2L433.2 665.4L449.2 663.7L465.2 662.2L481.2 660.7L497.2 659.3L513.2 657.9L529.2 656.6L545.2 655.3L561.2 654.1L577.2 653.0L593.2 651.9L609.2 650.9L625.2 649.9L641.2 648.9L657.2 647.9L657.7 647.9 L657.7 751 L29.2 751Z" fill="#38d9f0"/><path d="M29.2 751.0L79.2 751.0L81.2 750.5L83.2 745.7L85.2 741.3L87.2 737.7L89.2 735.3L91.2 733.5L93.2 731.8L95.2 730.2L97.2 728.6L99.2 727.3L101.2 726.0L103.2 725.0L105.2 723.9L109.2 721.9L113.2 720.1L117.2 718.4L121.2 716.8L125.2 715.3L129.2 714.0L133.2 712.8L137.2 711.7L141.2 710.6L145.2 709.5L149.2 708.4L153.2 707.4L161.2 705.7L169.2 704.3L177.2 703.0L185.2 701.9L193.2 700.7L201.2 699.5L209.2 698.3L217.2 697.1L225.2 695.9L233.2 694.6L241.2 693.4L257.2 690.9L273.2 688.4L289.2 685.9L305.2 683.5L321.2 681.2L337.2 678.8L353.2 676.5L369.2 674.3L385.2 672.1L401.2 670.0L417.2 668.0L433.2 666.2L449.2 664.6L465.2 663.0L481.2 661.5L497.2 660.1L513.2 658.7L529.2 657.4L545.2 656.2L561.2 655.0L577.2 653.8L593.2 652.8L609.2 651.7L625.2 650.7L641.2 649.7L657.2 648.7L657.7 648.7 L657.7 751 L29.2 751Z" fill="#3ae4ee"/><path d="M29.2 751.0L79.2 751.0L81.2 750.8L83.2 746.1L85.2 741.7L87.2 738.0L89.2 735.6L91.2 733.9L93.2 732.2L95.2 730.6L97.2 729.0L99.2 727.6L101.2 726.4L103.2 725.4L105.2 724.3L109.2 722.4L113.2 720.5L117.2 718.9L121.2 717.3L125.2 715.8L129.2 714.5L133.2 713.3L137.2 712.2L141.2 711.1L145.2 710.0L149.2 709.0L153.2 708.0L161.2 706.3L169.2 704.9L177.2 703.7L185.2 702.6L193.2 701.5L201.2 700.3L209.2 699.1L217.2 697.9L225.2 696.7L233.2 695.4L241.2 694.2L257.2 691.7L273.2 689.2L289.2 686.7L305.2 684.3L321.2 682.0L337.2 679.7L353.2 677.4L369.2 675.1L385.2 672.9L401.2 670.8L417.2 668.9L433.2 667.0L449.2 665.4L465.2 663.8L481.2 662.3L497.2 660.9L513.2 659.5L529.2 658.2L545.2 657.0L561.2 655.8L577.2 654.6L593.2 653.6L609.2 652.6L625.2 651.6L641.2 650.6L657.2 649.5L657.7 649.5 L657.7 751 L29.2 751Z" fill="#4ae8df"/><path d="M29.2 751.0L81.2 751.0L83.2 746.4L85.2 742.0L87.2 738.4L89.2 736.0L91.2 734.2L93.2 732.6L95.2 730.9L97.2 729.4L99.2 728.0L101.2 726.8L103.2 725.8L105.2 724.7L109.2 722.8L113.2 721.0L117.2 719.3L121.2 717.8L125.2 716.3L129.2 715.0L133.2 713.9L137.2 712.7L141.2 711.7L145.2 710.6L149.2 709.6L153.2 708.6L161.2 706.9L169.2 705.6L177.2 704.4L185.2 703.3L193.2 702.3L201.2 701.1L209.2 699.9L217.2 698.7L225.2 697.5L233.2 696.3L241.2 695.0L257.2 692.5L273.2 690.0L289.2 687.5L305.2 685.2L321.2 682.8L337.2 680.5L353.2 678.2L369.2 675.9L385.2 673.8L401.2 671.7L417.2 669.7L433.2 667.9L449.2 666.2L465.2 664.6L481.2 663.1L497.2 661.7L513.2 660.4L529.2 659.0L545.2 657.8L561.2 656.6L577.2 655.5L593.2 654.4L609.2 653.4L625.2 652.4L641.2 651.4L657.2 650.4L657.7 650.3 L657.7 751 L29.2 751Z" fill="#5aeccf"/><path d="M29.2 751.0L81.2 751.0L83.2 746.8L85.2 742.4L87.2 738.7L89.2 736.3L91.2 734.6L93.2 732.9L95.2 731.3L97.2 729.8L99.2 728.4L101.2 727.2L103.2 726.2L105.2 725.1L109.2 723.2L113.2 721.4L117.2 719.8L121.2 718.2L125.2 716.8L129.2 715.5L133.2 714.4L137.2 713.3L141.2 712.2L145.2 711.2L149.2 710.2L153.2 709.2L161.2 707.6L169.2 706.3L177.2 705.1L185.2 704.1L193.2 703.0L201.2 702.0L209.2 700.8L217.2 699.6L225.2 698.3L233.2 697.1L241.2 695.8L257.2 693.3L273.2 690.8L289.2 688.4L305.2 686.0L321.2 683.6L337.2 681.3L353.2 679.0L369.2 676.8L385.2 674.6L401.2 672.5L417.2 670.5L433.2 668.7L449.2 667.0L465.2 665.5L481.2 664.0L497.2 662.5L513.2 661.2L529.2 659.9L545.2 658.6L561.2 657.4L577.2 656.3L593.2 655.2L609.2 654.2L625.2 653.2L641.2 652.2L657.2 651.2L657.7 651.1 L657.7 751 L29.2 751Z" fill="#6af0c0"/><path d="M29.2 751.0L81.2 751.0L83.2 747.1L85.2 742.7L87.2 739.1L89.2 736.7L91.2 734.9L93.2 733.3L95.2 731.7L97.2 730.2L99.2 728.8L101.2 727.6L103.2 726.6L105.2 725.6L109.2 723.6L113.2 721.9L117.2 720.2L121.2 718.7L125.2 717.3L129.2 716.1L133.2 714.9L137.2 713.8L141.2 712.8L145.2 711.8L149.2 710.8L153.2 709.8L161.2 708.2L169.2 707.0L177.2 705.9L185.2 704.8L193.2 703.8L201.2 702.8L209.2 701.6L217.2 700.4L225.2 699.1L233.2 697.9L241.2 696.6L257.2 694.1L273.2 691.6L289.2 689.2L305.2 686.8L321.2 684.4L337.2 682.1L353.2 679.8L369.2 677.6L385.2 675.4L401.2 673.3L417.2 671.3L433.2 669.5L449.2 667.8L465.2 666.3L481.2 664.8L497.2 663.4L513.2 662.0L529.2 660.7L545.2 659.4L561.2 658.2L577.2 657.1L593.2 656.0L609.2 655.0L625.2 654.0L641.2 653.0L657.2 652.0L657.7 652.0 L657.7 751 L29.2 751Z" fill="#7ff0a0"/><path d="M29.2 751.0L81.2 751.0L83.2 747.5L85.2 743.1L87.2 739.4L89.2 737.0L91.2 735.3L93.2 733.6L95.2 732.0L97.2 730.5L99.2 729.2L101.2 728.0L103.2 727.0L105.2 726.0L109.2 724.1L113.2 722.3L117.2 720.7L121.2 719.2L125.2 717.8L129.2 716.6L133.2 715.4L137.2 714.4L141.2 713.4L145.2 712.3L149.2 711.4L153.2 710.4L161.2 708.9L169.2 707.6L177.2 706.6L185.2 705.6L193.2 704.6L201.2 703.6L209.2 702.4L217.2 701.2L225.2 700.0L233.2 698.7L241.2 697.5L257.2 695.0L273.2 692.5L289.2 690.0L305.2 687.6L321.2 685.3L337.2 682.9L353.2 680.6L369.2 678.4L385.2 676.2L401.2 674.1L417.2 672.1L433.2 670.3L449.2 668.7L465.2 667.1L481.2 665.6L497.2 664.2L513.2 662.8L529.2 661.5L545.2 660.3L561.2 659.1L577.2 657.9L593.2 656.9L609.2 655.8L625.2 654.8L641.2 653.8L657.2 652.8L657.7 652.8 L657.7 751 L29.2 751Z" fill="#93f080"/><path d="M29.2 751.0L81.2 751.0L83.2 747.8L85.2 743.4L87.2 739.8L89.2 737.4L91.2 735.6L93.2 734.0L95.2 732.4L97.2 730.9L99.2 729.6L101.2 728.4L103.2 727.4L105.2 726.4L109.2 724.5L113.2 722.8L117.2 721.2L121.2 719.7L125.2 718.3L129.2 717.1L133.2 716.0L137.2 714.9L141.2 713.9L145.2 712.9L149.2 711.9L153.2 711.0L161.2 709.5L169.2 708.3L177.2 707.3L185.2 706.3L193.2 705.4L201.2 704.4L209.2 703.2L217.2 702.0L225.2 700.8L233.2 699.5L241.2 698.3L257.2 695.8L273.2 693.3L289.2 690.8L305.2 688.4L321.2 686.1L337.2 683.8L353.2 681.5L369.2 679.2L385.2 677.0L401.2 674.9L417.2 673.0L433.2 671.1L449.2 669.5L465.2 667.9L481.2 666.4L497.2 665.0L513.2 663.6L529.2 662.3L545.2 661.1L561.2 659.9L577.2 658.7L593.2 657.7L609.2 656.7L625.2 655.7L641.2 654.7L657.2 653.6L657.7 653.6 L657.7 751 L29.2 751Z" fill="#a8f060"/><path d="M29.2 751.0L81.2 751.0L83.2 748.2L85.2 743.8L87.2 740.1L89.2 737.7L91.2 736.0L93.2 734.4L95.2 732.8L97.2 731.3L99.2 730.0L101.2 728.8L103.2 727.8L105.2 726.8L109.2 724.9L113.2 723.2L117.2 721.6L121.2 720.1L125.2 718.8L129.2 717.6L133.2 716.5L137.2 715.5L141.2 714.5L145.2 713.5L149.2 712.5L153.2 711.6L161.2 710.1L169.2 709.0L177.2 708.0L185.2 707.0L193.2 706.1L201.2 705.2L209.2 704.0L217.2 702.8L225.2 701.6L233.2 700.4L241.2 699.1L257.2 696.6L273.2 694.1L289.2 691.6L305.2 689.3L321.2 686.9L337.2 684.6L353.2 682.3L369.2 680.0L385.2 677.9L401.2 675.8L417.2 673.8L433.2 672.0L449.2 670.3L465.2 668.7L481.2 667.2L497.2 665.8L513.2 664.5L529.2 663.1L545.2 661.9L561.2 660.7L577.2 659.6L593.2 658.5L609.2 657.5L625.2 656.5L641.2 655.5L657.2 654.5L657.7 654.4 L657.7 751 L29.2 751Z" fill="#b7f04d"/><path d="M29.2 751.0L81.2 751.0L83.2 748.5L85.2 744.1L87.2 740.5L89.2 738.1L91.2 736.4L93.2 734.7L95.2 733.2L97.2 731.7L99.2 730.4L101.2 729.2L103.2 728.2L105.2 727.2L109.2 725.4L113.2 723.7L117.2 722.1L121.2 720.6L125.2 719.3L129.2 718.1L133.2 717.0L137.2 716.0L141.2 715.0L145.2 714.1L149.2 713.1L153.2 712.3L161.2 710.8L169.2 709.7L177.2 708.7L185.2 707.8L193.2 706.9L201.2 706.0L209.2 704.9L217.2 703.7L225.2 702.4L233.2 701.2L241.2 699.9L257.2 697.4L273.2 694.9L289.2 692.5L305.2 690.1L321.2 687.7L337.2 685.4L353.2 683.1L369.2 680.9L385.2 678.7L401.2 676.6L417.2 674.6L433.2 672.8L449.2 671.1L465.2 669.6L481.2 668.1L497.2 666.6L513.2 665.3L529.2 664.0L545.2 662.7L561.2 661.5L577.2 660.4L593.2 659.3L609.2 658.3L625.2 657.3L641.2 656.3L657.2 655.3L657.7 655.2 L657.7 751 L29.2 751Z" fill="#c5f03b"/><path d="M29.2 751.0L81.2 751.0L83.2 748.9L85.2 744.5L87.2 740.8L89.2 738.4L91.2 736.7L93.2 735.1L95.2 733.5L97.2 732.1L99.2 730.7L101.2 729.6L103.2 728.6L105.2 727.6L109.2 725.8L113.2 724.1L117.2 722.6L121.2 721.1L125.2 719.8L129.2 718.6L133.2 717.5L137.2 716.5L141.2 715.6L145.2 714.6L149.2 713.7L153.2 712.9L161.2 711.4L169.2 710.3L177.2 709.4L185.2 708.5L193.2 707.7L201.2 706.8L209.2 705.7L217.2 704.5L225.2 703.2L233.2 702.0L241.2 700.7L257.2 698.2L273.2 695.7L289.2 693.3L305.2 690.9L321.2 688.5L337.2 686.2L353.2 683.9L369.2 681.7L385.2 679.5L401.2 677.4L417.2 675.4L433.2 673.6L449.2 671.9L465.2 670.4L481.2 668.9L497.2 667.5L513.2 666.1L529.2 664.8L545.2 663.5L561.2 662.3L577.2 661.2L593.2 660.1L609.2 659.1L625.2 658.1L641.2 657.1L657.2 656.1L657.7 656.1 L657.7 751 L29.2 751Z" fill="#d4f028"/><path d="M29.2 751.0L81.2 751.0L83.2 749.2L85.2 744.8L87.2 741.2L89.2 738.8L91.2 737.1L93.2 735.5L95.2 733.9L97.2 732.4L99.2 731.1L101.2 730.0L103.2 729.0L105.2 728.0L109.2 726.2L113.2 724.6L117.2 723.0L121.2 721.6L125.2 720.3L129.2 719.1L133.2 718.1L137.2 717.1L141.2 716.1L145.2 715.2L149.2 714.3L153.2 713.5L161.2 712.1L169.2 711.0L177.2 710.1L185.2 709.3L193.2 708.4L201.2 707.6L209.2 706.5L217.2 705.3L225.2 704.1L233.2 702.8L241.2 701.6L257.2 699.1L273.2 696.6L289.2 694.1L305.2 691.7L321.2 689.4L337.2 687.0L353.2 684.7L369.2 682.5L385.2 680.3L401.2 678.2L417.2 676.2L433.2 674.4L449.2 672.8L465.2 671.2L481.2 669.7L497.2 668.3L513.2 666.9L529.2 665.6L545.2 664.4L561.2 663.2L577.2 662.0L593.2 661.0L609.2 659.9L625.2 658.9L641.2 657.9L657.2 656.9L657.7 656.9 L657.7 751 L29.2 751Z" fill="#dce823"/><path d="M29.2 751.0L81.2 751.0L83.2 749.6L85.2 745.2L87.2 741.5L89.2 739.1L91.2 737.4L93.2 735.8L95.2 734.3L97.2 732.8L99.2 731.5L101.2 730.4L103.2 729.4L105.2 728.4L109.2 726.6L113.2 725.0L117.2 723.5L121.2 722.1L125.2 720.8L129.2 719.6L133.2 718.6L137.2 717.6L141.2 716.7L145.2 715.8L149.2 714.9L153.2 714.1L161.2 712.7L169.2 711.7L177.2 710.8L185.2 710.0L193.2 709.2L201.2 708.4L209.2 707.3L217.2 706.1L225.2 704.9L233.2 703.6L241.2 702.4L257.2 699.9L273.2 697.4L289.2 694.9L305.2 692.5L321.2 690.2L337.2 687.9L353.2 685.6L369.2 683.3L385.2 681.1L401.2 679.0L417.2 677.1L433.2 675.2L449.2 673.6L465.2 672.0L481.2 670.5L497.2 669.1L513.2 667.7L529.2 666.4L545.2 665.2L561.2 664.0L577.2 662.8L593.2 661.8L609.2 660.8L625.2 659.8L641.2 658.8L657.2 657.7L657.7 657.7 L657.7 751 L29.2 751Z" fill="#e4e01e"/><path d="M29.2 751.0L81.2 751.0L83.2 749.9L85.2 745.5L87.2 741.9L89.2 739.5L91.2 737.8L93.2 736.2L95.2 734.6L97.2 733.2L99.2 731.9L101.2 730.8L103.2 729.8L105.2 728.9L109.2 727.1L113.2 725.4L117.2 723.9L121.2 722.5L125.2 721.3L129.2 720.1L133.2 719.1L137.2 718.2L141.2 717.3L145.2 716.4L149.2 715.5L153.2 714.7L161.2 713.3L169.2 712.3L177.2 711.5L185.2 710.7L193.2 710.0L201.2 709.2L209.2 708.1L217.2 706.9L225.2 705.7L233.2 704.5L241.2 703.2L257.2 700.7L273.2 698.2L289.2 695.7L305.2 693.4L321.2 691.0L337.2 688.7L353.2 686.4L369.2 684.1L385.2 682.0L401.2 679.9L417.2 677.9L433.2 676.1L449.2 674.4L465.2 672.8L481.2 671.3L497.2 669.9L513.2 668.6L529.2 667.2L545.2 666.0L561.2 664.8L577.2 663.7L593.2 662.6L609.2 661.6L625.2 660.6L641.2 659.6L657.2 658.6L657.7 658.5 L657.7 751 L29.2 751Z" fill="#ecd819"/><path d="M29.2 751.0L81.2 751.0L83.2 750.3L85.2 745.9L87.2 742.2L89.2 739.8L91.2 738.1L93.2 736.5L95.2 735.0L97.2 733.6L99.2 732.3L101.2 731.2L103.2 730.2L105.2 729.3L109.2 727.5L113.2 725.9L117.2 724.4L121.2 723.0L125.2 721.8L129.2 720.6L133.2 719.6L137.2 718.7L141.2 717.8L145.2 716.9L149.2 716.1L153.2 715.3L161.2 714.0L169.2 713.0L177.2 712.2L185.2 711.5L193.2 710.8L201.2 710.0L209.2 709.0L217.2 707.8L225.2 706.5L233.2 705.3L241.2 704.0L257.2 701.5L273.2 699.0L289.2 696.6L305.2 694.2L321.2 691.8L337.2 689.5L353.2 687.2L369.2 685.0L385.2 682.8L401.2 680.7L417.2 678.7L433.2 676.9L449.2 675.2L465.2 673.7L481.2 672.2L497.2 670.7L513.2 669.4L529.2 668.1L545.2 666.8L561.2 665.6L577.2 664.5L593.2 663.4L609.2 662.4L625.2 661.4L641.2 660.4L657.2 659.4L657.7 659.3 L657.7 751 L29.2 751Z" fill="#f4d014"/><path d="M29.2 751.0L81.2 751.0L83.2 750.6L85.2 746.2L87.2 742.6L89.2 740.2L91.2 738.5L93.2 736.9L95.2 735.4L97.2 734.0L99.2 732.7L101.2 731.6L103.2 730.6L105.2 729.7L109.2 727.9L113.2 726.3L117.2 724.9L121.2 723.5L125.2 722.3L129.2 721.2L133.2 720.2L137.2 719.3L141.2 718.4L145.2 717.5L149.2 716.7L153.2 715.9L161.2 714.6L169.2 713.7L177.2 712.9L185.2 712.2L193.2 711.5L201.2 710.8L209.2 709.8L217.2 708.6L225.2 707.3L233.2 706.1L241.2 704.8L257.2 702.3L273.2 699.8L289.2 697.4L305.2 695.0L321.2 692.6L337.2 690.3L353.2 688.0L369.2 685.8L385.2 683.6L401.2 681.5L417.2 679.5L433.2 677.7L449.2 676.0L465.2 674.5L481.2 673.0L497.2 671.6L513.2 670.2L529.2 668.9L545.2 667.6L561.2 666.4L577.2 665.3L593.2 664.2L609.2 663.2L625.2 662.2L641.2 661.2L657.2 660.2L657.7 660.2 L657.7 751 L29.2 751Z" fill="#f5c414"/><path d="M29.2 751.0L81.2 751.0L83.2 751.0L85.2 746.6L87.2 742.9L89.2 740.5L91.2 738.8L93.2 737.3L95.2 735.8L97.2 734.3L99.2 733.1L101.2 732.0L103.2 731.0L105.2 730.1L109.2 728.4L113.2 726.8L117.2 725.3L121.2 724.0L125.2 722.7L129.2 721.7L133.2 720.7L137.2 719.8L141.2 718.9L145.2 718.1L149.2 717.3L153.2 716.5L161.2 715.3L169.2 714.4L177.2 713.6L185.2 713.0L193.2 712.3L201.2 711.6L209.2 710.6L217.2 709.4L225.2 708.2L233.2 706.9L241.2 705.7L257.2 703.2L273.2 700.7L289.2 698.2L305.2 695.8L321.2 693.5L337.2 691.1L353.2 688.8L369.2 686.6L385.2 684.4L401.2 682.3L417.2 680.3L433.2 678.5L449.2 676.9L465.2 675.3L481.2 673.8L497.2 672.4L513.2 671.0L529.2 669.7L545.2 668.5L561.2 667.3L577.2 666.1L593.2 665.1L609.2 664.0L625.2 663.0L641.2 662.0L657.2 661.0L657.7 661.0 L657.7 751 L29.2 751Z" fill="#f6b813"/><path d="M29.2 751.0L83.2 751.0L85.2 746.9L87.2 743.3L89.2 740.9L91.2 739.2L93.2 737.6L95.2 736.1L97.2 734.7L99.2 733.5L101.2 732.4L103.2 731.4L105.2 730.5L109.2 728.8L113.2 727.2L117.2 725.8L121.2 724.4L125.2 723.2L129.2 722.2L133.2 721.2L137.2 720.3L141.2 719.5L145.2 718.7L149.2 717.9L153.2 717.1L161.2 715.9L169.2 715.0L177.2 714.3L185.2 713.7L193.2 713.1L201.2 712.4L209.2 711.4L217.2 710.2L225.2 709.0L233.2 707.7L241.2 706.5L257.2 704.0L273.2 701.5L289.2 699.0L305.2 696.6L321.2 694.3L337.2 692.0L353.2 689.7L369.2 687.4L385.2 685.2L401.2 683.1L417.2 681.2L433.2 679.3L449.2 677.7L465.2 676.1L481.2 674.6L497.2 673.2L513.2 671.8L529.2 670.5L545.2 669.3L561.2 668.1L577.2 666.9L593.2 665.9L609.2 664.9L625.2 663.9L641.2 662.9L657.2 661.8L657.7 661.8 L657.7 751 L29.2 751Z" fill="#f7ac12"/><path d="M29.2 751.0L83.2 751.0L85.2 747.3L87.2 743.6L89.2 741.2L91.2 739.6L93.2 738.0L95.2 736.5L97.2 735.1L99.2 733.8L101.2 732.8L103.2 731.8L105.2 730.9L109.2 729.2L113.2 727.7L117.2 726.2L121.2 724.9L125.2 723.7L129.2 722.7L133.2 721.8L137.2 720.9L141.2 720.1L145.2 719.2L149.2 718.5L153.2 717.7L161.2 716.5L169.2 715.7L177.2 715.0L185.2 714.4L193.2 713.9L201.2 713.2L209.2 712.2L217.2 711.0L225.2 709.8L233.2 708.6L241.2 707.3L257.2 704.8L273.2 702.3L289.2 699.8L305.2 697.5L321.2 695.1L337.2 692.8L353.2 690.5L369.2 688.2L385.2 686.1L401.2 684.0L417.2 682.0L433.2 680.2L449.2 678.5L465.2 676.9L481.2 675.4L497.2 674.0L513.2 672.7L529.2 671.3L545.2 670.1L561.2 668.9L577.2 667.8L593.2 666.7L609.2 665.7L625.2 664.7L641.2 663.7L657.2 662.7L657.7 662.6 L657.7 751 L29.2 751Z" fill="#f8a012"/><path d="M29.2 751.0L83.2 751.0L85.2 747.6L87.2 744.0L89.2 741.6L91.2 739.9L93.2 738.4L95.2 736.9L97.2 735.5L99.2 734.2L101.2 733.2L103.2 732.2L105.2 731.3L109.2 729.6L113.2 728.1L117.2 726.7L121.2 725.4L125.2 724.2L129.2 723.2L133.2 722.3L137.2 721.4L141.2 720.6L145.2 719.8L149.2 719.0L153.2 718.3L161.2 717.2L169.2 716.4L177.2 715.7L185.2 715.2L193.2 714.6L201.2 714.0L209.2 713.1L217.2 711.9L225.2 710.6L233.2 709.4L241.2 708.1L257.2 705.6L273.2 703.1L289.2 700.7L305.2 698.3L321.2 695.9L337.2 693.6L353.2 691.3L369.2 689.1L385.2 686.9L401.2 684.8L417.2 682.8L433.2 681.0L449.2 679.3L465.2 677.8L481.2 676.3L497.2 674.8L513.2 673.5L529.2 672.2L545.2 670.9L561.2 669.7L577.2 668.6L593.2 667.5L609.2 666.5L625.2 665.5L641.2 664.5L657.2 663.5L657.7 663.4 L657.7 751 L29.2 751Z" fill="#f79412"/><path d="M29.2 751.0L83.2 751.0L85.2 748.0L87.2 744.3L89.2 741.9L91.2 740.3L93.2 738.7L95.2 737.2L97.2 735.9L99.2 734.6L101.2 733.6L103.2 732.6L105.2 731.7L109.2 730.1L113.2 728.6L117.2 727.2L121.2 725.9L125.2 724.7L129.2 723.7L133.2 722.8L137.2 722.0L141.2 721.2L145.2 720.4L149.2 719.6L153.2 718.9L161.2 717.8L169.2 717.1L177.2 716.4L185.2 715.9L193.2 715.4L201.2 714.8L209.2 713.9L217.2 712.7L225.2 711.4L233.2 710.2L241.2 708.9L257.2 706.4L273.2 703.9L289.2 701.5L305.2 699.1L321.2 696.7L337.2 694.4L353.2 692.1L369.2 689.9L385.2 687.7L401.2 685.6L417.2 683.6L433.2 681.8L449.2 680.1L465.2 678.6L481.2 677.1L497.2 675.7L513.2 674.3L529.2 673.0L545.2 671.7L561.2 670.5L577.2 669.4L593.2 668.3L609.2 667.3L625.2 666.3L641.2 665.3L657.2 664.3L657.7 664.3 L657.7 751 L29.2 751Z" fill="#f68811"/><path d="M29.2 751.0L83.2 751.0L85.2 748.3L87.2 744.7L89.2 742.3L91.2 740.6L93.2 739.1L95.2 737.6L97.2 736.2L99.2 735.0L101.2 734.0L103.2 733.0L105.2 732.1L109.2 730.5L113.2 729.0L117.2 727.6L121.2 726.4L125.2 725.2L129.2 724.2L133.2 723.3L137.2 722.5L141.2 721.7L145.2 721.0L149.2 720.2L153.2 719.6L161.2 718.5L169.2 717.7L177.2 717.2L185.2 716.7L193.2 716.2L201.2 715.6L209.2 714.7L217.2 713.5L225.2 712.3L233.2 711.0L241.2 709.8L257.2 707.3L273.2 704.8L289.2 702.3L305.2 699.9L321.2 697.6L337.2 695.2L353.2 692.9L369.2 690.7L385.2 688.5L401.2 686.4L417.2 684.4L433.2 682.6L449.2 681.0L465.2 679.4L481.2 677.9L497.2 676.5L513.2 675.1L529.2 673.8L545.2 672.6L561.2 671.4L577.2 670.2L593.2 669.2L609.2 668.1L625.2 667.1L641.2 666.1L657.2 665.1L657.7 665.1 L657.7 751 L29.2 751Z" fill="#f57c10"/><path d="M29.2 751.0L83.2 751.0L85.2 748.7L87.2 745.0L89.2 742.6L91.2 741.0L93.2 739.5L95.2 738.0L97.2 736.6L99.2 735.4L101.2 734.4L103.2 733.4L105.2 732.6L109.2 730.9L113.2 729.4L117.2 728.1L121.2 726.8L125.2 725.7L129.2 724.7L133.2 723.9L137.2 723.1L141.2 722.3L145.2 721.5L149.2 720.8L153.2 720.2L161.2 719.1L169.2 718.4L177.2 717.9L185.2 717.4L193.2 716.9L201.2 716.4L209.2 715.5L217.2 714.3L225.2 713.1L233.2 711.8L241.2 710.6L257.2 708.1L273.2 705.6L289.2 703.1L305.2 700.7L321.2 698.4L337.2 696.1L353.2 693.8L369.2 691.5L385.2 689.3L401.2 687.2L417.2 685.3L433.2 683.4L449.2 681.8L465.2 680.2L481.2 678.7L497.2 677.3L513.2 675.9L529.2 674.6L545.2 673.4L561.2 672.2L577.2 671.0L593.2 670.0L609.2 669.0L625.2 668.0L641.2 667.0L657.2 665.9L657.7 665.9 L657.7 751 L29.2 751Z" fill="#f47010"/><path d="M29.2 751.0L83.2 751.0L85.2 749.0L87.2 745.4L89.2 743.0L91.2 741.3L93.2 739.8L95.2 738.4L97.2 737.0L99.2 735.8L101.2 734.8L103.2 733.8L105.2 733.0L109.2 731.4L113.2 729.9L117.2 728.5L121.2 727.3L125.2 726.2L129.2 725.2L133.2 724.4L137.2 723.6L141.2 722.9L145.2 722.1L149.2 721.4L153.2 720.8L161.2 719.8L169.2 719.1L177.2 718.6L185.2 718.1L193.2 717.7L201.2 717.2L209.2 716.3L217.2 715.1L225.2 713.9L233.2 712.7L241.2 711.4L257.2 708.9L273.2 706.4L289.2 703.9L305.2 701.6L321.2 699.2L337.2 696.9L353.2 694.6L369.2 692.3L385.2 690.2L401.2 688.1L417.2 686.1L433.2 684.3L449.2 682.6L465.2 681.0L481.2 679.5L497.2 678.1L513.2 676.8L529.2 675.4L545.2 674.2L561.2 673.0L577.2 671.9L593.2 670.8L609.2 669.8L625.2 668.8L641.2 667.8L657.2 666.8L657.7 666.7 L657.7 751 L29.2 751Z" fill="#f1620f"/><path d="M29.2 751.0L83.2 751.0L85.2 749.4L87.2 745.7L89.2 743.3L91.2 741.7L93.2 740.2L95.2 738.7L97.2 737.4L99.2 736.2L101.2 735.2L103.2 734.2L105.2 733.4L109.2 731.8L113.2 730.3L117.2 729.0L121.2 727.8L125.2 726.7L129.2 725.8L133.2 724.9L137.2 724.1L141.2 723.4L145.2 722.7L149.2 722.0L153.2 721.4L161.2 720.4L169.2 719.8L177.2 719.3L185.2 718.9L193.2 718.5L201.2 718.0L209.2 717.2L217.2 716.0L225.2 714.7L233.2 713.5L241.2 712.2L257.2 709.7L273.2 707.2L289.2 704.8L305.2 702.4L321.2 700.0L337.2 697.7L353.2 695.4L369.2 693.2L385.2 691.0L401.2 688.9L417.2 686.9L433.2 685.1L449.2 683.4L465.2 681.9L481.2 680.4L497.2 678.9L513.2 677.6L529.2 676.3L545.2 675.0L561.2 673.8L577.2 672.7L593.2 671.6L609.2 670.6L625.2 669.6L641.2 668.6L657.2 667.6L657.7 667.5 L657.7 751 L29.2 751Z" fill="#ee550e"/><path d="M29.2 751.0L83.2 751.0L85.2 749.7L87.2 746.1L89.2 743.7L91.2 742.0L93.2 740.5L95.2 739.1L97.2 737.8L99.2 736.6L101.2 735.5L103.2 734.7L105.2 733.8L109.2 732.2L113.2 730.8L117.2 729.5L121.2 728.3L125.2 727.2L129.2 726.3L133.2 725.4L137.2 724.7L141.2 724.0L145.2 723.3L149.2 722.6L153.2 722.0L161.2 721.0L169.2 720.4L177.2 720.0L185.2 719.6L193.2 719.3L201.2 718.8L209.2 718.0L217.2 716.8L225.2 715.5L233.2 714.3L241.2 713.0L257.2 710.5L273.2 708.0L289.2 705.6L305.2 703.2L321.2 700.8L337.2 698.5L353.2 696.2L369.2 694.0L385.2 691.8L401.2 689.7L417.2 687.7L433.2 685.9L449.2 684.2L465.2 682.7L481.2 681.2L497.2 679.8L513.2 678.4L529.2 677.1L545.2 675.8L561.2 674.6L577.2 673.5L593.2 672.4L609.2 671.4L625.2 670.4L641.2 669.4L657.2 668.4L657.7 668.4 L657.7 751 L29.2 751Z" fill="#eb480d"/><path d="M29.2 751.0L83.2 751.0L85.2 750.1L87.2 746.4L89.2 744.0L91.2 742.4L93.2 740.9L95.2 739.5L97.2 738.1L99.2 736.9L101.2 735.9L103.2 735.1L105.2 734.2L109.2 732.6L113.2 731.2L117.2 729.9L121.2 728.7L125.2 727.7L129.2 726.8L133.2 726.0L137.2 725.2L141.2 724.5L145.2 723.8L149.2 723.2L153.2 722.6L161.2 721.7L169.2 721.1L177.2 720.7L185.2 720.3L193.2 720.0L201.2 719.7L209.2 718.8L217.2 717.6L225.2 716.4L233.2 715.1L241.2 713.9L257.2 711.4L273.2 708.9L289.2 706.4L305.2 704.0L321.2 701.7L337.2 699.3L353.2 697.0L369.2 694.8L385.2 692.6L401.2 690.5L417.2 688.5L433.2 686.7L449.2 685.1L465.2 683.5L481.2 682.0L497.2 680.6L513.2 679.2L529.2 677.9L545.2 676.7L561.2 675.5L577.2 674.3L593.2 673.3L609.2 672.2L625.2 671.2L641.2 670.2L657.2 669.2L657.7 669.2 L657.7 751 L29.2 751Z" fill="#e83a0c"/><path d="M29.2 751.0L83.2 751.0L85.2 750.4L87.2 746.8L89.2 744.4L91.2 742.7L93.2 741.3L95.2 739.8L97.2 738.5L99.2 737.3L101.2 736.3L103.2 735.5L105.2 734.6L109.2 733.1L113.2 731.7L117.2 730.4L121.2 729.2L125.2 728.2L129.2 727.3L133.2 726.5L137.2 725.8L141.2 725.1L145.2 724.4L149.2 723.8L153.2 723.2L161.2 722.3L169.2 721.8L177.2 721.4L185.2 721.1L193.2 720.8L201.2 720.5L209.2 719.6L217.2 718.4L225.2 717.2L233.2 715.9L241.2 714.7L257.2 712.2L273.2 709.7L289.2 707.2L305.2 704.8L321.2 702.5L337.2 700.2L353.2 697.9L369.2 695.6L385.2 693.4L401.2 691.3L417.2 689.4L433.2 687.5L449.2 685.9L465.2 684.3L481.2 682.8L497.2 681.4L513.2 680.0L529.2 678.7L545.2 677.5L561.2 676.3L577.2 675.1L593.2 674.1L609.2 673.1L625.2 672.1L641.2 671.1L657.2 670.0L657.7 670.0 L657.7 751 L29.2 751Z" fill="#e4320b"/><path d="M29.2 751.0L83.2 751.0L85.2 750.8L87.2 747.1L89.2 744.7L91.2 743.1L93.2 741.6L95.2 740.2L97.2 738.9L99.2 737.7L101.2 736.7L103.2 735.9L105.2 735.0L109.2 733.5L113.2 732.1L117.2 730.9L121.2 729.7L125.2 728.7L129.2 727.8L133.2 727.0L137.2 726.3L141.2 725.7L145.2 725.0L149.2 724.4L153.2 723.8L161.2 723.0L169.2 722.5L177.2 722.1L185.2 721.8L193.2 721.6L201.2 721.3L209.2 720.4L217.2 719.2L225.2 718.0L233.2 716.8L241.2 715.5L257.2 713.0L273.2 710.5L289.2 708.0L305.2 705.7L321.2 703.3L337.2 701.0L353.2 698.7L369.2 696.4L385.2 694.3L401.2 692.2L417.2 690.2L433.2 688.4L449.2 686.7L465.2 685.1L481.2 683.6L497.2 682.2L513.2 680.9L529.2 679.5L545.2 678.3L561.2 677.1L577.2 676.0L593.2 674.9L609.2 673.9L625.2 672.9L641.2 671.9L657.2 670.9L657.7 670.8 L657.7 751 L29.2 751Z" fill="#e02b0a"/><path d="M29.2 751.0L85.2 751.0L87.2 747.5L89.2 745.1L91.2 743.5L93.2 742.0L95.2 740.6L97.2 739.3L99.2 738.1L101.2 737.1L103.2 736.3L105.2 735.4L109.2 733.9L113.2 732.6L117.2 731.3L121.2 730.2L125.2 729.2L129.2 728.3L133.2 727.5L137.2 726.9L141.2 726.2L145.2 725.6L149.2 725.0L153.2 724.4L161.2 723.6L169.2 723.1L177.2 722.8L185.2 722.6L193.2 722.3L201.2 722.1L209.2 721.3L217.2 720.1L225.2 718.8L233.2 717.6L241.2 716.3L257.2 713.8L273.2 711.3L289.2 708.9L305.2 706.5L321.2 704.1L337.2 701.8L353.2 699.5L369.2 697.3L385.2 695.1L401.2 693.0L417.2 691.0L433.2 689.2L449.2 687.5L465.2 686.0L481.2 684.5L497.2 683.0L513.2 681.7L529.2 680.4L545.2 679.1L561.2 677.9L577.2 676.8L593.2 675.7L609.2 674.7L625.2 673.7L641.2 672.7L657.2 671.7L657.7 671.6 L657.7 751 L29.2 751Z" fill="#dc230a"/><path d="M29.2 751.0L85.2 751.0L87.2 747.8L89.2 745.4L91.2 743.8L93.2 742.4L95.2 741.0L97.2 739.7L99.2 738.5L101.2 737.5L103.2 736.7L105.2 735.9L109.2 734.4L113.2 733.0L117.2 731.8L121.2 730.7L125.2 729.7L129.2 728.8L133.2 728.1L137.2 727.4L141.2 726.8L145.2 726.1L149.2 725.6L153.2 725.0L161.2 724.2L169.2 723.8L177.2 723.5L185.2 723.3L193.2 723.1L201.2 722.9L209.2 722.1L217.2 720.9L225.2 719.6L233.2 718.4L241.2 717.1L257.2 714.6L273.2 712.1L289.2 709.7L305.2 707.3L321.2 704.9L337.2 702.6L353.2 700.3L369.2 698.1L385.2 695.9L401.2 693.8L417.2 691.8L433.2 690.0L449.2 688.3L465.2 686.8L481.2 685.3L497.2 683.9L513.2 682.5L529.2 681.2L545.2 679.9L561.2 678.7L577.2 677.6L593.2 676.5L609.2 675.5L625.2 674.5L641.2 673.5L657.2 672.5L657.7 672.5 L657.7 751 L29.2 751Z" fill="#d81c09"/><path d="M29.2 751.0L85.2 751.0L87.2 748.2L89.2 745.8L91.2 744.2L93.2 742.7L95.2 741.3L97.2 740.0L99.2 738.9L101.2 737.9L103.2 737.1L105.2 736.3L109.2 734.8L113.2 733.4L117.2 732.2L121.2 731.1L125.2 730.2L129.2 729.3L133.2 728.6L137.2 727.9L141.2 727.3L145.2 726.7L149.2 726.2L153.2 725.6L161.2 724.9L169.2 724.5L177.2 724.2L185.2 724.0L193.2 723.9L201.2 723.7L209.2 722.9L217.2 721.7L225.2 720.5L233.2 719.2L241.2 718.0L257.2 715.5L273.2 713.0L289.2 710.5L305.2 708.1L321.2 705.8L337.2 703.4L353.2 701.1L369.2 698.9L385.2 696.7L401.2 694.6L417.2 692.6L433.2 690.8L449.2 689.2L465.2 687.6L481.2 686.1L497.2 684.7L513.2 683.3L529.2 682.0L545.2 680.8L561.2 679.6L577.2 678.4L593.2 677.4L609.2 676.3L625.2 675.3L641.2 674.3L657.2 673.3L657.7 673.3 L657.7 751 L29.2 751Z" fill="#d41408"/><path d="M29.2 751.0L85.2 751.0L87.2 748.5L89.2 746.1L91.2 744.5L93.2 743.1L95.2 741.7L97.2 740.4L99.2 739.3L101.2 738.3L103.2 737.5L105.2 736.7L109.2 735.2L113.2 733.9L117.2 732.7L121.2 731.6L125.2 730.6L129.2 729.8L133.2 729.1L137.2 728.5L141.2 727.9L145.2 727.3L149.2 726.7L153.2 726.2L161.2 725.5L169.2 725.1L177.2 724.9L185.2 724.8L193.2 724.7L201.2 724.5L209.2 723.7L217.2 722.5L225.2 721.3L233.2 720.0L241.2 718.8L257.2 716.3L273.2 713.8L289.2 711.3L305.2 708.9L321.2 706.6L337.2 704.3L353.2 702.0L369.2 699.7L385.2 697.5L401.2 695.4L417.2 693.5L433.2 691.6L449.2 690.0L465.2 688.4L481.2 686.9L497.2 685.5L513.2 684.1L529.2 682.8L545.2 681.6L561.2 680.4L577.2 679.2L593.2 678.2L609.2 677.2L625.2 676.2L641.2 675.2L657.2 674.1L657.7 674.1 L657.7 751 L29.2 751Z" fill="#d01107"/><path d="M29.2 751.0L85.2 751.0L87.2 748.9L89.2 746.5L91.2 744.9L93.2 743.4L95.2 742.1L97.2 740.8L99.2 739.7L101.2 738.7L103.2 737.9L105.2 737.1L109.2 735.6L113.2 734.3L117.2 733.2L121.2 732.1L125.2 731.1L129.2 730.3L133.2 729.7L137.2 729.0L141.2 728.5L145.2 727.9L149.2 727.3L153.2 726.9L161.2 726.2L169.2 725.8L177.2 725.6L185.2 725.5L193.2 725.4L201.2 725.3L209.2 724.5L217.2 723.3L225.2 722.1L233.2 720.9L241.2 719.6L257.2 717.1L273.2 714.6L289.2 712.1L305.2 709.8L321.2 707.4L337.2 705.1L353.2 702.8L369.2 700.5L385.2 698.4L401.2 696.3L417.2 694.3L433.2 692.5L449.2 690.8L465.2 689.2L481.2 687.7L497.2 686.3L513.2 685.0L529.2 683.6L545.2 682.4L561.2 681.2L577.2 680.1L593.2 679.0L609.2 678.0L625.2 677.0L641.2 676.0L657.2 675.0L657.7 674.9 L657.7 751 L29.2 751Z" fill="#cc0f06"/><path d="M29.2 751.0L85.2 751.0L87.2 749.2L89.2 746.8L91.2 745.2L93.2 743.8L95.2 742.4L97.2 741.2L99.2 740.0L101.2 739.1L103.2 738.3L105.2 737.5L109.2 736.1L113.2 734.8L117.2 733.6L121.2 732.6L125.2 731.6L129.2 730.9L133.2 730.2L137.2 729.6L141.2 729.0L145.2 728.5L149.2 727.9L153.2 727.5L161.2 726.8L169.2 726.5L177.2 726.3L185.2 726.3L193.2 726.2L201.2 726.1L209.2 725.4L217.2 724.2L225.2 722.9L233.2 721.7L241.2 720.4L257.2 717.9L273.2 715.4L289.2 713.0L305.2 710.6L321.2 708.2L337.2 705.9L353.2 703.6L369.2 701.4L385.2 699.2L401.2 697.1L417.2 695.1L433.2 693.3L449.2 691.6L465.2 690.1L481.2 688.6L497.2 687.1L513.2 685.8L529.2 684.5L545.2 683.2L561.2 682.0L577.2 680.9L593.2 679.8L609.2 678.8L625.2 677.8L641.2 676.8L657.2 675.8L657.7 675.7 L657.7 751 L29.2 751Z" fill="#c80c05"/><path d="M29.2 751.0L85.2 751.0L87.2 749.6L89.2 747.2L91.2 745.6L93.2 744.2L95.2 742.8L97.2 741.5L99.2 740.4L101.2 739.5L103.2 738.7L105.2 737.9L109.2 736.5L113.2 735.2L117.2 734.1L121.2 733.0L125.2 732.1L129.2 731.4L133.2 730.7L137.2 730.1L141.2 729.6L145.2 729.0L149.2 728.5L153.2 728.1L161.2 727.4L169.2 727.2L177.2 727.0L185.2 727.0L193.2 727.0L201.2 726.9L209.2 726.2L217.2 725.0L225.2 723.7L233.2 722.5L241.2 721.2L257.2 718.7L273.2 716.2L289.2 713.8L305.2 711.4L321.2 709.0L337.2 706.7L353.2 704.4L369.2 702.2L385.2 700.0L401.2 697.9L417.2 695.9L433.2 694.1L449.2 692.4L465.2 690.9L481.2 689.4L497.2 688.0L513.2 686.6L529.2 685.3L545.2 684.0L561.2 682.8L577.2 681.7L593.2 680.6L609.2 679.6L625.2 678.6L641.2 677.6L657.2 676.6L657.7 676.6 L657.7 751 L29.2 751Z" fill="#c40a05"/><path d="M29.2 751.0L85.2 751.0L87.2 749.9L89.2 747.5L91.2 745.9L93.2 744.5L95.2 743.2L97.2 741.9L99.2 740.8L101.2 739.9L103.2 739.1L105.2 738.3L109.2 736.9L113.2 735.7L117.2 734.5L121.2 733.5L125.2 732.6L129.2 731.9L133.2 731.2L137.2 730.7L141.2 730.1L145.2 729.6L149.2 729.1L153.2 728.7L161.2 728.1L169.2 727.8L177.2 727.8L185.2 727.7L193.2 727.7L201.2 727.7L209.2 727.0L217.2 725.8L225.2 724.6L233.2 723.3L241.2 722.1L257.2 719.6L273.2 717.1L289.2 714.6L305.2 712.2L321.2 709.9L337.2 707.5L353.2 705.2L369.2 703.0L385.2 700.8L401.2 698.7L417.2 696.7L433.2 694.9L449.2 693.3L465.2 691.7L481.2 690.2L497.2 688.8L513.2 687.4L529.2 686.1L545.2 684.9L561.2 683.7L577.2 682.5L593.2 681.5L609.2 680.4L625.2 679.4L641.2 678.4L657.2 677.4L657.7 677.4 L657.7 751 L29.2 751Z" fill="#c00704"/><path d="M29.2 751.0L85.2 751.0L87.2 750.3L89.2 747.9L91.2 746.3L93.2 744.9L95.2 743.6L97.2 742.3L99.2 741.2L101.2 740.3L103.2 739.5L105.2 738.7L109.2 737.4L113.2 736.1L117.2 735.0L121.2 734.0L125.2 733.1L129.2 732.4L133.2 731.8L137.2 731.2L141.2 730.7L145.2 730.2L149.2 729.7L153.2 729.3L161.2 728.7L169.2 728.5L177.2 728.5L185.2 728.5L193.2 728.5L201.2 728.5L209.2 727.8L217.2 726.6L225.2 725.4L233.2 724.1L241.2 722.9L257.2 720.4L273.2 717.9L289.2 715.4L305.2 713.0L321.2 710.7L337.2 708.4L353.2 706.1L369.2 703.8L385.2 701.6L401.2 699.5L417.2 697.6L433.2 695.7L449.2 694.1L465.2 692.5L481.2 691.0L497.2 689.6L513.2 688.2L529.2 686.9L545.2 685.7L561.2 684.5L577.2 683.3L593.2 682.3L609.2 681.3L625.2 680.3L641.2 679.3L657.2 678.2L657.7 678.2 L657.7 751 L29.2 751Z" fill="#bc0503"/><path d="M29.2 751.0L85.2 751.0L87.2 750.6L89.2 748.2L91.2 746.6L93.2 745.3L95.2 743.9L97.2 742.7L99.2 741.6L101.2 740.7L103.2 739.9L105.2 739.2L109.2 737.8L113.2 736.6L117.2 735.5L121.2 734.5L125.2 733.6L129.2 732.9L133.2 732.3L137.2 731.7L141.2 731.2L145.2 730.8L149.2 730.3L153.2 729.9L161.2 729.4L169.2 729.2L177.2 729.2L185.2 729.2L193.2 729.3L201.2 729.3L209.2 728.6L217.2 727.4L225.2 726.2L233.2 725.0L241.2 723.7L257.2 721.2L273.2 718.7L289.2 716.2L305.2 713.9L321.2 711.5L337.2 709.2L353.2 706.9L369.2 704.6L385.2 702.5L401.2 700.4L417.2 698.4L433.2 696.6L449.2 694.9L465.2 693.3L481.2 691.8L497.2 690.4L513.2 689.1L529.2 687.7L545.2 686.5L561.2 685.3L577.2 684.2L593.2 683.1L609.2 682.1L625.2 681.1L641.2 680.1L657.2 679.1L657.7 679.0 L657.7 751 L29.2 751Z" fill="#b80202"/><path d="M29.2 751.0L85.2 751.0L87.2 751.0L89.2 748.6L91.2 747.0L93.2 745.6L95.2 744.3L97.2 743.1L99.2 742.0L101.2 741.1L103.2 740.3L105.2 739.6L109.2 738.2L113.2 737.0L117.2 735.9L121.2 735.0L125.2 734.1L129.2 733.4L133.2 732.8L137.2 732.3L141.2 731.8L145.2 731.3L149.2 730.9L153.2 730.5L161.2 730.0L169.2 729.9L177.2 729.9L185.2 730.0L193.2 730.1L201.2 730.1L209.2 729.5L217.2 728.3L225.2 727.0L233.2 725.8L241.2 724.5L257.2 722.0L273.2 719.5L289.2 717.1L305.2 714.7L321.2 712.3L337.2 710.0L353.2 707.7L369.2 705.5L385.2 703.3L401.2 701.2L417.2 699.2L433.2 697.4L449.2 695.7L465.2 694.2L481.2 692.7L497.2 691.2L513.2 689.9L529.2 688.6L545.2 687.3L561.2 686.1L577.2 685.0L593.2 683.9L609.2 682.9L625.2 681.9L641.2 680.9L657.2 679.9L657.7 679.8 L657.7 751 L29.2 751Z" fill="#b40202"/><path d="M29.2 751.0L87.2 751.0L89.2 748.9L91.2 747.4L93.2 746.0L95.2 744.7L97.2 743.4L99.2 742.4L101.2 741.5L103.2 740.7L105.2 740.0L109.2 738.6L113.2 737.5L117.2 736.4L121.2 735.4L125.2 734.6L129.2 733.9L133.2 733.3L137.2 732.8L141.2 732.4L145.2 731.9L149.2 731.5L153.2 731.1L161.2 730.6L169.2 730.5L177.2 730.6L185.2 730.7L193.2 730.8L201.2 730.9L209.2 730.3L217.2 729.1L225.2 727.8L233.2 726.6L241.2 725.3L257.2 722.8L273.2 720.3L289.2 717.9L305.2 715.5L321.2 713.1L337.2 710.8L353.2 708.5L369.2 706.3L385.2 704.1L401.2 702.0L417.2 700.0L433.2 698.2L449.2 696.5L465.2 695.0L481.2 693.5L497.2 692.1L513.2 690.7L529.2 689.4L545.2 688.1L561.2 686.9L577.2 685.8L593.2 684.7L609.2 683.7L625.2 682.7L641.2 681.7L657.2 680.7L657.7 680.7 L657.7 751 L29.2 751Z" fill="#af0202"/><path d="M29.2 751.0L87.2 751.0L89.2 749.3L91.2 747.7L93.2 746.4L95.2 745.0L97.2 743.8L99.2 742.8L101.2 741.9L103.2 741.1L105.2 740.4L109.2 739.1L113.2 737.9L117.2 736.8L121.2 735.9L125.2 735.1L129.2 734.4L133.2 733.9L137.2 733.4L141.2 732.9L145.2 732.5L149.2 732.1L153.2 731.7L161.2 731.3L169.2 731.2L177.2 731.3L185.2 731.4L193.2 731.6L201.2 731.7L209.2 731.1L217.2 729.9L225.2 728.7L233.2 727.4L241.2 726.2L257.2 723.7L273.2 721.2L289.2 718.7L305.2 716.3L321.2 714.0L337.2 711.6L353.2 709.3L369.2 707.1L385.2 704.9L401.2 702.8L417.2 700.8L433.2 699.0L449.2 697.4L465.2 695.8L481.2 694.3L497.2 692.9L513.2 691.5L529.2 690.2L545.2 689.0L561.2 687.8L577.2 686.6L593.2 685.6L609.2 684.5L625.2 683.5L641.2 682.5L657.2 681.5L657.7 681.5 L657.7 751 L29.2 751Z" fill="#ab0101"/><path d="M29.2 751.0L87.2 751.0L89.2 749.6L91.2 748.1L93.2 746.7L95.2 745.4L97.2 744.2L99.2 743.1L101.2 742.3L103.2 741.5L105.2 740.8L109.2 739.5L113.2 738.3L117.2 737.3L121.2 736.4L125.2 735.6L129.2 734.9L133.2 734.4L137.2 733.9L141.2 733.5L145.2 733.1L149.2 732.7L153.2 732.3L161.2 731.9L169.2 731.9L177.2 732.0L185.2 732.2L193.2 732.4L201.2 732.5L209.2 731.9L217.2 730.7L225.2 729.5L233.2 728.2L241.2 727.0L257.2 724.5L273.2 722.0L289.2 719.5L305.2 717.1L321.2 714.8L337.2 712.5L353.2 710.2L369.2 707.9L385.2 705.7L401.2 703.6L417.2 701.7L433.2 699.8L449.2 698.2L465.2 696.6L481.2 695.1L497.2 693.7L513.2 692.3L529.2 691.0L545.2 689.8L561.2 688.6L577.2 687.4L593.2 686.4L609.2 685.4L625.2 684.4L641.2 683.4L657.2 682.3L657.7 682.3 L657.7 751 L29.2 751Z" fill="#a60101"/><path d="M29.2 751.0L87.2 751.0L89.2 750.0L91.2 748.4L93.2 747.1L95.2 745.8L97.2 744.6L99.2 743.5L101.2 742.7L103.2 741.9L105.2 741.2L109.2 739.9L113.2 738.8L117.2 737.8L121.2 736.9L125.2 736.1L129.2 735.4L133.2 734.9L137.2 734.5L141.2 734.0L145.2 733.6L149.2 733.3L153.2 732.9L161.2 732.6L169.2 732.6L177.2 732.7L185.2 732.9L193.2 733.1L201.2 733.3L209.2 732.7L217.2 731.5L225.2 730.3L233.2 729.1L241.2 727.8L257.2 725.3L273.2 722.8L289.2 720.3L305.2 718.0L321.2 715.6L337.2 713.3L353.2 711.0L369.2 708.7L385.2 706.6L401.2 704.5L417.2 702.5L433.2 700.7L449.2 699.0L465.2 697.4L481.2 695.9L497.2 694.5L513.2 693.2L529.2 691.8L545.2 690.6L561.2 689.4L577.2 688.3L593.2 687.2L609.2 686.2L625.2 685.2L641.2 684.2L657.2 683.2L657.7 683.1 L657.7 751 L29.2 751Z" fill="#a20101"/><path d="M29.2 751.0L87.2 751.0L89.2 750.3L91.2 748.8L93.2 747.4L95.2 746.2L97.2 745.0L99.2 743.9L101.2 743.1L103.2 742.3L105.2 741.6L109.2 740.4L113.2 739.2L117.2 738.2L121.2 737.3L125.2 736.6L129.2 736.0L133.2 735.4L137.2 735.0L141.2 734.6L145.2 734.2L149.2 733.8L153.2 733.5L161.2 733.2L169.2 733.2L177.2 733.4L185.2 733.7L193.2 733.9L201.2 734.1L209.2 733.6L217.2 732.4L225.2 731.1L233.2 729.9L241.2 728.6L257.2 726.1L273.2 723.6L289.2 721.2L305.2 718.8L321.2 716.4L337.2 714.1L353.2 711.8L369.2 709.6L385.2 707.4L401.2 705.3L417.2 703.3L433.2 701.5L449.2 699.8L465.2 698.3L481.2 696.8L497.2 695.3L513.2 694.0L529.2 692.7L545.2 691.4L561.2 690.2L577.2 689.1L593.2 688.0L609.2 687.0L625.2 686.0L641.2 685.0L657.2 684.0L657.7 683.9 L657.7 751 L29.2 751Z" fill="#9e0101"/><path d="M29.2 751.0L87.2 751.0L89.2 750.7L91.2 749.1L93.2 747.8L95.2 746.5L97.2 745.3L99.2 744.3L101.2 743.5L103.2 742.7L105.2 742.0L109.2 740.8L113.2 739.7L117.2 738.7L121.2 737.8L125.2 737.1L129.2 736.5L133.2 736.0L137.2 735.6L141.2 735.2L145.2 734.8L149.2 734.4L153.2 734.2L161.2 733.9L169.2 733.9L177.2 734.1L185.2 734.4L193.2 734.7L201.2 734.9L209.2 734.4L217.2 733.2L225.2 731.9L233.2 730.7L241.2 729.4L257.2 726.9L273.2 724.4L289.2 722.0L305.2 719.6L321.2 717.2L337.2 714.9L353.2 712.6L369.2 710.4L385.2 708.2L401.2 706.1L417.2 704.1L433.2 702.3L449.2 700.6L465.2 699.1L481.2 697.6L497.2 696.2L513.2 694.8L529.2 693.5L545.2 692.2L561.2 691.0L577.2 689.9L593.2 688.8L609.2 687.8L625.2 686.8L641.2 685.8L657.2 684.8L657.7 684.8 L657.7 751 L29.2 751Z" fill="#990101"/><path d="M29.2 751.0L89.2 751.0L91.2 749.5L93.2 748.2L95.2 746.9L97.2 745.7L99.2 744.7L101.2 743.9L103.2 743.1L105.2 742.5L109.2 741.2L113.2 740.1L117.2 739.2L121.2 738.3L125.2 737.6L129.2 737.0L133.2 736.5L137.2 736.1L141.2 735.7L145.2 735.4L149.2 735.0L153.2 734.8L161.2 734.5L169.2 734.6L177.2 734.8L185.2 735.1L193.2 735.5L201.2 735.7L209.2 735.2L217.2 734.0L225.2 732.8L233.2 731.5L241.2 730.3L257.2 727.8L273.2 725.3L289.2 722.8L305.2 720.4L321.2 718.1L337.2 715.7L353.2 713.4L369.2 711.2L385.2 709.0L401.2 706.9L417.2 704.9L433.2 703.1L449.2 701.5L465.2 699.9L481.2 698.4L497.2 697.0L513.2 695.6L529.2 694.3L545.2 693.1L561.2 691.9L577.2 690.7L593.2 689.7L609.2 688.6L625.2 687.6L641.2 686.6L657.2 685.6L657.7 685.6 L657.7 751 L29.2 751Z" fill="#950000"/><path d="M29.2 751.0L89.2 751.0L91.2 749.8L93.2 748.5L95.2 747.3L97.2 746.1L99.2 745.1L101.2 744.3L103.2 743.5L105.2 742.9L109.2 741.6L113.2 740.6L117.2 739.6L121.2 738.8L125.2 738.1L129.2 737.5L133.2 737.0L137.2 736.6L141.2 736.3L145.2 735.9L149.2 735.6L153.2 735.4L161.2 735.1L169.2 735.3L177.2 735.5L185.2 735.9L193.2 736.2L201.2 736.5L209.2 736.0L217.2 734.8L225.2 733.6L233.2 732.3L241.2 731.1L257.2 728.6L273.2 726.1L289.2 723.6L305.2 721.2L321.2 718.9L337.2 716.6L353.2 714.3L369.2 712.0L385.2 709.8L401.2 707.7L417.2 705.8L433.2 703.9L449.2 702.3L465.2 700.7L481.2 699.2L497.2 697.8L513.2 696.4L529.2 695.1L545.2 693.9L561.2 692.7L577.2 691.5L593.2 690.5L609.2 689.5L625.2 688.5L641.2 687.5L657.2 686.4L657.7 686.4 L657.7 751 L29.2 751Z" fill="#900000"/><path d="M29.2 751.0L89.2 751.0L91.2 750.2L93.2 748.9L95.2 747.6L97.2 746.5L99.2 745.5L101.2 744.6L103.2 743.9L105.2 743.3L109.2 742.1L113.2 741.0L117.2 740.1L121.2 739.2L125.2 738.5L129.2 738.0L133.2 737.6L137.2 737.2L141.2 736.8L145.2 736.5L149.2 736.2L153.2 736.0L161.2 735.8L169.2 735.9L177.2 736.2L185.2 736.6L193.2 737.0L201.2 737.4L209.2 736.8L217.2 735.6L225.2 734.4L233.2 733.2L241.2 731.9L257.2 729.4L273.2 726.9L289.2 724.4L305.2 722.1L321.2 719.7L337.2 717.4L353.2 715.1L369.2 712.8L385.2 710.7L401.2 708.6L417.2 706.6L433.2 704.8L449.2 703.1L465.2 701.5L481.2 700.0L497.2 698.6L513.2 697.3L529.2 695.9L545.2 694.7L561.2 693.5L577.2 692.4L593.2 691.3L609.2 690.3L625.2 689.3L641.2 688.3L657.2 687.3L657.7 687.2 L657.7 751 L29.2 751Z" fill="#8c0000"/><path d="M29.2 751.0L89.2 751.0L91.2 750.6L93.2 749.3L95.2 748.0L97.2 746.9L99.2 745.9L101.2 745.0L103.2 744.3L105.2 743.7L109.2 742.5L113.2 741.5L117.2 740.5L121.2 739.7L125.2 739.0L129.2 738.5L133.2 738.1L137.2 737.7L141.2 737.4L145.2 737.1L149.2 736.8L153.2 736.6L161.2 736.4L169.2 736.6L177.2 736.9L185.2 737.3L193.2 737.8L201.2 738.2L209.2 737.7L217.2 736.5L225.2 735.2L233.2 734.0L241.2 732.7L257.2 730.2L273.2 727.7L289.2 725.3L305.2 722.9L321.2 720.5L337.2 718.2L353.2 715.9L369.2 713.7L385.2 711.5L401.2 709.4L417.2 707.4L433.2 705.6L449.2 703.9L465.2 702.4L481.2 700.9L497.2 699.4L513.2 698.1L529.2 696.8L545.2 695.5L561.2 694.3L577.2 693.2L593.2 692.1L609.2 691.1L625.2 690.1L641.2 689.1L657.2 688.1L657.7 688.0 L657.7 751 L29.2 751Z" fill="#8b0000"/><path d="M29.2 751.0L89.2 751.0L91.2 750.9L93.2 749.6L95.2 748.4L97.2 747.2L99.2 746.2L101.2 745.4L103.2 744.7L105.2 744.1L109.2 742.9L113.2 741.9L117.2 741.0L121.2 740.2L125.2 739.5L129.2 739.0L133.2 738.6L137.2 738.3L141.2 738.0L145.2 737.7L149.2 737.4L153.2 737.2L161.2 737.1L169.2 737.3L177.2 737.6L185.2 738.1L193.2 738.5L201.2 739.0L209.2 738.5L217.2 737.3L225.2 736.0L233.2 734.8L241.2 733.5L257.2 731.0L273.2 728.5L289.2 726.1L305.2 723.7L321.2 721.3L337.2 719.0L353.2 716.7L369.2 714.5L385.2 712.3L401.2 710.2L417.2 708.2L433.2 706.4L449.2 704.7L465.2 703.2L481.2 701.7L497.2 700.3L513.2 698.9L529.2 697.6L545.2 696.3L561.2 695.1L577.2 694.0L593.2 692.9L609.2 691.9L625.2 690.9L641.2 689.9L657.2 688.9L657.7 688.9 L657.7 751 L29.2 751Z" fill="#890000"/><path d="M29.2 751.0L91.2 751.0L93.2 750.0L95.2 748.8L97.2 747.6L99.2 746.6L101.2 745.8L103.2 745.2L105.2 744.5L109.2 743.4L113.2 742.3L117.2 741.5L121.2 740.7L125.2 740.0L129.2 739.5L133.2 739.1L137.2 738.8L141.2 738.5L145.2 738.2L149.2 738.0L153.2 737.8L161.2 737.7L169.2 737.9L177.2 738.3L185.2 738.8L193.2 739.3L201.2 739.8L209.2 739.3L217.2 738.1L225.2 736.9L233.2 735.6L241.2 734.4L257.2 731.9L273.2 729.4L289.2 726.9L305.2 724.5L321.2 722.2L337.2 719.8L353.2 717.5L369.2 715.3L385.2 713.1L401.2 711.0L417.2 709.0L433.2 707.2L449.2 705.6L465.2 704.0L481.2 702.5L497.2 701.1L513.2 699.7L529.2 698.4L545.2 697.2L561.2 696.0L577.2 694.8L593.2 693.8L609.2 692.7L625.2 691.7L641.2 690.7L657.2 689.7L657.7 689.7 L657.7 751 L29.2 751Z" fill="#880000"/><path d="M29.2 751.0L91.2 751.0L93.2 750.3L95.2 749.1L97.2 748.0L99.2 747.0L101.2 746.2L103.2 745.6L105.2 744.9L109.2 743.8L113.2 742.8L117.2 741.9L121.2 741.2L125.2 740.5L129.2 740.0L133.2 739.7L137.2 739.4L141.2 739.1L145.2 738.8L149.2 738.6L153.2 738.4L161.2 738.3L169.2 738.6L177.2 739.1L185.2 739.6L193.2 740.1L201.2 740.6L209.2 740.1L217.2 738.9L225.2 737.7L233.2 736.4L241.2 735.2L257.2 732.7L273.2 730.2L289.2 727.7L305.2 725.3L321.2 723.0L337.2 720.7L353.2 718.4L369.2 716.1L385.2 713.9L401.2 711.8L417.2 709.9L433.2 708.0L449.2 706.4L465.2 704.8L481.2 703.3L497.2 701.9L513.2 700.5L529.2 699.2L545.2 698.0L561.2 696.8L577.2 695.6L593.2 694.6L609.2 693.6L625.2 692.6L641.2 691.6L657.2 690.5L657.7 690.5 L657.7 751 L29.2 751Z" fill="#860000"/><path d="M29.2 751.0L91.2 751.0L93.2 750.7L95.2 749.5L97.2 748.4L99.2 747.4L101.2 746.6L103.2 746.0L105.2 745.3L109.2 744.2L113.2 743.2L117.2 742.4L121.2 741.6L125.2 741.0L129.2 740.5L133.2 740.2L137.2 739.9L141.2 739.6L145.2 739.4L149.2 739.2L153.2 739.0L161.2 739.0L169.2 739.3L177.2 739.8L185.2 740.3L193.2 740.9L201.2 741.4L209.2 740.9L217.2 739.7L225.2 738.5L233.2 737.3L241.2 736.0L257.2 733.5L273.2 731.0L289.2 728.5L305.2 726.2L321.2 723.8L337.2 721.5L353.2 719.2L369.2 716.9L385.2 714.8L401.2 712.7L417.2 710.7L433.2 708.9L449.2 707.2L465.2 705.6L481.2 704.1L497.2 702.7L513.2 701.4L529.2 700.0L545.2 698.8L561.2 697.6L577.2 696.5L593.2 695.4L609.2 694.4L625.2 693.4L641.2 692.4L657.2 691.4L657.7 691.3 L657.7 751 L29.2 751Z" fill="#850000"/><path d="M29.2 751.0L93.2 751.0L95.2 749.9L97.2 748.8L99.2 747.8L101.2 747.0L103.2 746.4L105.2 745.7L109.2 744.6L113.2 743.7L117.2 742.8L121.2 742.1L125.2 741.5L129.2 741.1L133.2 740.7L137.2 740.4L141.2 740.2L145.2 740.0L149.2 739.8L153.2 739.6L161.2 739.6L169.2 740.0L177.2 740.5L185.2 741.0L193.2 741.6L201.2 742.2L209.2 741.8L217.2 740.6L225.2 739.3L233.2 738.1L241.2 736.8L257.2 734.3L273.2 731.8L289.2 729.4L305.2 727.0L321.2 724.6L337.2 722.3L353.2 720.0L369.2 717.8L385.2 715.6L401.2 713.5L417.2 711.5L433.2 709.7L449.2 708.0L465.2 706.5L481.2 705.0L497.2 703.5L513.2 702.2L529.2 700.9L545.2 699.6L561.2 698.4L577.2 697.3L593.2 696.2L609.2 695.2L625.2 694.2L641.2 693.2L657.2 692.2L657.7 692.1 L657.7 751 L29.2 751Z" fill="#830000"/><path d="M29.2 751.0L93.2 751.0L95.2 750.2L97.2 749.1L99.2 748.2L101.2 747.4L103.2 746.8L105.2 746.2L109.2 745.1L113.2 744.1L117.2 743.3L121.2 742.6L125.2 742.0L129.2 741.6L133.2 741.2L137.2 741.0L141.2 740.8L145.2 740.5L149.2 740.4L153.2 740.2L161.2 740.3L169.2 740.6L177.2 741.2L185.2 741.8L193.2 742.4L201.2 743.0L209.2 742.6L217.2 741.4L225.2 740.1L233.2 738.9L241.2 737.6L257.2 735.1L273.2 732.6L289.2 730.2L305.2 727.8L321.2 725.4L337.2 723.1L353.2 720.8L369.2 718.6L385.2 716.4L401.2 714.3L417.2 712.3L433.2 710.5L449.2 708.8L465.2 707.3L481.2 705.8L497.2 704.4L513.2 703.0L529.2 701.7L545.2 700.4L561.2 699.2L577.2 698.1L593.2 697.0L609.2 696.0L625.2 695.0L641.2 694.0L657.2 693.0L657.7 693.0 L657.7 751 L29.2 751Z" fill="#820000"/><path d="M29.2 751.0L93.2 751.0L95.2 750.6L97.2 749.5L99.2 748.6L101.2 747.8L103.2 747.2L105.2 746.6L109.2 745.5L113.2 744.6L117.2 743.8L121.2 743.1L125.2 742.5L129.2 742.1L133.2 741.8L137.2 741.5L141.2 741.3L145.2 741.1L149.2 741.0L153.2 740.8L161.2 740.9L169.2 741.3L177.2 741.9L185.2 742.5L193.2 743.2L201.2 743.8L209.2 743.4L217.2 742.2L225.2 741.0L233.2 739.7L241.2 738.5L257.2 736.0L273.2 733.5L289.2 731.0L305.2 728.6L321.2 726.3L337.2 723.9L353.2 721.6L369.2 719.4L385.2 717.2L401.2 715.1L417.2 713.1L433.2 711.3L449.2 709.7L465.2 708.1L481.2 706.6L497.2 705.2L513.2 703.8L529.2 702.5L545.2 701.3L561.2 700.1L577.2 698.9L593.2 697.9L609.2 696.8L625.2 695.8L641.2 694.8L657.2 693.8L657.7 693.8 L657.7 751 L29.2 751Z" fill="#800000"/><path d="M29.2 751.0L93.2 751.0L95.2 751.0L97.2 749.9L99.2 749.0L101.2 748.2L103.2 747.6L105.2 747.0L109.2 745.9L113.2 745.0L117.2 744.2L121.2 743.5L125.2 743.0L129.2 742.6L133.2 742.3L137.2 742.1L141.2 741.9L145.2 741.7L149.2 741.5L153.2 741.5L161.2 741.5L169.2 742.0L177.2 742.6L185.2 743.3L193.2 744.0L201.2 744.6L209.2 744.2L217.2 743.0L225.2 741.8L233.2 740.5L241.2 739.3L257.2 736.8L273.2 734.3L289.2 731.8L305.2 729.4L321.2 727.1L337.2 724.8L353.2 722.5L369.2 720.2L385.2 718.0L401.2 715.9L417.2 714.0L433.2 712.1L449.2 710.5L465.2 708.9L481.2 707.4L497.2 706.0L513.2 704.6L529.2 703.3L545.2 702.1L561.2 700.9L577.2 699.7L593.2 698.7L609.2 697.7L625.2 696.7L641.2 695.7L657.2 694.6L657.7 694.6 L657.7 751 L29.2 751Z" fill="#7f0000"/><path d="M29.2 751.0L95.2 751.0L97.2 750.3L99.2 749.3L101.2 748.6L103.2 748.0L105.2 747.4L109.2 746.4L113.2 745.5L117.2 744.7L121.2 744.0L125.2 743.5L129.2 743.1L133.2 742.8L137.2 742.6L141.2 742.4L145.2 742.3L149.2 742.1L153.2 742.1L161.2 742.2L169.2 742.7L177.2 743.3L185.2 744.0L193.2 744.7L201.2 745.4L209.2 745.0L217.2 743.8L225.2 742.6L233.2 741.4L241.2 740.1L257.2 737.6L273.2 735.1L289.2 732.6L305.2 730.3L321.2 727.9L337.2 725.6L353.2 723.3L369.2 721.0L385.2 718.9L401.2 716.8L417.2 714.8L433.2 713.0L449.2 711.3L465.2 709.7L481.2 708.2L497.2 706.8L513.2 705.5L529.2 704.1L545.2 702.9L561.2 701.7L577.2 700.6L593.2 699.5L609.2 698.5L625.2 697.5L641.2 696.5L657.2 695.5L657.7 695.4 L657.7 751 L29.2 751Z" fill="#7d0000"/><path d="M29.2 751.0L95.2 751.0L97.2 750.7L99.2 749.7L101.2 749.0L103.2 748.4L105.2 747.8L109.2 746.8L113.2 745.9L117.2 745.1L121.2 744.5L125.2 744.0L129.2 743.6L133.2 743.3L137.2 743.2L141.2 743.0L145.2 742.8L149.2 742.7L153.2 742.7L161.2 742.8L169.2 743.3L177.2 744.0L185.2 744.7L193.2 745.5L201.2 746.2L209.2 745.9L217.2 744.7L225.2 743.4L233.2 742.2L241.2 740.9L257.2 738.4L273.2 735.9L289.2 733.5L305.2 731.1L321.2 728.7L337.2 726.4L353.2 724.1L369.2 721.9L385.2 719.7L401.2 717.6L417.2 715.6L433.2 713.8L449.2 712.1L465.2 710.6L481.2 709.1L497.2 707.6L513.2 706.3L529.2 705.0L545.2 703.7L561.2 702.5L577.2 701.4L593.2 700.3L609.2 699.3L625.2 698.3L641.2 697.3L657.2 696.3L657.7 696.2 L657.7 751 L29.2 751Z" fill="#7c0000"/><path d="M29.2 751.0L97.2 751.0L99.2 750.1L101.2 749.4L103.2 748.8L105.2 748.2L109.2 747.2L113.2 746.3L117.2 745.6L121.2 745.0L125.2 744.5L129.2 744.1L133.2 743.9L137.2 743.7L141.2 743.6L145.2 743.4L149.2 743.3L153.2 743.3L161.2 743.5L169.2 744.0L177.2 744.7L185.2 745.5L193.2 746.3L201.2 747.0L209.2 746.7L217.2 745.5L225.2 744.2L233.2 743.0L241.2 741.7L257.2 739.2L273.2 736.7L289.2 734.3L305.2 731.9L321.2 729.5L337.2 727.2L353.2 724.9L369.2 722.7L385.2 720.5L401.2 718.4L417.2 716.4L433.2 714.6L449.2 712.9L465.2 711.4L481.2 709.9L497.2 708.5L513.2 707.1L529.2 705.8L545.2 704.5L561.2 703.3L577.2 702.2L593.2 701.1L609.2 700.1L625.2 699.1L641.2 698.1L657.2 697.1L657.7 697.1 L657.7 751 L29.2 751Z" fill="#7c0000"/><path d="M29.2 751.0L97.2 751.0L99.2 750.5L101.2 749.8L103.2 749.2L105.2 748.6L109.2 747.6L113.2 746.8L117.2 746.1L121.2 745.5L125.2 745.0L129.2 744.6L133.2 744.4L137.2 744.2L141.2 744.1L145.2 744.0L149.2 743.9L153.2 743.9L161.2 744.1L169.2 744.7L177.2 745.4L185.2 746.2L193.2 747.0L201.2 747.8L209.2 747.5L217.2 746.3L225.2 745.1L233.2 743.8L241.2 742.6L257.2 740.1L273.2 737.6L289.2 735.1L305.2 732.7L321.2 730.4L337.2 728.0L353.2 725.7L369.2 723.5L385.2 721.3L401.2 719.2L417.2 717.2L433.2 715.4L449.2 713.8L465.2 712.2L481.2 710.7L497.2 709.3L513.2 707.9L529.2 706.6L545.2 705.4L561.2 704.2L577.2 703.0L593.2 702.0L609.2 700.9L625.2 699.9L641.2 698.9L657.2 697.9L657.7 697.9 L657.7 751 L29.2 751Z" fill="#7c0000"/><path d="M83.2 746.77 L85.2 742.38 L87.2 738.71 L89.2 736.34 L91.2 734.58 L93.2 732.92 L95.2 731.3 L97.2 729.79 L99.2 728.41 L101.2 727.24 L103.2 726.17 L105.2 725.14 L109.2 723.22 L113.2 721.44 L117.2 719.79 L121.2 718.24 L125.2 716.82 L129.2 715.55 L133.2 714.38 L137.2 713.29 L141.2 712.23 L145.2 711.18 L149.2 710.17 L153.2 709.22 L161.2 707.57 L169.2 706.29 L177.2 705.15 L185.2 704.09 L193.2 703.05 L201.2 701.95 L209.2 700.77 L217.2 699.55 L225.2 698.32 L233.2 697.08 L241.2 695.83 L257.2 693.32 L273.2 690.82 L289.2 688.36 L305.2 685.97 L321.2 683.62 L337.2 681.3 L353.2 679.01 L369.2 676.77 L385.2 674.59 L401.2 672.49 L417.2 670.5 L433.2 668.69 L449.2 667.02 L465.2 665.45 L481.2 663.97 L497.2 662.54 L513.2 661.18 L529.2 659.87 L545.2 658.61 L561.2 657.41 L577.2 656.28 L593.2 655.21 L609.2 654.19 L625.2 653.19 L641.2 652.2 L657.2 651.18 L657.7 651.15" fill="none" stroke="#9ab8b0" stroke-width="0.8" stroke-opacity="0.8"/></g><rect x="81.0" y="749.5" width="8.6" height="10.1" fill="#800000"/><rect x="298.3" y="749.5" width="8.8" height="10.1" fill="#800000"/><rect x="516.1" y="749.5" width="8.8" height="10.1" fill="#800000"/><path d="M86.6 764V740" stroke="#6ab04c" stroke-width="2"/><path d="M86.6 734.6L90.2 741.7L83 741.7Z" fill="#6ab04c"/><path d="M302.5 764V740" stroke="#6ab04c" stroke-width="2"/><path d="M302.5 734.6L306.1 741.7L298.9 741.7Z" fill="#6ab04c"/><path d="M519.6 764V740" stroke="#6ab04c" stroke-width="2"/><path d="M519.6 734.6L523.2 741.7L516 741.7Z" fill="#6ab04c"/><text x="5.2" y="656.4" font-size="20.5" font-weight="bold" fill="#000">(f)</text><g fill="#333"><rect x="31" y="654.5" width="1" height="1"/><rect x="45" y="654.5" width="1" height="1"/><rect x="31" y="703" width="1" height="1"/><rect x="45" y="703" width="1" height="1"/><rect x="31" y="748" width="1" height="1"/></g>
</svg></body></html>
